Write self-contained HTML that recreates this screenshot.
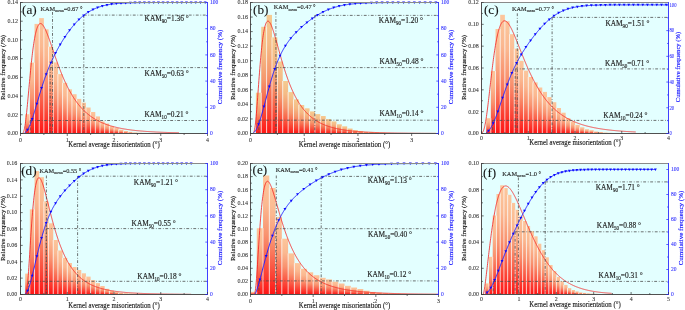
<!DOCTYPE html>
<html><head><meta charset="utf-8"><style>
html,body{margin:0;padding:0;background:#fff;}
svg{display:block;font-family:"Liberation Serif", serif;will-change:transform;}
</style></head><body>
<svg width="685" height="310" viewBox="0 0 685 310" xmlns="http://www.w3.org/2000/svg">
<defs><linearGradient id="bg" x1="0" y1="0" x2="0" y2="1">
<stop offset="0" stop-color="#fcc69c"/><stop offset="0.25" stop-color="#fbb890"/><stop offset="0.5" stop-color="#f9926f"/><stop offset="0.75" stop-color="#fb5542"/><stop offset="1" stop-color="#ff1414"/>
</linearGradient><linearGradient id="bg2" x1="0" y1="0" x2="0" y2="1">
<stop offset="0" stop-color="#f5cb91"/><stop offset="0.25" stop-color="#f5ba85"/><stop offset="0.5" stop-color="#f5966c"/><stop offset="0.75" stop-color="#f95840"/><stop offset="1" stop-color="#ff1614"/>
</linearGradient></defs>
<g><rect x="20.5" y="2.5" width="187.0" height="131.0" fill="#e3ffff"/>
<rect x="25.18" y="114.20" width="4.68" height="19.30" fill="url(#bg)"/>
<rect x="29.85" y="62.60" width="4.68" height="70.90" fill="url(#bg)"/>
<rect x="34.53" y="23.90" width="4.67" height="109.60" fill="url(#bg)"/>
<rect x="39.20" y="18.10" width="4.67" height="115.40" fill="url(#bg)"/>
<rect x="43.88" y="29.30" width="4.68" height="104.20" fill="url(#bg)"/>
<rect x="48.55" y="46.70" width="4.67" height="86.80" fill="url(#bg)"/>
<rect x="53.23" y="62.40" width="4.67" height="71.10" fill="url(#bg)"/>
<rect x="57.90" y="74.10" width="4.68" height="59.40" fill="url(#bg)"/>
<rect x="62.58" y="82.80" width="4.67" height="50.70" fill="url(#bg)"/>
<rect x="67.25" y="89.30" width="4.68" height="44.20" fill="url(#bg)"/>
<rect x="71.93" y="94.20" width="4.67" height="39.30" fill="url(#bg)"/>
<rect x="76.60" y="98.90" width="4.67" height="34.60" fill="url(#bg)"/>
<rect x="81.28" y="102.70" width="4.67" height="30.80" fill="url(#bg)"/>
<rect x="85.95" y="107.50" width="4.67" height="26.00" fill="url(#bg)"/>
<rect x="90.62" y="112.00" width="4.67" height="21.50" fill="url(#bg)"/>
<rect x="95.30" y="116.40" width="4.68" height="17.10" fill="url(#bg)"/>
<rect x="99.98" y="121.40" width="4.67" height="12.10" fill="url(#bg)"/>
<rect x="104.65" y="123.50" width="4.67" height="10.00" fill="url(#bg)"/>
<rect x="109.33" y="126.20" width="4.67" height="7.30" fill="url(#bg)"/>
<rect x="114.00" y="128.00" width="4.67" height="5.50" fill="url(#bg)"/>
<rect x="118.67" y="129.70" width="4.68" height="3.80" fill="url(#bg)"/>
<rect x="123.35" y="131.00" width="4.67" height="2.50" fill="url(#bg)"/>
<rect x="128.03" y="131.90" width="4.68" height="1.60" fill="url(#bg)"/>
<rect x="132.70" y="132.40" width="4.67" height="1.10" fill="url(#bg)"/>
<rect x="137.38" y="132.70" width="4.68" height="0.80" fill="url(#bg)"/>
<rect x="142.05" y="132.90" width="4.68" height="0.60" fill="url(#bg)"/>
<rect x="146.73" y="133.00" width="4.67" height="0.50" fill="url(#bg)"/>
<path d="M29.85,114.20V133.50 M34.53,62.60V133.50 M39.20,23.90V133.50 M43.88,29.30V133.50 M48.55,46.70V133.50 M53.23,62.40V133.50 M57.90,74.10V133.50 M62.58,82.80V133.50 M67.25,89.30V133.50 M71.93,94.20V133.50 M76.60,98.90V133.50 M81.28,102.70V133.50 M85.95,107.50V133.50 M90.62,112.00V133.50 M95.30,116.40V133.50 M99.98,121.40V133.50 M104.65,123.50V133.50 M109.33,126.20V133.50 M114.00,128.00V133.50 M118.67,129.70V133.50 M123.35,131.00V133.50 M128.03,131.90V133.50 M132.70,132.40V133.50 M137.38,132.70V133.50 M142.05,132.90V133.50 M146.73,133.00V133.50" stroke="#fff" stroke-opacity="0.85" stroke-width="0.8"/>
<polyline points="22.93,132.96 23.19,132.60 23.46,132.10 23.72,131.44 23.99,130.61 24.25,129.60 24.51,128.40 24.78,127.01 25.04,125.44 25.31,123.69 25.57,121.76 25.84,119.68 26.10,117.45 26.37,115.09 26.63,112.60 26.89,110.01 27.16,107.33 27.42,104.58 27.69,101.76 27.95,98.90 28.22,96.01 28.48,93.09 28.75,90.16 29.01,87.24 29.28,84.33 29.54,81.45 29.80,78.60 30.07,75.78 30.33,73.02 30.60,70.31 30.86,67.65 31.13,65.07 31.39,62.55 31.66,60.10 31.92,57.73 32.18,55.44 32.45,53.23 32.71,51.10 32.98,49.06 33.24,47.10 33.51,45.23 33.77,43.44 34.04,41.74 34.30,40.12 34.57,38.59 34.83,37.14 35.09,35.78 35.36,34.50 35.62,33.30 35.89,32.18 36.15,31.13 36.42,30.16 36.68,29.27 36.95,28.45 37.21,27.70 37.47,27.02 37.74,26.41 38.00,25.86 38.27,25.38 38.53,24.96 38.80,24.59 39.06,24.29 39.33,24.04 39.59,23.84 39.86,23.70 40.12,23.60 40.38,23.56 40.65,23.56 40.91,23.60 41.18,23.69 41.44,23.82 41.71,23.98 41.97,24.19 42.24,24.43 42.50,24.70 42.76,25.01 43.03,25.35 43.29,25.72 43.56,26.12 43.82,26.54 44.09,26.99 44.35,27.46 44.62,27.96 44.88,28.48 45.15,29.02 45.41,29.58 45.67,30.16 45.94,30.75 46.20,31.37 46.47,31.99 46.73,32.63 47.00,33.29 47.26,33.96 47.53,34.64 47.79,35.33 48.05,36.03 48.32,36.74 48.58,37.45 48.85,38.18 49.11,38.91 49.38,39.65 49.64,40.40 49.91,41.15 50.17,41.90 50.44,42.66 50.70,43.43 50.96,44.19 51.23,44.96 51.49,45.73 51.76,46.50 52.02,47.28 52.29,48.05 52.55,48.83 52.82,49.60 53.08,50.38 53.34,51.15 53.61,51.92 53.87,52.70 54.14,53.47 54.40,54.24 54.67,55.00 54.93,55.77 55.20,56.53 55.46,57.29 55.73,58.04 55.99,58.80 56.25,59.55 56.52,60.29 56.78,61.03 57.05,61.77 57.31,62.51 57.58,63.24 57.84,63.96 58.11,64.68 58.37,65.40 58.63,66.11 58.90,66.82 59.16,67.52 59.43,68.22 59.69,68.91 59.96,69.60 60.22,70.28 60.49,70.96 60.75,71.63 61.02,72.29 61.28,72.96 61.54,73.61 61.81,74.26 62.07,74.91 62.34,75.54 62.60,76.18 62.87,76.81 63.13,77.43 63.40,78.04 63.66,78.66 63.92,79.26 64.19,79.86 64.45,80.45 64.72,81.04 64.98,81.63 65.25,82.20 65.51,82.77 65.78,83.34 66.04,83.90 66.31,84.46 66.57,85.00 66.83,85.55 67.10,86.09 67.36,86.62 67.63,87.15 67.89,87.67 68.16,88.18 68.42,88.70 68.69,89.20 68.95,89.70 69.21,90.20 69.48,90.69 69.74,91.17 70.01,91.65 70.27,92.12 70.54,92.59 70.80,93.06 71.07,93.52 71.33,93.97 71.60,94.42 71.86,94.86 72.12,95.30 72.39,95.73 72.65,96.16 72.92,96.59 73.18,97.01 73.45,97.42 73.71,97.83 73.98,98.24 74.24,98.64 74.50,99.04 74.77,99.43 75.03,99.82 75.30,100.20 75.56,100.58 75.83,100.95 76.09,101.32 76.36,101.69 76.62,102.05 76.89,102.41 77.15,102.76 77.41,103.11 77.68,103.46 77.94,103.80 78.21,104.14 78.47,104.47 78.74,104.80 79.00,105.12 79.27,105.45 79.53,105.76 79.79,106.08 80.06,106.39 80.32,106.70 80.59,107.00 80.85,107.30 81.12,107.60 81.38,107.89 81.65,108.18 81.91,108.47 82.18,108.75 82.44,109.03 82.70,109.30 82.97,109.58 83.23,109.85 83.50,110.11 83.76,110.38 84.03,110.64 84.29,110.89 84.56,111.15 84.82,111.40 85.08,111.65 85.35,111.89 85.61,112.13 85.88,112.37 86.14,112.61 86.41,112.84 86.67,113.08 86.94,113.30 87.20,113.53 87.47,113.75 87.73,113.97 87.99,114.19 88.26,114.41 88.52,114.62 88.79,114.83 89.05,115.04 89.32,115.24 89.58,115.44 89.85,115.64 90.11,115.84 90.37,116.04 90.64,116.23 90.90,116.42 91.17,116.61 91.43,116.80 91.70,116.98 91.96,117.16 92.23,117.34 92.49,117.52 92.76,117.70 93.02,117.87 93.28,118.04 93.55,118.21 93.81,118.38 94.08,118.55 94.34,118.71 94.61,118.87 94.87,119.03 95.14,119.19 95.40,119.35 95.66,119.50 95.93,119.65 96.19,119.80 96.46,119.95 96.72,120.10 96.99,120.24 97.25,120.39 97.52,120.53 97.78,120.67 98.05,120.81 98.31,120.95 98.57,121.08 98.84,121.22 99.10,121.35 99.37,121.48 99.63,121.61 99.90,121.74 100.16,121.86 100.43,121.99 100.69,122.11 100.95,122.23 101.22,122.35 101.48,122.47 101.75,122.59 102.01,122.71 102.28,122.82 102.54,122.93 102.81,123.05 103.07,123.16 103.34,123.27 103.60,123.38 103.86,123.48 104.13,123.59 104.39,123.69 104.66,123.80 104.92,123.90 105.19,124.00 105.45,124.10 105.72,124.20 105.98,124.30 106.24,124.40 106.51,124.49 106.77,124.59 107.04,124.68 107.30,124.77 107.57,124.86 107.83,124.95 108.10,125.04 108.36,125.13 108.63,125.22 108.89,125.30 109.15,125.39 109.42,125.47 109.68,125.56 109.95,125.64 110.21,125.72 110.48,125.80 110.74,125.88 111.01,125.96 111.27,126.04 111.53,126.11 111.80,126.19 112.06,126.26 112.33,126.34 112.59,126.41 112.86,126.48 113.12,126.56 113.39,126.63 113.65,126.70 113.92,126.77 114.18,126.84 114.44,126.90 114.71,126.97 114.97,127.04 115.24,127.10 115.50,127.17 115.77,127.23 116.03,127.30 116.30,127.36 116.56,127.42 116.82,127.48 117.09,127.54 117.35,127.60 117.62,127.66 117.88,127.72 118.15,127.78 118.41,127.84 118.68,127.89 118.94,127.95 119.21,128.01 119.47,128.06 119.73,128.11 120.00,128.17 120.26,128.22 120.53,128.27 120.79,128.33 121.06,128.38 121.32,128.43 121.59,128.48 121.85,128.53 122.11,128.58 122.38,128.63 122.64,128.67 122.91,128.72 123.17,128.77 123.44,128.82 123.70,128.86 123.97,128.91 124.23,128.95 124.50,129.00 124.76,129.04 125.02,129.09 125.29,129.13 125.55,129.17 125.82,129.21 126.08,129.26 126.35,129.30 126.61,129.34 126.88,129.38 127.14,129.42 127.40,129.46 127.67,129.50 127.93,129.54 128.20,129.57 128.46,129.61 128.73,129.65 128.99,129.69 129.26,129.72 129.52,129.76 129.79,129.80 130.05,129.83 130.31,129.87 130.58,129.90 130.84,129.94 131.11,129.97 131.37,130.00 131.64,130.04 131.90,130.07 132.17,130.10 132.43,130.14 132.69,130.17 132.96,130.20 133.22,130.23 133.49,130.26 133.75,130.29 134.02,130.32 134.28,130.35 134.55,130.38 134.81,130.41 135.08,130.44 135.34,130.47 135.60,130.50 135.87,130.53 136.13,130.55 136.40,130.58 136.66,130.61 136.93,130.64 137.19,130.66 137.46,130.69 137.72,130.72 137.98,130.74 138.25,130.77 138.51,130.79 138.78,130.82 139.04,130.84 139.31,130.87 139.57,130.89 139.84,130.92 140.10,130.94 140.37,130.96 140.63,130.99 140.89,131.01 141.16,131.03 141.42,131.06 141.69,131.08 141.95,131.10 142.22,131.12 142.48,131.14 142.75,131.17 143.01,131.19 143.27,131.21 143.54,131.23 143.80,131.25 144.07,131.27 144.33,131.29 144.60,131.31 144.86,131.33 145.13,131.35 145.39,131.37 145.66,131.39 145.92,131.41 146.18,131.43 146.45,131.45 146.71,131.47 146.98,131.48 147.24,131.50 147.51,131.52 147.77,131.54 148.04,131.56 148.30,131.57 148.56,131.59 148.83,131.61 149.09,131.62 149.36,131.64 149.62,131.66 149.89,131.67 150.15,131.69 150.42,131.71 150.68,131.72 150.95,131.74 151.21,131.75 151.47,131.77 151.74,131.78 152.00,131.80 152.27,131.82 152.53,131.83 152.80,131.84 153.06,131.86 153.33,131.87 153.59,131.89 153.85,131.90 154.12,131.92 154.38,131.93 154.65,131.94 154.91,131.96 155.18,131.97 155.44,131.98 155.71,132.00 155.97,132.01 156.24,132.02 156.50,132.04 156.76,132.05 157.03,132.06 157.29,132.08 157.56,132.09 157.82,132.10 158.09,132.11 158.35,132.12 158.62,132.14 158.88,132.15 159.14,132.16 159.41,132.17 159.67,132.18 159.94,132.19 160.20,132.21 160.47,132.22 160.73,132.23 161.00,132.24 161.26,132.25 161.53,132.26 161.79,132.27 162.05,132.28 162.32,132.29 162.58,132.30 162.85,132.31 163.11,132.32 163.38,132.33 163.64,132.34 163.91,132.35 164.17,132.36 164.43,132.37 164.70,132.38 164.96,132.39 165.23,132.40 165.49,132.41 165.76,132.42 166.02,132.43 166.29,132.44 166.55,132.45 166.82,132.45 167.08,132.46 167.34,132.47 167.61,132.48 167.87,132.49 168.14,132.50 168.40,132.51 168.67,132.51 168.93,132.52 169.20,132.53 169.46,132.54 169.72,132.55 169.99,132.55 170.25,132.56 170.52,132.57 170.78,132.58 171.05,132.59 171.31,132.59 171.58,132.60 171.84,132.61 172.11,132.62 172.37,132.62 172.63,132.63 172.90,132.64 173.16,132.64 173.43,132.65 173.69,132.66 173.96,132.67 174.22,132.67 174.49,132.68 174.75,132.69 175.01,132.69 175.28,132.70 175.54,132.71 175.81,132.71 176.07,132.72 176.34,132.72 176.60,132.73 176.87,132.74 177.13,132.74 177.40,132.75 177.66,132.76 177.92,132.76 178.19,132.77 178.45,132.77 178.72,132.78 178.98,132.79" fill="none" stroke="#f41c1c" stroke-width="0.8"/>
<line x1="30.2" y1="120.5" x2="30.2" y2="133.5" stroke="#4c4c4c" stroke-width="0.8" stroke-dasharray="2.85 1.75 0.8 1.6" fill="none"/>
<line x1="50.2" y1="67.6" x2="50.2" y2="133.5" stroke="#4c4c4c" stroke-width="0.8" stroke-dasharray="2.85 1.75 0.8 1.6" fill="none"/>
<line x1="52.5" y1="12" x2="52.5" y2="133.5" stroke="#4c4c4c" stroke-width="0.8" stroke-dasharray="2.85 1.75 0.8 1.6" fill="none"/>
<line x1="83.8" y1="15.1" x2="83.8" y2="133.5" stroke="#4c4c4c" stroke-width="0.8" stroke-dasharray="2.85 1.75 0.8 1.6" fill="none"/>
<line x1="30.2" y1="120.5" x2="207.5" y2="120.5" stroke="#4c4c4c" stroke-width="0.8" stroke-dasharray="2.85 1.75 0.8 1.6" fill="none"/>
<line x1="50.2" y1="67.6" x2="207.5" y2="67.6" stroke="#4c4c4c" stroke-width="0.8" stroke-dasharray="2.85 1.75 0.8 1.6" fill="none"/>
<line x1="83.8" y1="15.1" x2="207.5" y2="15.1" stroke="#4c4c4c" stroke-width="0.8" stroke-dasharray="2.85 1.75 0.8 1.6" fill="none"/>
<polyline points="24.50,132.93 24.81,132.77 25.11,132.57 25.42,132.34 25.72,132.08 26.03,131.79 26.33,131.47 26.64,131.11 26.94,130.72 27.25,130.29 27.56,129.83 27.86,129.33 28.17,128.80 28.47,128.23 28.78,127.64 29.08,127.01 29.39,126.35 29.69,125.66 30.00,124.93 30.30,124.19 30.61,123.41 30.92,122.61 31.22,121.78 31.53,120.93 31.83,120.06 32.14,119.17 32.44,118.26 32.75,117.33 33.05,116.38 33.36,115.42 33.67,114.45 33.97,113.46 34.28,112.46 34.58,111.46 34.89,110.44 35.19,109.42 35.50,108.39 35.80,107.35 36.11,106.32 36.41,105.28 36.72,104.23 37.03,103.19 37.33,102.14 37.64,101.10 37.94,100.06 38.25,99.02 38.55,97.98 38.86,96.95 39.16,95.92 39.47,94.90 39.78,93.89 40.08,92.87 40.39,91.87 40.69,90.87 41.00,89.88 41.30,88.90 41.61,87.93 41.91,86.96 42.22,86.01 42.53,85.06 42.83,84.12 43.14,83.19 43.44,82.27 43.75,81.36 44.05,80.46 44.36,79.57 44.66,78.69 44.97,77.82 45.27,76.96 45.58,76.11 45.89,75.27 46.19,74.43 46.50,73.61 46.80,72.80 47.11,71.99 47.41,71.20 47.72,70.42 48.02,69.64 48.33,68.87 48.64,68.11 48.94,67.37 49.25,66.63 49.55,65.89 49.86,65.17 50.16,64.45 50.47,63.75 50.77,63.05 51.08,62.36 51.38,61.67 51.69,60.99 52.00,60.32 52.30,59.66 52.61,59.01 52.91,58.36 53.22,57.72 53.52,57.08 53.83,56.45 54.13,55.83 54.44,55.21 54.75,54.60 55.05,53.99 55.36,53.40 55.66,52.80 55.97,52.21 56.27,51.63 56.58,51.05 56.88,50.48 57.19,49.91 57.49,49.35 57.80,48.79 58.11,48.24 58.41,47.69 58.72,47.14 59.02,46.60 59.33,46.07 59.63,45.54 59.94,45.01 60.24,44.49 60.55,43.97 60.86,43.46 61.16,42.95 61.47,42.44 61.77,41.94 62.08,41.44 62.38,40.95 62.69,40.46 62.99,39.97 63.30,39.49 63.61,39.01 63.91,38.53 64.22,38.06 64.52,37.59 64.83,37.13 65.13,36.66 65.44,36.21 65.74,35.75 66.05,35.30 66.35,34.86 66.66,34.41 66.97,33.97 67.27,33.54 67.58,33.11 67.88,32.68 68.19,32.25 68.49,31.83 68.80,31.41 69.10,31.00 69.41,30.59 69.72,30.18 70.02,29.78 70.33,29.38 70.63,28.98 70.94,28.59 71.24,28.20 71.55,27.81 71.85,27.43 72.16,27.05 72.46,26.68 72.77,26.31 73.08,25.94 73.38,25.58 73.69,25.22 73.99,24.86 74.30,24.51 74.60,24.16 74.91,23.81 75.21,23.47 75.52,23.13 75.83,22.80 76.13,22.47 76.44,22.14 76.74,21.81 77.05,21.49 77.35,21.18 77.66,20.86 77.96,20.56 78.27,20.25 78.58,19.95 78.88,19.65 79.19,19.36 79.49,19.06 79.80,18.78 80.10,18.49 80.41,18.21 80.71,17.94 81.02,17.66 81.32,17.39 81.63,17.13 81.94,16.86 82.24,16.60 82.55,16.35 82.85,16.10 83.16,15.85 83.46,15.60 83.77,15.36 84.07,15.12 84.38,14.89 84.69,14.65 84.99,14.42 85.30,14.20 85.60,13.98 85.91,13.76 86.21,13.54 86.52,13.33 86.82,13.12 87.13,12.92 87.43,12.71 87.74,12.51 88.05,12.32 88.35,12.12 88.66,11.93 88.96,11.75 89.27,11.56 89.57,11.38 89.88,11.20 90.18,11.03 90.49,10.85 90.80,10.68 91.10,10.52 91.41,10.35 91.71,10.19 92.02,10.03 92.32,9.88 92.63,9.72 92.93,9.57 93.24,9.42 93.55,9.28 93.85,9.13 94.16,8.99 94.46,8.86 94.77,8.72 95.07,8.59 95.38,8.46 95.68,8.33 95.99,8.20 96.29,8.08 96.60,7.96 96.91,7.84 97.21,7.72 97.52,7.61 97.82,7.50 98.13,7.38 98.43,7.28 98.74,7.17 99.04,7.07 99.35,6.96 99.66,6.86 99.96,6.77 100.27,6.67 100.57,6.57 100.88,6.48 101.18,6.39 101.49,6.30 101.79,6.22 102.10,6.13 102.40,6.05 102.71,5.96 103.02,5.88 103.32,5.81 103.63,5.73 103.93,5.65 104.24,5.58 104.54,5.51 104.85,5.44 105.15,5.37 105.46,5.30 105.77,5.23 106.07,5.17 106.38,5.10 106.68,5.04 106.99,4.98 107.29,4.92 107.60,4.86 107.90,4.81 108.21,4.75 108.52,4.70 108.82,4.64 109.13,4.59 109.43,4.54 109.74,4.49 110.04,4.44 110.35,4.39 110.65,4.35 110.96,4.30 111.26,4.26 111.57,4.21 111.88,4.17 112.18,4.13 112.49,4.09 112.79,4.05 113.10,4.01 113.40,3.97 113.71,3.93 114.01,3.90 114.32,3.86 114.63,3.83 114.93,3.79 115.24,3.76 115.54,3.73 115.85,3.70 116.15,3.67 116.46,3.64 116.76,3.61 117.07,3.58 117.37,3.55 117.68,3.52 117.99,3.50 118.29,3.47 118.60,3.45 118.90,3.42 119.21,3.40 119.51,3.37 119.82,3.35 120.12,3.33 120.43,3.31 120.74,3.29 121.04,3.26 121.35,3.24 121.65,3.22 121.96,3.21 122.26,3.19 122.57,3.17 122.87,3.15 123.18,3.13 123.48,3.12 123.79,3.10 124.10,3.08 124.40,3.07 124.71,3.05 125.01,3.04 125.32,3.02 125.62,3.01 125.93,2.99 126.23,2.98 126.54,2.97 126.85,2.96 127.15,2.94 127.46,2.93 127.76,2.92 128.07,2.91 128.37,2.90 128.68,2.89 128.98,2.87 129.29,2.86 129.60,2.85 129.90,2.84 130.21,2.84 130.51,2.83 130.82,2.82 131.12,2.81 131.43,2.80 131.73,2.79 132.04,2.78 132.34,2.77 132.65,2.77 132.96,2.76 133.26,2.75 133.57,2.75 133.87,2.74 134.18,2.73 134.48,2.72 134.79,2.72 135.09,2.71 135.40,2.71 135.71,2.70 136.01,2.69 136.32,2.69 136.62,2.68 136.93,2.68 137.23,2.67 137.54,2.67 137.84,2.66 138.15,2.66 138.45,2.65 138.76,2.65 139.07,2.65 139.37,2.64 139.68,2.64 139.98,2.63 140.29,2.63 140.59,2.63 140.90,2.62 141.20,2.62 141.51,2.62 141.82,2.61 142.12,2.61 142.43,2.61 142.73,2.60 143.04,2.60 143.34,2.60 143.65,2.59 143.95,2.59 144.26,2.59 144.57,2.59 144.87,2.58 145.18,2.58 145.48,2.58 145.79,2.58 146.09,2.57 146.40,2.57 146.70,2.57 147.01,2.57 147.31,2.57 147.62,2.56 147.93,2.56 148.23,2.56 148.54,2.56 148.84,2.56 149.15,2.55 149.45,2.55 149.76,2.55 150.06,2.55 150.37,2.55 150.68,2.55 150.98,2.55 151.29,2.54 151.59,2.54 151.90,2.54 152.20,2.54 152.51,2.54 152.81,2.54 153.12,2.54 153.42,2.54 153.73,2.53 154.04,2.53 154.34,2.53 154.65,2.53 154.95,2.53 155.26,2.53 155.56,2.53 155.87,2.53 156.17,2.53 156.48,2.53 156.79,2.53 157.09,2.52 157.40,2.52 157.70,2.52 158.01,2.52 158.31,2.52 158.62,2.52 158.92,2.52 159.23,2.52 159.54,2.52 159.84,2.52 160.15,2.52 160.45,2.52 160.76,2.52 161.06,2.52 161.37,2.52 161.67,2.52 161.98,2.51 162.28,2.51 162.59,2.51 162.90,2.51 163.20,2.51 163.51,2.51 163.81,2.51 164.12,2.51 164.42,2.51 164.73,2.51 165.03,2.51 165.34,2.51 165.65,2.51 165.95,2.51 166.26,2.51 166.56,2.51 166.87,2.51 167.17,2.51 167.48,2.51 167.78,2.51 168.09,2.51 168.39,2.51 168.70,2.51 169.01,2.51 169.31,2.51 169.62,2.51 169.92,2.51 170.23,2.51 170.53,2.51 170.84,2.51 171.14,2.51 171.45,2.51 171.76,2.51 172.06,2.51 172.37,2.50 172.67,2.50 172.98,2.50 173.28,2.50 173.59,2.50 173.89,2.50 174.20,2.50 174.51,2.50 174.81,2.50 175.12,2.50 175.42,2.50 175.73,2.50 176.03,2.50 176.34,2.50 176.64,2.50 176.95,2.50 177.25,2.50 177.56,2.50 177.87,2.50 178.17,2.50 178.48,2.50 178.78,2.50 179.09,2.50 179.39,2.50 179.70,2.50 180.00,2.50 180.31,2.50 180.62,2.50 180.92,2.50 181.23,2.50 181.53,2.50 181.84,2.50 182.14,2.50 182.45,2.50 182.75,2.50 183.06,2.50 183.36,2.50 183.67,2.50 183.98,2.50 184.28,2.50 184.59,2.50 184.89,2.50 185.20,2.50 185.50,2.50 185.81,2.50 186.11,2.50 186.42,2.50 186.73,2.50 187.03,2.50 187.34,2.50 187.64,2.50 187.95,2.50 188.25,2.50 188.56,2.50 188.86,2.50 189.17,2.50 189.47,2.50 189.78,2.50 190.09,2.50 190.39,2.50 190.70,2.50 191.00,2.50 191.31,2.50 191.61,2.50 191.92,2.50 192.22,2.50 192.53,2.50 192.84,2.50 193.14,2.50 193.45,2.50 193.75,2.50 194.06,2.50 194.36,2.50 194.67,2.50 194.97,2.50 195.28,2.50 195.59,2.50 195.89,2.50 196.20,2.50 196.50,2.50 196.81,2.50 197.11,2.50 197.42,2.50 197.72,2.50 198.03,2.50 198.33,2.50 198.64,2.50 198.95,2.50 199.25,2.50 199.56,2.50 199.86,2.50 200.17,2.50 200.47,2.50 200.78,2.50 201.08,2.50 201.39,2.50 201.70,2.50 202.00,2.50 202.31,2.50 202.61,2.50 202.92,2.50 203.22,2.50 203.53,2.50 203.83,2.50 204.14,2.50 204.44,2.50 204.75,2.50 205.06,2.50 205.36,2.50 205.67,2.50 205.97,2.50 206.28,2.50 206.58,2.50 206.89,2.50 207.19,2.50 207.50,2.50" fill="none" stroke="#2424ff" stroke-width="1.0"/>
<path d="M26.06,128.79h2.9l-1.45,2.5z" fill="#0a0aff"/>
<path d="M30.74,117.92h2.9l-1.45,2.5z" fill="#0a0aff"/>
<path d="M35.41,102.65h2.9l-1.45,2.5z" fill="#0a0aff"/>
<path d="M40.09,87.05h2.9l-1.45,2.5z" fill="#0a0aff"/>
<path d="M44.76,73.28h2.9l-1.45,2.5z" fill="#0a0aff"/>
<path d="M49.44,61.69h2.9l-1.45,2.5z" fill="#0a0aff"/>
<path d="M54.11,51.89h2.9l-1.45,2.5z" fill="#0a0aff"/>
<path d="M58.79,43.40h2.9l-1.45,2.5z" fill="#0a0aff"/>
<path d="M63.46,35.90h2.9l-1.45,2.5z" fill="#0a0aff"/>
<path d="M68.14,29.25h2.9l-1.45,2.5z" fill="#0a0aff"/>
<path d="M72.81,23.45h2.9l-1.45,2.5z" fill="#0a0aff"/>
<path d="M77.49,18.49h2.9l-1.45,2.5z" fill="#0a0aff"/>
<path d="M82.16,14.38h2.9l-1.45,2.5z" fill="#0a0aff"/>
<path d="M86.84,11.06h2.9l-1.45,2.5z" fill="#0a0aff"/>
<path d="M91.51,8.46h2.9l-1.45,2.5z" fill="#0a0aff"/>
<path d="M96.19,6.46h2.9l-1.45,2.5z" fill="#0a0aff"/>
<path d="M100.86,4.97h2.9l-1.45,2.5z" fill="#0a0aff"/>
<path d="M105.54,3.88h2.9l-1.45,2.5z" fill="#0a0aff"/>
<path d="M110.21,3.10h2.9l-1.45,2.5z" fill="#0a0aff"/>
<path d="M114.89,2.55h2.9l-1.45,2.5z" fill="#0a0aff"/>
<path d="M119.56,2.17h2.9l-1.45,2.5z" fill="#0a0aff"/>
<path d="M124.24,1.91h2.9l-1.45,2.5z" fill="#0a0aff"/>
<path d="M128.91,1.73h2.9l-1.45,2.5z" fill="#0a0aff"/>
<path d="M133.59,1.61h2.9l-1.45,2.5z" fill="#0a0aff"/>
<path d="M138.26,1.54h2.9l-1.45,2.5z" fill="#0a0aff"/>
<path d="M142.94,1.49h2.9l-1.45,2.5z" fill="#0a0aff"/>
<path d="M147.61,1.45h2.9l-1.45,2.5z" fill="#0a0aff"/>
<path d="M152.29,1.43h2.9l-1.45,2.5z" fill="#0a0aff"/>
<path d="M156.96,1.42h2.9l-1.45,2.5z" fill="#0a0aff"/>
<path d="M161.64,1.41h2.9l-1.45,2.5z" fill="#0a0aff"/>
<path d="M166.31,1.41h2.9l-1.45,2.5z" fill="#0a0aff"/>
<path d="M170.99,1.40h2.9l-1.45,2.5z" fill="#0a0aff"/>
<path d="M175.66,1.40h2.9l-1.45,2.5z" fill="#0a0aff"/>
<path d="M180.34,1.40h2.9l-1.45,2.5z" fill="#0a0aff"/>
<path d="M185.01,1.40h2.9l-1.45,2.5z" fill="#0a0aff"/>
<path d="M189.69,1.40h2.9l-1.45,2.5z" fill="#0a0aff"/>
<path d="M194.36,1.40h2.9l-1.45,2.5z" fill="#0a0aff"/>
<path d="M199.04,1.40h2.9l-1.45,2.5z" fill="#0a0aff"/>
<path d="M203.71,1.40h2.9l-1.45,2.5z" fill="#0a0aff"/>
<line x1="20.0" y1="2.5" x2="207.5" y2="2.5" stroke="#8a8a8a" stroke-width="1"/>
<line x1="20.5" y1="2.0" x2="20.5" y2="134.0" stroke="#505050" stroke-width="1"/>
<line x1="20.0" y1="133.5" x2="207.5" y2="133.5" stroke="#505050" stroke-width="1"/>
<line x1="207.5" y1="2.0" x2="207.5" y2="134.0" stroke="#4040ff" stroke-width="1"/>
<path d="M20.5,133.50h2.2 M20.5,124.14h1.4 M20.5,114.79h2.2 M20.5,105.43h1.4 M20.5,96.07h2.2 M20.5,86.71h1.4 M20.5,77.36h2.2 M20.5,68.00h1.4 M20.5,58.64h2.2 M20.5,49.29h1.4 M20.5,39.93h2.2 M20.5,30.57h1.4 M20.5,21.21h2.2 M20.5,11.86h1.4 M20.5,2.50h2.2" stroke="#333" stroke-width="0.7"/>
<text transform="translate(18.10,135.35) scale(1.0,1)" font-size="6.0" fill="#333" text-anchor="end" stroke="#333" stroke-width="0.08">0.00</text>
<text transform="translate(18.10,116.64) scale(1.0,1)" font-size="6.0" fill="#333" text-anchor="end" stroke="#333" stroke-width="0.08">0.02</text>
<text transform="translate(18.10,97.92) scale(1.0,1)" font-size="6.0" fill="#333" text-anchor="end" stroke="#333" stroke-width="0.08">0.04</text>
<text transform="translate(18.10,79.21) scale(1.0,1)" font-size="6.0" fill="#333" text-anchor="end" stroke="#333" stroke-width="0.08">0.06</text>
<text transform="translate(18.10,60.49) scale(1.0,1)" font-size="6.0" fill="#333" text-anchor="end" stroke="#333" stroke-width="0.08">0.08</text>
<text transform="translate(18.10,41.78) scale(1.0,1)" font-size="6.0" fill="#333" text-anchor="end" stroke="#333" stroke-width="0.08">0.10</text>
<text transform="translate(18.10,23.06) scale(1.0,1)" font-size="6.0" fill="#333" text-anchor="end" stroke="#333" stroke-width="0.08">0.12</text>
<text transform="translate(18.10,4.35) scale(1.0,1)" font-size="6.0" fill="#333" text-anchor="end" stroke="#333" stroke-width="0.08">0.14</text>
<path d="M20.50,133.5v2.5 M43.88,133.5v1.5 M67.25,133.5v2.5 M90.62,133.5v1.5 M114.00,133.5v2.5 M137.38,133.5v1.5 M160.75,133.5v2.5 M184.12,133.5v1.5 M207.50,133.5v2.5" stroke="#333" stroke-width="0.7"/>
<text transform="translate(20.50,141.80) scale(1.0,1)" font-size="5.9" fill="#333" text-anchor="middle" stroke="#333" stroke-width="0.08">0</text>
<text transform="translate(67.25,141.80) scale(1.0,1)" font-size="5.9" fill="#333" text-anchor="middle" stroke="#333" stroke-width="0.08">1</text>
<text transform="translate(114.00,141.80) scale(1.0,1)" font-size="5.9" fill="#333" text-anchor="middle" stroke="#333" stroke-width="0.08">2</text>
<text transform="translate(160.75,141.80) scale(1.0,1)" font-size="5.9" fill="#333" text-anchor="middle" stroke="#333" stroke-width="0.08">3</text>
<text transform="translate(207.50,141.80) scale(1.0,1)" font-size="5.9" fill="#333" text-anchor="middle" stroke="#333" stroke-width="0.08">4</text>
<path d="M207.5,133.50h-2.2 M207.5,120.40h-1.4 M207.5,107.30h-2.2 M207.5,94.20h-1.4 M207.5,81.10h-2.2 M207.5,68.00h-1.4 M207.5,54.90h-2.2 M207.5,41.80h-1.4 M207.5,28.70h-2.2 M207.5,15.60h-1.4 M207.5,2.50h-2.2" stroke="#2222ff" stroke-width="0.7"/>
<text transform="translate(210.10,135.25) scale(1.0,1)" font-size="5.5" fill="#2a2aff" text-anchor="start" stroke="#2a2aff" stroke-width="0.08">0</text>
<text transform="translate(210.10,109.05) scale(1.0,1)" font-size="5.5" fill="#2a2aff" text-anchor="start" stroke="#2a2aff" stroke-width="0.08">20</text>
<text transform="translate(210.10,82.85) scale(1.0,1)" font-size="5.5" fill="#2a2aff" text-anchor="start" stroke="#2a2aff" stroke-width="0.08">40</text>
<text transform="translate(210.10,56.65) scale(1.0,1)" font-size="5.5" fill="#2a2aff" text-anchor="start" stroke="#2a2aff" stroke-width="0.08">60</text>
<text transform="translate(210.10,30.45) scale(1.0,1)" font-size="5.5" fill="#2a2aff" text-anchor="start" stroke="#2a2aff" stroke-width="0.08">80</text>
<text transform="translate(210.10,4.25) scale(1.0,1)" font-size="5.5" fill="#2a2aff" text-anchor="start" stroke="#2a2aff" stroke-width="0.08">100</text>
<text transform="translate(5.40,67.50) rotate(-90) scale(0.97,1)" font-size="7" fill="#1a1a1a" text-anchor="middle" stroke="#1a1a1a" stroke-width="0.16">Relative frequency (/%)</text>
<text transform="translate(222.40,67.00) rotate(-90) scale(1.0,1)" font-size="7" fill="#2020ff" text-anchor="middle" stroke="#2020ff" stroke-width="0.16">Cumulative frequency (%)</text>
<text transform="translate(114.00,147.20) scale(0.92,1)" font-size="7.4" fill="#1a1a1a" text-anchor="middle" stroke="#1a1a1a" stroke-width="0.14">Kernel average misorientation (°)</text>
<text transform="translate(22.10,13.90) scale(0.98,1)" font-size="13.5" fill="#151515" text-anchor="start" stroke="#151515" stroke-width="0.1">(a)</text>
<text transform="translate(40.50,10.60) scale(0.89,1)" font-size="7.1" fill="#222" text-anchor="start" stroke="#222" stroke-width="0.12">KAM<tspan font-size="4.4" dy="1.2">mean</tspan><tspan dy="-1.2">=0.67 °</tspan></text>
<text transform="translate(144.60,21.20) scale(0.9,1)" font-size="8.2" fill="#222" text-anchor="start" stroke="#222" stroke-width="0.15">KAM<tspan font-size="5.6" dy="2">90</tspan><tspan dy="-2">=1.36 °</tspan></text>
<text transform="translate(144.60,75.50) scale(0.9,1)" font-size="8.2" fill="#222" text-anchor="start" stroke="#222" stroke-width="0.15">KAM<tspan font-size="5.6" dy="2">50</tspan><tspan dy="-2">=0.63 °</tspan></text>
<text transform="translate(144.40,116.80) scale(0.9,1)" font-size="8.2" fill="#222" text-anchor="start" stroke="#222" stroke-width="0.15">KAM<tspan font-size="5.6" dy="2">10</tspan><tspan dy="-2">=0.21 °</tspan></text></g>
<g><rect x="250.5" y="2.5" width="188.0" height="131.0" fill="#e3ffff"/>
<rect x="255.87" y="92.70" width="5.37" height="40.80" fill="url(#bg2)"/>
<rect x="261.24" y="26.80" width="5.37" height="106.70" fill="url(#bg2)"/>
<rect x="266.61" y="14.90" width="5.37" height="118.60" fill="url(#bg2)"/>
<rect x="271.99" y="37.40" width="5.37" height="96.10" fill="url(#bg2)"/>
<rect x="277.36" y="61.50" width="5.37" height="72.00" fill="url(#bg2)"/>
<rect x="282.73" y="81.00" width="5.37" height="52.50" fill="url(#bg2)"/>
<rect x="288.10" y="92.10" width="5.37" height="41.40" fill="url(#bg2)"/>
<rect x="293.47" y="99.40" width="5.37" height="34.10" fill="url(#bg2)"/>
<rect x="298.84" y="105.00" width="5.37" height="28.50" fill="url(#bg2)"/>
<rect x="304.21" y="108.30" width="5.37" height="25.20" fill="url(#bg2)"/>
<rect x="309.59" y="111.40" width="5.37" height="22.10" fill="url(#bg2)"/>
<rect x="314.96" y="114.10" width="5.37" height="19.40" fill="url(#bg2)"/>
<rect x="320.33" y="116.00" width="5.37" height="17.50" fill="url(#bg2)"/>
<rect x="325.70" y="119.10" width="5.37" height="14.40" fill="url(#bg2)"/>
<rect x="331.07" y="121.40" width="5.37" height="12.10" fill="url(#bg2)"/>
<rect x="336.44" y="124.30" width="5.37" height="9.20" fill="url(#bg2)"/>
<rect x="341.81" y="126.30" width="5.37" height="7.20" fill="url(#bg2)"/>
<rect x="347.19" y="128.50" width="5.37" height="5.00" fill="url(#bg2)"/>
<rect x="352.56" y="130.20" width="5.37" height="3.30" fill="url(#bg2)"/>
<rect x="357.93" y="131.10" width="5.37" height="2.40" fill="url(#bg2)"/>
<rect x="363.30" y="131.90" width="5.37" height="1.60" fill="url(#bg2)"/>
<rect x="368.67" y="132.10" width="5.37" height="1.40" fill="url(#bg2)"/>
<rect x="374.04" y="132.30" width="5.37" height="1.20" fill="url(#bg2)"/>
<rect x="379.41" y="132.60" width="5.37" height="0.90" fill="url(#bg2)"/>
<rect x="384.79" y="132.80" width="5.37" height="0.70" fill="url(#bg2)"/>
<rect x="390.16" y="133.00" width="5.37" height="0.50" fill="url(#bg2)"/>
<path d="M261.24,92.70V133.50 M266.61,26.80V133.50 M271.99,37.40V133.50 M277.36,61.50V133.50 M282.73,81.00V133.50 M288.10,92.10V133.50 M293.47,99.40V133.50 M298.84,105.00V133.50 M304.21,108.30V133.50 M309.59,111.40V133.50 M314.96,114.10V133.50 M320.33,116.00V133.50 M325.70,119.10V133.50 M331.07,121.40V133.50 M336.44,124.30V133.50 M341.81,126.30V133.50 M347.19,128.50V133.50 M352.56,130.20V133.50 M357.93,131.10V133.50 M363.30,131.90V133.50 M368.67,132.10V133.50 M374.04,132.30V133.50 M379.41,132.60V133.50 M384.79,132.80V133.50 M390.16,133.00V133.50" stroke="#fff" stroke-opacity="0.85" stroke-width="0.8"/>
<polyline points="253.65,132.71 253.96,131.99 254.27,130.94 254.57,129.51 254.88,127.70 255.19,125.49 255.50,122.91 255.81,119.98 256.12,116.74 256.43,113.22 256.74,109.48 257.05,105.55 257.36,101.47 257.67,97.30 257.98,93.07 258.29,88.82 258.60,84.57 258.90,80.37 259.21,76.23 259.52,72.19 259.83,68.25 260.14,64.44 260.45,60.77 260.76,57.25 261.07,53.90 261.38,50.71 261.69,47.69 262.00,44.84 262.31,42.18 262.62,39.69 262.93,37.38 263.23,35.24 263.54,33.27 263.85,31.47 264.16,29.83 264.47,28.35 264.78,27.03 265.09,25.86 265.40,24.83 265.71,23.94 266.02,23.18 266.33,22.56 266.64,22.05 266.95,21.66 267.26,21.38 267.56,21.20 267.87,21.12 268.18,21.14 268.49,21.24 268.80,21.43 269.11,21.70 269.42,22.04 269.73,22.46 270.04,22.93 270.35,23.47 270.66,24.07 270.97,24.71 271.28,25.41 271.58,26.15 271.89,26.94 272.20,27.76 272.51,28.62 272.82,29.51 273.13,30.43 273.44,31.38 273.75,32.35 274.06,33.34 274.37,34.36 274.68,35.39 274.99,36.44 275.30,37.50 275.61,38.57 275.91,39.66 276.22,40.75 276.53,41.85 276.84,42.95 277.15,44.06 277.46,45.17 277.77,46.29 278.08,47.40 278.39,48.51 278.70,49.63 279.01,50.74 279.32,51.84 279.63,52.95 279.94,54.05 280.24,55.14 280.55,56.23 280.86,57.31 281.17,58.38 281.48,59.45 281.79,60.51 282.10,61.56 282.41,62.60 282.72,63.63 283.03,64.66 283.34,65.67 283.65,66.67 283.96,67.67 284.27,68.65 284.57,69.62 284.88,70.58 285.19,71.54 285.50,72.47 285.81,73.40 286.12,74.32 286.43,75.23 286.74,76.12 287.05,77.01 287.36,77.88 287.67,78.74 287.98,79.59 288.29,80.42 288.60,81.25 288.90,82.07 289.21,82.87 289.52,83.66 289.83,84.44 290.14,85.21 290.45,85.97 290.76,86.72 291.07,87.46 291.38,88.19 291.69,88.90 292.00,89.61 292.31,90.30 292.62,90.98 292.93,91.66 293.23,92.32 293.54,92.97 293.85,93.62 294.16,94.25 294.47,94.87 294.78,95.49 295.09,96.09 295.40,96.69 295.71,97.27 296.02,97.85 296.33,98.41 296.64,98.97 296.95,99.52 297.26,100.06 297.56,100.59 297.87,101.11 298.18,101.63 298.49,102.13 298.80,102.63 299.11,103.12 299.42,103.60 299.73,104.08 300.04,104.54 300.35,105.00 300.66,105.45 300.97,105.90 301.28,106.33 301.59,106.76 301.89,107.18 302.20,107.60 302.51,108.01 302.82,108.41 303.13,108.81 303.44,109.19 303.75,109.58 304.06,109.95 304.37,110.32 304.68,110.69 304.99,111.04 305.30,111.39 305.61,111.74 305.92,112.08 306.22,112.41 306.53,112.74 306.84,113.07 307.15,113.39 307.46,113.70 307.77,114.01 308.08,114.31 308.39,114.61 308.70,114.90 309.01,115.19 309.32,115.47 309.63,115.75 309.94,116.02 310.25,116.29 310.55,116.56 310.86,116.82 311.17,117.07 311.48,117.32 311.79,117.57 312.10,117.82 312.41,118.05 312.72,118.29 313.03,118.52 313.34,118.75 313.65,118.97 313.96,119.20 314.27,119.41 314.58,119.63 314.88,119.84 315.19,120.04 315.50,120.25 315.81,120.45 316.12,120.64 316.43,120.83 316.74,121.03 317.05,121.21 317.36,121.40 317.67,121.58 317.98,121.76 318.29,121.93 318.60,122.10 318.91,122.27 319.21,122.44 319.52,122.60 319.83,122.76 320.14,122.92 320.45,123.08 320.76,123.23 321.07,123.38 321.38,123.53 321.69,123.68 322.00,123.82 322.31,123.97 322.62,124.11 322.93,124.24 323.24,124.38 323.54,124.51 323.85,124.64 324.16,124.77 324.47,124.90 324.78,125.02 325.09,125.14 325.40,125.27 325.71,125.38 326.02,125.50 326.33,125.62 326.64,125.73 326.95,125.84 327.26,125.95 327.57,126.06 327.87,126.17 328.18,126.27 328.49,126.37 328.80,126.47 329.11,126.57 329.42,126.67 329.73,126.77 330.04,126.87 330.35,126.96 330.66,127.05 330.97,127.14 331.28,127.23 331.59,127.32 331.90,127.41 332.20,127.49 332.51,127.58 332.82,127.66 333.13,127.74 333.44,127.82 333.75,127.90 334.06,127.98 334.37,128.05 334.68,128.13 334.99,128.20 335.30,128.28 335.61,128.35 335.92,128.42 336.23,128.49 336.53,128.56 336.84,128.63 337.15,128.69 337.46,128.76 337.77,128.82 338.08,128.89 338.39,128.95 338.70,129.01 339.01,129.07 339.32,129.13 339.63,129.19 339.94,129.25 340.25,129.31 340.56,129.36 340.86,129.42 341.17,129.48 341.48,129.53 341.79,129.58 342.10,129.64 342.41,129.69 342.72,129.74 343.03,129.79 343.34,129.84 343.65,129.89 343.96,129.93 344.27,129.98 344.58,130.03 344.89,130.07 345.19,130.12 345.50,130.16 345.81,130.21 346.12,130.25 346.43,130.29 346.74,130.34 347.05,130.38 347.36,130.42 347.67,130.46 347.98,130.50 348.29,130.54 348.60,130.58 348.91,130.61 349.22,130.65 349.52,130.69 349.83,130.72 350.14,130.76 350.45,130.80 350.76,130.83 351.07,130.86 351.38,130.90 351.69,130.93 352.00,130.96 352.31,131.00 352.62,131.03 352.93,131.06 353.24,131.09 353.54,131.12 353.85,131.15 354.16,131.18 354.47,131.21 354.78,131.24 355.09,131.27 355.40,131.30 355.71,131.33 356.02,131.35 356.33,131.38 356.64,131.41 356.95,131.43 357.26,131.46 357.57,131.48 357.87,131.51 358.18,131.53 358.49,131.56 358.80,131.58 359.11,131.61 359.42,131.63 359.73,131.65 360.04,131.68 360.35,131.70 360.66,131.72 360.97,131.74 361.28,131.76 361.59,131.79 361.90,131.81 362.20,131.83 362.51,131.85 362.82,131.87 363.13,131.89 363.44,131.91 363.75,131.93 364.06,131.95 364.37,131.96 364.68,131.98 364.99,132.00 365.30,132.02 365.61,132.04 365.92,132.06 366.23,132.07 366.53,132.09 366.84,132.11 367.15,132.12 367.46,132.14 367.77,132.16 368.08,132.17 368.39,132.19 368.70,132.20 369.01,132.22 369.32,132.23 369.63,132.25 369.94,132.26 370.25,132.28 370.56,132.29 370.86,132.31 371.17,132.32 371.48,132.34 371.79,132.35 372.10,132.36 372.41,132.38 372.72,132.39 373.03,132.40 373.34,132.42 373.65,132.43 373.96,132.44 374.27,132.45 374.58,132.46 374.89,132.48 375.19,132.49 375.50,132.50 375.81,132.51 376.12,132.52 376.43,132.53 376.74,132.55 377.05,132.56 377.36,132.57 377.67,132.58 377.98,132.59 378.29,132.60 378.60,132.61 378.91,132.62 379.22,132.63 379.52,132.64 379.83,132.65 380.14,132.66 380.45,132.67 380.76,132.68 381.07,132.69 381.38,132.70 381.69,132.71 382.00,132.71 382.31,132.72 382.62,132.73 382.93,132.74 383.24,132.75 383.55,132.76 383.85,132.77 384.16,132.77 384.47,132.78 384.78,132.79 385.09,132.80 385.40,132.81 385.71,132.81 386.02,132.82 386.33,132.83 386.64,132.84 386.95,132.84 387.26,132.85 387.57,132.86 387.88,132.87 388.18,132.87 388.49,132.88 388.80,132.89 389.11,132.89 389.42,132.90 389.73,132.91 390.04,132.91 390.35,132.92 390.66,132.93 390.97,132.93 391.28,132.94 391.59,132.94 391.90,132.95 392.21,132.96 392.51,132.96 392.82,132.97 393.13,132.97 393.44,132.98 393.75,132.98 394.06,132.99 394.37,133.00 394.68,133.00 394.99,133.01 395.30,133.01 395.61,133.02 395.92,133.02 396.23,133.03 396.54,133.03 396.84,133.04 397.15,133.04 397.46,133.05 397.77,133.05 398.08,133.06 398.39,133.06 398.70,133.07 399.01,133.07 399.32,133.08 399.63,133.08 399.94,133.08 400.25,133.09 400.56,133.09 400.87,133.10 401.17,133.10 401.48,133.11 401.79,133.11 402.10,133.11 402.41,133.12 402.72,133.12 403.03,133.13 403.34,133.13 403.65,133.13 403.96,133.14 404.27,133.14 404.58,133.14 404.89,133.15 405.20,133.15 405.50,133.16 405.81,133.16 406.12,133.16 406.43,133.17 406.74,133.17 407.05,133.17 407.36,133.18 407.67,133.18 407.98,133.18 408.29,133.19 408.60,133.19 408.91,133.19 409.22,133.20 409.53,133.20 409.83,133.20 410.14,133.21 410.45,133.21 410.76,133.21 411.07,133.21 411.38,133.22 411.69,133.22 412.00,133.22 412.31,133.23 412.62,133.23 412.93,133.23 413.24,133.23 413.55,133.24 413.86,133.24 414.16,133.24 414.47,133.24 414.78,133.25 415.09,133.25 415.40,133.25 415.71,133.25 416.02,133.26 416.33,133.26 416.64,133.26 416.95,133.26 417.26,133.27 417.57,133.27 417.88,133.27 418.19,133.27 418.49,133.28 418.80,133.28 419.11,133.28 419.42,133.28 419.73,133.28 420.04,133.29 420.35,133.29 420.66,133.29 420.97,133.29 421.28,133.29 421.59,133.30 421.90,133.30 422.21,133.30 422.52,133.30 422.82,133.30 423.13,133.31 423.44,133.31 423.75,133.31 424.06,133.31 424.37,133.31 424.68,133.32 424.99,133.32 425.30,133.32 425.61,133.32 425.92,133.32 426.23,133.32 426.54,133.33 426.85,133.33 427.15,133.33 427.46,133.33 427.77,133.33 428.08,133.33 428.39,133.34 428.70,133.34 429.01,133.34 429.32,133.34 429.63,133.34 429.94,133.34 430.25,133.34 430.56,133.35 430.87,133.35 431.18,133.35 431.48,133.35 431.79,133.35 432.10,133.35 432.41,133.35 432.72,133.36 433.03,133.36 433.34,133.36 433.65,133.36 433.96,133.36 434.27,133.36 434.58,133.36 434.89,133.37 435.20,133.37 435.51,133.37 435.81,133.37" fill="none" stroke="#f41c1c" stroke-width="0.8"/>
<line x1="258.9" y1="120.2" x2="258.9" y2="133.5" stroke="#4c4c4c" stroke-width="0.8" stroke-dasharray="2.85 1.75 0.8 1.6" fill="none"/>
<line x1="276.1" y1="67.6" x2="276.1" y2="133.5" stroke="#4c4c4c" stroke-width="0.8" stroke-dasharray="2.85 1.75 0.8 1.6" fill="none"/>
<line x1="275.9" y1="12" x2="275.9" y2="133.5" stroke="#4c4c4c" stroke-width="0.8" stroke-dasharray="2.85 1.75 0.8 1.6" fill="none"/>
<line x1="314.8" y1="15.4" x2="314.8" y2="133.5" stroke="#4c4c4c" stroke-width="0.8" stroke-dasharray="2.85 1.75 0.8 1.6" fill="none"/>
<line x1="258.9" y1="120.2" x2="438.5" y2="120.2" stroke="#4c4c4c" stroke-width="0.8" stroke-dasharray="2.85 1.75 0.8 1.6" fill="none"/>
<line x1="275.8" y1="67.6" x2="438.5" y2="67.6" stroke="#4c4c4c" stroke-width="0.8" stroke-dasharray="2.85 1.75 0.8 1.6" fill="none"/>
<line x1="314.8" y1="15.4" x2="438.5" y2="15.4" stroke="#4c4c4c" stroke-width="0.8" stroke-dasharray="2.85 1.75 0.8 1.6" fill="none"/>
<polyline points="253.20,132.98 253.51,132.80 253.82,132.58 254.13,132.33 254.44,132.04 254.75,131.71 255.06,131.34 255.37,130.93 255.67,130.48 255.98,129.99 256.29,129.46 256.60,128.89 256.91,128.28 257.22,127.64 257.53,126.95 257.84,126.23 258.15,125.47 258.46,124.68 258.77,123.86 259.08,123.00 259.39,122.11 259.70,121.20 260.01,120.26 260.32,119.29 260.62,118.30 260.93,117.29 261.24,116.25 261.55,115.20 261.86,114.13 262.17,113.04 262.48,111.94 262.79,110.82 263.10,109.70 263.41,108.56 263.72,107.41 264.03,106.26 264.34,105.10 264.65,103.94 264.96,102.77 265.26,101.60 265.57,100.43 265.88,99.26 266.19,98.09 266.50,96.92 266.81,95.75 267.12,94.59 267.43,93.43 267.74,92.28 268.05,91.14 268.36,90.00 268.67,88.87 268.98,87.75 269.29,86.64 269.60,85.53 269.90,84.44 270.21,83.36 270.52,82.29 270.83,81.23 271.14,80.18 271.45,79.15 271.76,78.13 272.07,77.12 272.38,76.12 272.69,75.14 273.00,74.17 273.31,73.21 273.62,72.27 273.93,71.34 274.24,70.42 274.55,69.52 274.85,68.63 275.16,67.76 275.47,66.90 275.78,66.05 276.09,65.22 276.40,64.40 276.71,63.60 277.02,62.80 277.33,62.03 277.64,61.26 277.95,60.51 278.26,59.77 278.57,59.05 278.88,58.33 279.19,57.63 279.49,56.94 279.80,56.27 280.11,55.60 280.42,54.95 280.73,54.31 281.04,53.68 281.35,53.06 281.66,52.45 281.97,51.85 282.28,51.27 282.59,50.69 282.90,50.12 283.21,49.57 283.52,49.02 283.83,48.48 284.13,47.95 284.44,47.43 284.75,46.92 285.06,46.41 285.37,45.92 285.68,45.43 285.99,44.95 286.30,44.48 286.61,44.02 286.92,43.56 287.23,43.11 287.54,42.66 287.85,42.23 288.16,41.79 288.47,41.37 288.78,40.95 289.08,40.54 289.39,40.13 289.70,39.73 290.01,39.33 290.32,38.94 290.63,38.55 290.94,38.17 291.25,37.79 291.56,37.42 291.87,37.05 292.18,36.69 292.49,36.33 292.80,35.97 293.11,35.62 293.42,35.27 293.72,34.92 294.03,34.58 294.34,34.24 294.65,33.91 294.96,33.58 295.27,33.25 295.58,32.92 295.89,32.60 296.20,32.28 296.51,31.96 296.82,31.65 297.13,31.34 297.44,31.03 297.75,30.72 298.06,30.42 298.36,30.11 298.67,29.81 298.98,29.52 299.29,29.22 299.60,28.93 299.91,28.64 300.22,28.35 300.53,28.06 300.84,27.78 301.15,27.49 301.46,27.21 301.77,26.93 302.08,26.66 302.39,26.38 302.70,26.11 303.01,25.84 303.31,25.57 303.62,25.30 303.93,25.03 304.24,24.77 304.55,24.51 304.86,24.25 305.17,23.99 305.48,23.73 305.79,23.47 306.10,23.22 306.41,22.97 306.72,22.72 307.03,22.47 307.34,22.22 307.65,21.98 307.95,21.73 308.26,21.49 308.57,21.25 308.88,21.01 309.19,20.77 309.50,20.54 309.81,20.31 310.12,20.07 310.43,19.84 310.74,19.61 311.05,19.39 311.36,19.16 311.67,18.94 311.98,18.72 312.29,18.50 312.59,18.28 312.90,18.06 313.21,17.85 313.52,17.64 313.83,17.43 314.14,17.22 314.45,17.01 314.76,16.80 315.07,16.60 315.38,16.40 315.69,16.20 316.00,16.00 316.31,15.80 316.62,15.61 316.93,15.42 317.24,15.23 317.54,15.04 317.85,14.85 318.16,14.66 318.47,14.48 318.78,14.30 319.09,14.12 319.40,13.94 319.71,13.76 320.02,13.59 320.33,13.42 320.64,13.24 320.95,13.08 321.26,12.91 321.57,12.74 321.88,12.58 322.18,12.42 322.49,12.26 322.80,12.10 323.11,11.94 323.42,11.79 323.73,11.64 324.04,11.49 324.35,11.34 324.66,11.19 324.97,11.04 325.28,10.90 325.59,10.76 325.90,10.62 326.21,10.48 326.52,10.34 326.83,10.21 327.13,10.07 327.44,9.94 327.75,9.81 328.06,9.69 328.37,9.56 328.68,9.43 328.99,9.31 329.30,9.19 329.61,9.07 329.92,8.95 330.23,8.84 330.54,8.72 330.85,8.61 331.16,8.50 331.47,8.39 331.77,8.28 332.08,8.17 332.39,8.07 332.70,7.97 333.01,7.86 333.32,7.76 333.63,7.66 333.94,7.57 334.25,7.47 334.56,7.38 334.87,7.28 335.18,7.19 335.49,7.10 335.80,7.01 336.11,6.93 336.41,6.84 336.72,6.76 337.03,6.67 337.34,6.59 337.65,6.51 337.96,6.43 338.27,6.35 338.58,6.28 338.89,6.20 339.20,6.13 339.51,6.05 339.82,5.98 340.13,5.91 340.44,5.84 340.75,5.78 341.06,5.71 341.36,5.64 341.67,5.58 341.98,5.52 342.29,5.45 342.60,5.39 342.91,5.33 343.22,5.27 343.53,5.21 343.84,5.16 344.15,5.10 344.46,5.05 344.77,4.99 345.08,4.94 345.39,4.89 345.70,4.84 346.00,4.79 346.31,4.74 346.62,4.69 346.93,4.64 347.24,4.60 347.55,4.55 347.86,4.51 348.17,4.46 348.48,4.42 348.79,4.38 349.10,4.34 349.41,4.30 349.72,4.26 350.03,4.22 350.34,4.18 350.64,4.14 350.95,4.11 351.26,4.07 351.57,4.04 351.88,4.00 352.19,3.97 352.50,3.93 352.81,3.90 353.12,3.87 353.43,3.84 353.74,3.81 354.05,3.78 354.36,3.75 354.67,3.72 354.98,3.69 355.29,3.67 355.59,3.64 355.90,3.61 356.21,3.59 356.52,3.56 356.83,3.54 357.14,3.51 357.45,3.49 357.76,3.47 358.07,3.44 358.38,3.42 358.69,3.40 359.00,3.38 359.31,3.36 359.62,3.34 359.93,3.32 360.23,3.30 360.54,3.28 360.85,3.26 361.16,3.24 361.47,3.22 361.78,3.21 362.09,3.19 362.40,3.17 362.71,3.16 363.02,3.14 363.33,3.12 363.64,3.11 363.95,3.09 364.26,3.08 364.57,3.07 364.87,3.05 365.18,3.04 365.49,3.03 365.80,3.01 366.11,3.00 366.42,2.99 366.73,2.97 367.04,2.96 367.35,2.95 367.66,2.94 367.97,2.93 368.28,2.92 368.59,2.91 368.90,2.90 369.21,2.89 369.52,2.88 369.82,2.87 370.13,2.86 370.44,2.85 370.75,2.84 371.06,2.83 371.37,2.82 371.68,2.82 371.99,2.81 372.30,2.80 372.61,2.79 372.92,2.78 373.23,2.78 373.54,2.77 373.85,2.76 374.16,2.76 374.46,2.75 374.77,2.74 375.08,2.74 375.39,2.73 375.70,2.73 376.01,2.72 376.32,2.71 376.63,2.71 376.94,2.70 377.25,2.70 377.56,2.69 377.87,2.69 378.18,2.68 378.49,2.68 378.80,2.67 379.11,2.67 379.41,2.66 379.72,2.66 380.03,2.65 380.34,2.65 380.65,2.65 380.96,2.64 381.27,2.64 381.58,2.64 381.89,2.63 382.20,2.63 382.51,2.62 382.82,2.62 383.13,2.62 383.44,2.62 383.75,2.61 384.05,2.61 384.36,2.61 384.67,2.60 384.98,2.60 385.29,2.60 385.60,2.59 385.91,2.59 386.22,2.59 386.53,2.59 386.84,2.58 387.15,2.58 387.46,2.58 387.77,2.58 388.08,2.58 388.39,2.57 388.69,2.57 389.00,2.57 389.31,2.57 389.62,2.57 389.93,2.56 390.24,2.56 390.55,2.56 390.86,2.56 391.17,2.56 391.48,2.56 391.79,2.55 392.10,2.55 392.41,2.55 392.72,2.55 393.03,2.55 393.34,2.55 393.64,2.55 393.95,2.54 394.26,2.54 394.57,2.54 394.88,2.54 395.19,2.54 395.50,2.54 395.81,2.54 396.12,2.54 396.43,2.54 396.74,2.53 397.05,2.53 397.36,2.53 397.67,2.53 397.98,2.53 398.28,2.53 398.59,2.53 398.90,2.53 399.21,2.53 399.52,2.53 399.83,2.53 400.14,2.53 400.45,2.52 400.76,2.52 401.07,2.52 401.38,2.52 401.69,2.52 402.00,2.52 402.31,2.52 402.62,2.52 402.92,2.52 403.23,2.52 403.54,2.52 403.85,2.52 404.16,2.52 404.47,2.52 404.78,2.52 405.09,2.52 405.40,2.52 405.71,2.51 406.02,2.51 406.33,2.51 406.64,2.51 406.95,2.51 407.26,2.51 407.57,2.51 407.87,2.51 408.18,2.51 408.49,2.51 408.80,2.51 409.11,2.51 409.42,2.51 409.73,2.51 410.04,2.51 410.35,2.51 410.66,2.51 410.97,2.51 411.28,2.51 411.59,2.51 411.90,2.51 412.21,2.51 412.51,2.51 412.82,2.51 413.13,2.51 413.44,2.51 413.75,2.51 414.06,2.51 414.37,2.51 414.68,2.51 414.99,2.51 415.30,2.51 415.61,2.51 415.92,2.51 416.23,2.51 416.54,2.51 416.85,2.51 417.15,2.50 417.46,2.50 417.77,2.50 418.08,2.50 418.39,2.50 418.70,2.50 419.01,2.50 419.32,2.50 419.63,2.50 419.94,2.50 420.25,2.50 420.56,2.50 420.87,2.50 421.18,2.50 421.49,2.50 421.80,2.50 422.10,2.50 422.41,2.50 422.72,2.50 423.03,2.50 423.34,2.50 423.65,2.50 423.96,2.50 424.27,2.50 424.58,2.50 424.89,2.50 425.20,2.50 425.51,2.50 425.82,2.50 426.13,2.50 426.44,2.50 426.74,2.50 427.05,2.50 427.36,2.50 427.67,2.50 427.98,2.50 428.29,2.50 428.60,2.50 428.91,2.50 429.22,2.50 429.53,2.50 429.84,2.50 430.15,2.50 430.46,2.50 430.77,2.50 431.08,2.50 431.38,2.50 431.69,2.50 432.00,2.50 432.31,2.50 432.62,2.50 432.93,2.50 433.24,2.50 433.55,2.50 433.86,2.50 434.17,2.50 434.48,2.50 434.79,2.50 435.10,2.50 435.41,2.50 435.72,2.50 436.03,2.50 436.33,2.50 436.64,2.50 436.95,2.50 437.26,2.50 437.57,2.50 437.88,2.50 438.19,2.50 438.50,2.50" fill="none" stroke="#2424ff" stroke-width="1.0"/>
<path d="M257.11,123.32h2.9l-1.45,2.5z" fill="#0a0aff"/>
<path d="M262.48,105.53h2.9l-1.45,2.5z" fill="#0a0aff"/>
<path d="M267.85,85.49h2.9l-1.45,2.5z" fill="#0a0aff"/>
<path d="M273.22,68.06h2.9l-1.45,2.5z" fill="#0a0aff"/>
<path d="M278.59,54.65h2.9l-1.45,2.5z" fill="#0a0aff"/>
<path d="M283.96,44.75h2.9l-1.45,2.5z" fill="#0a0aff"/>
<path d="M289.34,37.26h2.9l-1.45,2.5z" fill="#0a0aff"/>
<path d="M294.71,31.22h2.9l-1.45,2.5z" fill="#0a0aff"/>
<path d="M300.08,26.05h2.9l-1.45,2.5z" fill="#0a0aff"/>
<path d="M305.45,21.47h2.9l-1.45,2.5z" fill="#0a0aff"/>
<path d="M310.82,17.41h2.9l-1.45,2.5z" fill="#0a0aff"/>
<path d="M316.19,13.88h2.9l-1.45,2.5z" fill="#0a0aff"/>
<path d="M321.56,10.89h2.9l-1.45,2.5z" fill="#0a0aff"/>
<path d="M326.94,8.45h2.9l-1.45,2.5z" fill="#0a0aff"/>
<path d="M332.31,6.52h2.9l-1.45,2.5z" fill="#0a0aff"/>
<path d="M337.68,5.04h2.9l-1.45,2.5z" fill="#0a0aff"/>
<path d="M343.05,3.94h2.9l-1.45,2.5z" fill="#0a0aff"/>
<path d="M348.42,3.14h2.9l-1.45,2.5z" fill="#0a0aff"/>
<path d="M353.79,2.57h2.9l-1.45,2.5z" fill="#0a0aff"/>
<path d="M359.16,2.17h2.9l-1.45,2.5z" fill="#0a0aff"/>
<path d="M364.54,1.90h2.9l-1.45,2.5z" fill="#0a0aff"/>
<path d="M369.91,1.72h2.9l-1.45,2.5z" fill="#0a0aff"/>
<path d="M375.28,1.61h2.9l-1.45,2.5z" fill="#0a0aff"/>
<path d="M380.65,1.53h2.9l-1.45,2.5z" fill="#0a0aff"/>
<path d="M386.02,1.48h2.9l-1.45,2.5z" fill="#0a0aff"/>
<path d="M391.39,1.45h2.9l-1.45,2.5z" fill="#0a0aff"/>
<path d="M396.76,1.43h2.9l-1.45,2.5z" fill="#0a0aff"/>
<path d="M402.14,1.42h2.9l-1.45,2.5z" fill="#0a0aff"/>
<path d="M407.51,1.41h2.9l-1.45,2.5z" fill="#0a0aff"/>
<path d="M412.88,1.41h2.9l-1.45,2.5z" fill="#0a0aff"/>
<path d="M418.25,1.40h2.9l-1.45,2.5z" fill="#0a0aff"/>
<path d="M423.62,1.40h2.9l-1.45,2.5z" fill="#0a0aff"/>
<path d="M428.99,1.40h2.9l-1.45,2.5z" fill="#0a0aff"/>
<path d="M434.36,1.40h2.9l-1.45,2.5z" fill="#0a0aff"/>
<line x1="250.0" y1="2.5" x2="438.5" y2="2.5" stroke="#8a8a8a" stroke-width="1"/>
<line x1="250.5" y1="2.0" x2="250.5" y2="134.0" stroke="#505050" stroke-width="1"/>
<line x1="250.0" y1="133.5" x2="438.5" y2="133.5" stroke="#505050" stroke-width="1"/>
<line x1="438.5" y1="2.0" x2="438.5" y2="134.0" stroke="#4040ff" stroke-width="1"/>
<path d="M250.5,133.50h2.2 M250.5,126.22h1.4 M250.5,118.94h2.2 M250.5,111.67h1.4 M250.5,104.39h2.2 M250.5,97.11h1.4 M250.5,89.83h2.2 M250.5,82.56h1.4 M250.5,75.28h2.2 M250.5,68.00h1.4 M250.5,60.72h2.2 M250.5,53.44h1.4 M250.5,46.17h2.2 M250.5,38.89h1.4 M250.5,31.61h2.2 M250.5,24.33h1.4 M250.5,17.06h2.2 M250.5,9.78h1.4 M250.5,2.50h2.2" stroke="#333" stroke-width="0.7"/>
<text transform="translate(248.10,135.35) scale(1.0,1)" font-size="6.0" fill="#333" text-anchor="end" stroke="#333" stroke-width="0.08">0.00</text>
<text transform="translate(248.10,120.79) scale(1.0,1)" font-size="6.0" fill="#333" text-anchor="end" stroke="#333" stroke-width="0.08">0.02</text>
<text transform="translate(248.10,106.24) scale(1.0,1)" font-size="6.0" fill="#333" text-anchor="end" stroke="#333" stroke-width="0.08">0.04</text>
<text transform="translate(248.10,91.68) scale(1.0,1)" font-size="6.0" fill="#333" text-anchor="end" stroke="#333" stroke-width="0.08">0.06</text>
<text transform="translate(248.10,77.13) scale(1.0,1)" font-size="6.0" fill="#333" text-anchor="end" stroke="#333" stroke-width="0.08">0.08</text>
<text transform="translate(248.10,62.57) scale(1.0,1)" font-size="6.0" fill="#333" text-anchor="end" stroke="#333" stroke-width="0.08">0.10</text>
<text transform="translate(248.10,48.02) scale(1.0,1)" font-size="6.0" fill="#333" text-anchor="end" stroke="#333" stroke-width="0.08">0.12</text>
<text transform="translate(248.10,33.46) scale(1.0,1)" font-size="6.0" fill="#333" text-anchor="end" stroke="#333" stroke-width="0.08">0.14</text>
<text transform="translate(248.10,18.91) scale(1.0,1)" font-size="6.0" fill="#333" text-anchor="end" stroke="#333" stroke-width="0.08">0.16</text>
<text transform="translate(248.10,4.35) scale(1.0,1)" font-size="6.0" fill="#333" text-anchor="end" stroke="#333" stroke-width="0.08">0.18</text>
<path d="M250.50,133.5v2.5 M277.36,133.5v1.5 M304.21,133.5v2.5 M331.07,133.5v1.5 M357.93,133.5v2.5 M384.79,133.5v1.5 M411.64,133.5v2.5 M438.50,133.5v1.5" stroke="#333" stroke-width="0.7"/>
<text transform="translate(250.50,141.90) scale(1.0,1)" font-size="5.9" fill="#333" text-anchor="middle" stroke="#333" stroke-width="0.08">0</text>
<text transform="translate(304.21,141.90) scale(1.0,1)" font-size="5.9" fill="#333" text-anchor="middle" stroke="#333" stroke-width="0.08">1</text>
<text transform="translate(357.93,141.90) scale(1.0,1)" font-size="5.9" fill="#333" text-anchor="middle" stroke="#333" stroke-width="0.08">2</text>
<text transform="translate(411.64,141.90) scale(1.0,1)" font-size="5.9" fill="#333" text-anchor="middle" stroke="#333" stroke-width="0.08">3</text>
<path d="M438.5,133.50h-2.2 M438.5,120.40h-1.4 M438.5,107.30h-2.2 M438.5,94.20h-1.4 M438.5,81.10h-2.2 M438.5,68.00h-1.4 M438.5,54.90h-2.2 M438.5,41.80h-1.4 M438.5,28.70h-2.2 M438.5,15.60h-1.4 M438.5,2.50h-2.2" stroke="#2222ff" stroke-width="0.7"/>
<text transform="translate(441.10,135.25) scale(1.0,1)" font-size="5.5" fill="#2a2aff" text-anchor="start" stroke="#2a2aff" stroke-width="0.08">0</text>
<text transform="translate(441.10,109.05) scale(1.0,1)" font-size="5.5" fill="#2a2aff" text-anchor="start" stroke="#2a2aff" stroke-width="0.08">20</text>
<text transform="translate(441.10,82.85) scale(1.0,1)" font-size="5.5" fill="#2a2aff" text-anchor="start" stroke="#2a2aff" stroke-width="0.08">40</text>
<text transform="translate(441.10,56.65) scale(1.0,1)" font-size="5.5" fill="#2a2aff" text-anchor="start" stroke="#2a2aff" stroke-width="0.08">60</text>
<text transform="translate(441.10,30.45) scale(1.0,1)" font-size="5.5" fill="#2a2aff" text-anchor="start" stroke="#2a2aff" stroke-width="0.08">80</text>
<text transform="translate(441.10,4.25) scale(1.0,1)" font-size="5.5" fill="#2a2aff" text-anchor="start" stroke="#2a2aff" stroke-width="0.08">100</text>
<text transform="translate(235.40,67.50) rotate(-90) scale(0.97,1)" font-size="7" fill="#1a1a1a" text-anchor="middle" stroke="#1a1a1a" stroke-width="0.16">Relative frequency (/%)</text>
<text transform="translate(453.40,67.00) rotate(-90) scale(1.0,1)" font-size="7" fill="#2020ff" text-anchor="middle" stroke="#2020ff" stroke-width="0.16">Cumulative frequency (%)</text>
<text transform="translate(344.50,147.10) scale(0.92,1)" font-size="7.4" fill="#1a1a1a" text-anchor="middle" stroke="#1a1a1a" stroke-width="0.14">Kernel average misorientation (°)</text>
<text transform="translate(253.10,14.10) scale(0.98,1)" font-size="13.5" fill="#151515" text-anchor="start" stroke="#151515" stroke-width="0.1">(b)</text>
<text transform="translate(273.70,9.30) scale(0.89,1)" font-size="7.1" fill="#222" text-anchor="start" stroke="#222" stroke-width="0.12">KAM<tspan font-size="4.4" dy="1.2">mean</tspan><tspan dy="-1.2">=0.47 °</tspan></text>
<text transform="translate(378.80,22.70) scale(0.9,1)" font-size="8.2" fill="#222" text-anchor="start" stroke="#222" stroke-width="0.15">KAM<tspan font-size="5.6" dy="2">90</tspan><tspan dy="-2">=1.20 °</tspan></text>
<text transform="translate(379.40,63.70) scale(0.9,1)" font-size="8.2" fill="#222" text-anchor="start" stroke="#222" stroke-width="0.15">KAM<tspan font-size="5.6" dy="2">50</tspan><tspan dy="-2">=0.48 °</tspan></text>
<text transform="translate(379.40,115.80) scale(0.9,1)" font-size="8.2" fill="#222" text-anchor="start" stroke="#222" stroke-width="0.15">KAM<tspan font-size="5.6" dy="2">10</tspan><tspan dy="-2">=0.14 °</tspan></text></g>
<g><rect x="481.5" y="2.5" width="187.0" height="131.0" fill="#e3ffff"/>
<rect x="486.18" y="118.20" width="4.68" height="15.30" fill="url(#bg)"/>
<rect x="490.85" y="71.00" width="4.67" height="62.50" fill="url(#bg)"/>
<rect x="495.52" y="29.00" width="4.68" height="104.50" fill="url(#bg)"/>
<rect x="500.20" y="14.80" width="4.68" height="118.70" fill="url(#bg)"/>
<rect x="504.88" y="21.20" width="4.68" height="112.30" fill="url(#bg)"/>
<rect x="509.55" y="34.20" width="4.68" height="99.30" fill="url(#bg)"/>
<rect x="514.23" y="48.70" width="4.67" height="84.80" fill="url(#bg)"/>
<rect x="518.90" y="60.80" width="4.68" height="72.70" fill="url(#bg)"/>
<rect x="523.58" y="70.60" width="4.67" height="62.90" fill="url(#bg)"/>
<rect x="528.25" y="77.00" width="4.67" height="56.50" fill="url(#bg)"/>
<rect x="532.92" y="82.40" width="4.68" height="51.10" fill="url(#bg)"/>
<rect x="537.60" y="87.50" width="4.67" height="46.00" fill="url(#bg)"/>
<rect x="542.27" y="91.90" width="4.68" height="41.60" fill="url(#bg)"/>
<rect x="546.95" y="97.10" width="4.67" height="36.40" fill="url(#bg)"/>
<rect x="551.62" y="102.20" width="4.67" height="31.30" fill="url(#bg)"/>
<rect x="556.30" y="108.00" width="4.68" height="25.50" fill="url(#bg)"/>
<rect x="560.98" y="112.70" width="4.67" height="20.80" fill="url(#bg)"/>
<rect x="565.65" y="118.00" width="4.68" height="15.50" fill="url(#bg)"/>
<rect x="570.33" y="121.50" width="4.67" height="12.00" fill="url(#bg)"/>
<rect x="575.00" y="124.90" width="4.67" height="8.60" fill="url(#bg)"/>
<rect x="579.67" y="127.30" width="4.68" height="6.20" fill="url(#bg)"/>
<rect x="584.35" y="129.20" width="4.67" height="4.30" fill="url(#bg)"/>
<rect x="589.02" y="130.20" width="4.68" height="3.30" fill="url(#bg)"/>
<rect x="593.70" y="131.50" width="4.67" height="2.00" fill="url(#bg)"/>
<rect x="598.38" y="132.00" width="4.67" height="1.50" fill="url(#bg)"/>
<rect x="603.05" y="132.50" width="4.68" height="1.00" fill="url(#bg)"/>
<rect x="607.73" y="132.80" width="4.67" height="0.70" fill="url(#bg)"/>
<rect x="612.40" y="133.00" width="4.68" height="0.50" fill="url(#bg)"/>
<path d="M490.85,118.20V133.50 M495.52,71.00V133.50 M500.20,29.00V133.50 M504.88,21.20V133.50 M509.55,34.20V133.50 M514.23,48.70V133.50 M518.90,60.80V133.50 M523.58,70.60V133.50 M528.25,77.00V133.50 M532.92,82.40V133.50 M537.60,87.50V133.50 M542.27,91.90V133.50 M546.95,97.10V133.50 M551.62,102.20V133.50 M556.30,108.00V133.50 M560.98,112.70V133.50 M565.65,118.00V133.50 M570.33,121.50V133.50 M575.00,124.90V133.50 M579.67,127.30V133.50 M584.35,129.20V133.50 M589.02,130.20V133.50 M593.70,131.50V133.50 M598.38,132.00V133.50 M603.05,132.50V133.50 M607.73,132.80V133.50 M612.40,133.00V133.50" stroke="#fff" stroke-opacity="0.85" stroke-width="0.8"/>
<polyline points="482.06,132.96 482.32,132.72 482.58,132.41 482.83,132.02 483.09,131.55 483.35,130.99 483.61,130.33 483.86,129.58 484.12,128.72 484.38,127.76 484.64,126.70 484.89,125.54 485.15,124.28 485.41,122.91 485.67,121.45 485.92,119.90 486.18,118.27 486.44,116.55 486.70,114.75 486.95,112.89 487.21,110.95 487.47,108.96 487.73,106.92 487.98,104.83 488.24,102.69 488.50,100.53 488.76,98.33 489.01,96.11 489.27,93.87 489.53,91.62 489.79,89.36 490.04,87.10 490.30,84.84 490.56,82.59 490.82,80.35 491.07,78.13 491.33,75.92 491.59,73.74 491.85,71.58 492.10,69.46 492.36,67.36 492.62,65.30 492.88,63.28 493.13,61.30 493.39,59.36 493.65,57.46 493.91,55.60 494.16,53.80 494.42,52.04 494.68,50.32 494.94,48.66 495.19,47.05 495.45,45.48 495.71,43.97 495.97,42.51 496.22,41.10 496.48,39.74 496.74,38.44 497.00,37.18 497.25,35.98 497.51,34.83 497.77,33.73 498.03,32.68 498.28,31.68 498.54,30.72 498.80,29.82 499.06,28.97 499.31,28.16 499.57,27.40 499.83,26.69 500.09,26.03 500.34,25.40 500.60,24.83 500.86,24.29 501.11,23.80 501.37,23.35 501.63,22.94 501.89,22.56 502.14,22.23 502.40,21.94 502.66,21.68 502.92,21.46 503.17,21.27 503.43,21.12 503.69,21.00 503.95,20.91 504.20,20.86 504.46,20.83 504.72,20.84 504.98,20.87 505.23,20.93 505.49,21.02 505.75,21.14 506.01,21.28 506.26,21.44 506.52,21.63 506.78,21.84 507.04,22.08 507.29,22.33 507.55,22.61 507.81,22.91 508.07,23.22 508.32,23.56 508.58,23.91 508.84,24.28 509.10,24.66 509.35,25.07 509.61,25.48 509.87,25.91 510.13,26.36 510.38,26.82 510.64,27.29 510.90,27.77 511.16,28.27 511.41,28.78 511.67,29.29 511.93,29.82 512.19,30.36 512.44,30.90 512.70,31.46 512.96,32.02 513.22,32.59 513.47,33.17 513.73,33.75 513.99,34.34 514.25,34.94 514.50,35.54 514.76,36.15 515.02,36.77 515.28,37.38 515.53,38.01 515.79,38.63 516.05,39.26 516.31,39.89 516.56,40.53 516.82,41.17 517.08,41.81 517.34,42.45 517.59,43.09 517.85,43.74 518.11,44.39 518.37,45.04 518.62,45.69 518.88,46.34 519.14,46.99 519.40,47.64 519.65,48.29 519.91,48.94 520.17,49.59 520.43,50.24 520.68,50.89 520.94,51.54 521.20,52.19 521.46,52.83 521.71,53.48 521.97,54.12 522.23,54.76 522.49,55.40 522.74,56.04 523.00,56.68 523.26,57.31 523.52,57.94 523.77,58.57 524.03,59.20 524.29,59.83 524.55,60.45 524.80,61.07 525.06,61.69 525.32,62.30 525.58,62.91 525.83,63.52 526.09,64.13 526.35,64.73 526.61,65.33 526.86,65.92 527.12,66.51 527.38,67.10 527.63,67.69 527.89,68.27 528.15,68.85 528.41,69.43 528.66,70.00 528.92,70.57 529.18,71.13 529.44,71.69 529.69,72.25 529.95,72.80 530.21,73.35 530.47,73.90 530.72,74.44 530.98,74.98 531.24,75.51 531.50,76.05 531.75,76.57 532.01,77.10 532.27,77.61 532.53,78.13 532.78,78.64 533.04,79.15 533.30,79.65 533.56,80.15 533.81,80.65 534.07,81.14 534.33,81.63 534.59,82.12 534.84,82.60 535.10,83.07 535.36,83.55 535.62,84.02 535.87,84.48 536.13,84.94 536.39,85.40 536.65,85.85 536.90,86.30 537.16,86.75 537.42,87.19 537.68,87.63 537.93,88.07 538.19,88.50 538.45,88.93 538.71,89.35 538.96,89.77 539.22,90.19 539.48,90.60 539.74,91.01 539.99,91.41 540.25,91.82 540.51,92.21 540.77,92.61 541.02,93.00 541.28,93.39 541.54,93.77 541.80,94.15 542.05,94.53 542.31,94.90 542.57,95.28 542.83,95.64 543.08,96.01 543.34,96.37 543.60,96.72 543.86,97.08 544.11,97.43 544.37,97.77 544.63,98.12 544.89,98.46 545.14,98.80 545.40,99.13 545.66,99.46 545.92,99.79 546.17,100.12 546.43,100.44 546.69,100.76 546.95,101.07 547.20,101.39 547.46,101.69 547.72,102.00 547.98,102.31 548.23,102.61 548.49,102.91 548.75,103.20 549.01,103.49 549.26,103.78 549.52,104.07 549.78,104.35 550.04,104.63 550.29,104.91 550.55,105.19 550.81,105.46 551.07,105.73 551.32,106.00 551.58,106.27 551.84,106.53 552.10,106.79 552.35,107.05 552.61,107.30 552.87,107.55 553.13,107.80 553.38,108.05 553.64,108.30 553.90,108.54 554.16,108.78 554.41,109.02 554.67,109.25 554.93,109.49 555.18,109.72 555.44,109.95 555.70,110.17 555.96,110.40 556.21,110.62 556.47,110.84 556.73,111.06 556.99,111.27 557.24,111.49 557.50,111.70 557.76,111.91 558.02,112.11 558.27,112.32 558.53,112.52 558.79,112.72 559.05,112.92 559.30,113.12 559.56,113.31 559.82,113.51 560.08,113.70 560.33,113.89 560.59,114.08 560.85,114.26 561.11,114.44 561.36,114.63 561.62,114.81 561.88,114.98 562.14,115.16 562.39,115.34 562.65,115.51 562.91,115.68 563.17,115.85 563.42,116.02 563.68,116.18 563.94,116.35 564.20,116.51 564.45,116.67 564.71,116.83 564.97,116.99 565.23,117.15 565.48,117.30 565.74,117.46 566.00,117.61 566.26,117.76 566.51,117.91 566.77,118.05 567.03,118.20 567.29,118.34 567.54,118.49 567.80,118.63 568.06,118.77 568.32,118.91 568.57,119.04 568.83,119.18 569.09,119.32 569.35,119.45 569.60,119.58 569.86,119.71 570.12,119.84 570.38,119.97 570.63,120.10 570.89,120.22 571.15,120.35 571.41,120.47 571.66,120.59 571.92,120.71 572.18,120.83 572.44,120.95 572.69,121.07 572.95,121.18 573.21,121.30 573.47,121.41 573.72,121.52 573.98,121.63 574.24,121.74 574.50,121.85 574.75,121.96 575.01,122.07 575.27,122.17 575.53,122.28 575.78,122.38 576.04,122.49 576.30,122.59 576.56,122.69 576.81,122.79 577.07,122.89 577.33,122.99 577.59,123.08 577.84,123.18 578.10,123.27 578.36,123.37 578.62,123.46 578.87,123.55 579.13,123.64 579.39,123.73 579.65,123.82 579.90,123.91 580.16,124.00 580.42,124.09 580.68,124.17 580.93,124.26 581.19,124.34 581.45,124.43 581.70,124.51 581.96,124.59 582.22,124.67 582.48,124.75 582.73,124.83 582.99,124.91 583.25,124.99 583.51,125.07 583.76,125.14 584.02,125.22 584.28,125.29 584.54,125.37 584.79,125.44 585.05,125.51 585.31,125.59 585.57,125.66 585.82,125.73 586.08,125.80 586.34,125.87 586.60,125.94 586.85,126.00 587.11,126.07 587.37,126.14 587.63,126.20 587.88,126.27 588.14,126.33 588.40,126.40 588.66,126.46 588.91,126.52 589.17,126.59 589.43,126.65 589.69,126.71 589.94,126.77 590.20,126.83 590.46,126.89 590.72,126.95 590.97,127.01 591.23,127.06 591.49,127.12 591.75,127.18 592.00,127.23 592.26,127.29 592.52,127.34 592.78,127.40 593.03,127.45 593.29,127.51 593.55,127.56 593.81,127.61 594.06,127.66 594.32,127.72 594.58,127.77 594.84,127.82 595.09,127.87 595.35,127.92 595.61,127.96 595.87,128.01 596.12,128.06 596.38,128.11 596.64,128.16 596.90,128.20 597.15,128.25 597.41,128.30 597.67,128.34 597.93,128.39 598.18,128.43 598.44,128.47 598.70,128.52 598.96,128.56 599.21,128.60 599.47,128.65 599.73,128.69 599.99,128.73 600.24,128.77 600.50,128.81 600.76,128.85 601.02,128.89 601.27,128.93 601.53,128.97 601.79,129.01 602.05,129.05 602.30,129.09 602.56,129.13 602.82,129.16 603.08,129.20 603.33,129.24 603.59,129.27 603.85,129.31 604.11,129.35 604.36,129.38 604.62,129.42 604.88,129.45 605.14,129.49 605.39,129.52 605.65,129.55 605.91,129.59 606.17,129.62 606.42,129.65 606.68,129.69 606.94,129.72 607.20,129.75 607.45,129.78 607.71,129.82 607.97,129.85 608.23,129.88 608.48,129.91 608.74,129.94 609.00,129.97 609.25,130.00 609.51,130.03 609.77,130.06 610.03,130.09 610.28,130.11 610.54,130.14 610.80,130.17 611.06,130.20 611.31,130.23 611.57,130.25 611.83,130.28 612.09,130.31 612.34,130.34 612.60,130.36 612.86,130.39 613.12,130.41 613.37,130.44 613.63,130.46 613.89,130.49 614.15,130.52 614.40,130.54 614.66,130.56 614.92,130.59 615.18,130.61 615.43,130.64 615.69,130.66 615.95,130.68 616.21,130.71 616.46,130.73 616.72,130.75 616.98,130.78 617.24,130.80 617.49,130.82 617.75,130.84 618.01,130.86 618.27,130.89 618.52,130.91 618.78,130.93 619.04,130.95 619.30,130.97 619.55,130.99 619.81,131.01 620.07,131.03 620.33,131.05 620.58,131.07 620.84,131.09 621.10,131.11 621.36,131.13 621.61,131.15 621.87,131.17 622.13,131.19 622.39,131.21 622.64,131.23 622.90,131.24 623.16,131.26 623.42,131.28 623.67,131.30 623.93,131.32 624.19,131.33 624.45,131.35 624.70,131.37 624.96,131.39 625.22,131.40 625.48,131.42 625.73,131.44 625.99,131.45 626.25,131.47 626.51,131.49 626.76,131.50 627.02,131.52 627.28,131.53 627.54,131.55 627.79,131.57 628.05,131.58 628.31,131.60 628.57,131.61 628.82,131.63 629.08,131.64 629.34,131.66 629.60,131.67 629.85,131.69 630.11,131.70 630.37,131.71 630.63,131.73 630.88,131.74 631.14,131.76 631.40,131.77 631.66,131.78 631.91,131.80 632.17,131.81 632.43,131.82 632.69,131.84 632.94,131.85 633.20,131.86 633.46,131.88 633.72,131.89 633.97,131.90 634.23,131.91 634.49,131.93 634.75,131.94 635.00,131.95 635.26,131.96 635.52,131.98 635.77,131.99" fill="none" stroke="#f41c1c" stroke-width="0.8"/>
<line x1="492.5" y1="120.3" x2="492.5" y2="133.5" stroke="#4c4c4c" stroke-width="0.8" stroke-dasharray="2.85 1.75 0.8 1.6" fill="none"/>
<line x1="515.2" y1="68.9" x2="515.2" y2="133.5" stroke="#4c4c4c" stroke-width="0.8" stroke-dasharray="2.85 1.75 0.8 1.6" fill="none"/>
<line x1="517.3" y1="13.3" x2="517.3" y2="133.5" stroke="#4c4c4c" stroke-width="0.8" stroke-dasharray="2.85 1.75 0.8 1.6" fill="none"/>
<line x1="552.1" y1="17.4" x2="552.1" y2="133.5" stroke="#4c4c4c" stroke-width="0.8" stroke-dasharray="2.85 1.75 0.8 1.6" fill="none"/>
<line x1="492.5" y1="120.4" x2="668.5" y2="120.4" stroke="#4c4c4c" stroke-width="0.8" stroke-dasharray="2.85 1.75 0.8 1.6" fill="none"/>
<line x1="515.2" y1="68.9" x2="668.5" y2="68.9" stroke="#4c4c4c" stroke-width="0.8" stroke-dasharray="2.85 1.75 0.8 1.6" fill="none"/>
<line x1="552.3" y1="17.4" x2="668.5" y2="17.4" stroke="#4c4c4c" stroke-width="0.8" stroke-dasharray="2.85 1.75 0.8 1.6" fill="none"/>
<polyline points="486.20,132.68 486.50,132.51 486.81,132.33 487.11,132.12 487.42,131.90 487.72,131.65 488.03,131.38 488.33,131.09 488.63,130.77 488.94,130.44 489.24,130.08 489.55,129.69 489.85,129.28 490.16,128.85 490.46,128.40 490.77,127.92 491.07,127.42 491.37,126.90 491.68,126.36 491.98,125.79 492.29,125.21 492.59,124.60 492.90,123.97 493.20,123.33 493.50,122.66 493.81,121.98 494.11,121.28 494.42,120.57 494.72,119.83 495.03,119.09 495.33,118.33 495.63,117.55 495.94,116.76 496.24,115.96 496.55,115.15 496.85,114.33 497.16,113.50 497.46,112.65 497.76,111.80 498.07,110.95 498.37,110.08 498.68,109.21 498.98,108.34 499.29,107.46 499.59,106.57 499.90,105.68 500.20,104.79 500.50,103.90 500.81,103.01 501.11,102.11 501.42,101.21 501.72,100.32 502.03,99.42 502.33,98.53 502.63,97.64 502.94,96.75 503.24,95.86 503.55,94.98 503.85,94.10 504.16,93.22 504.46,92.35 504.76,91.48 505.07,90.62 505.37,89.76 505.68,88.91 505.98,88.06 506.29,87.22 506.59,86.39 506.90,85.56 507.20,84.74 507.50,83.92 507.81,83.12 508.11,82.32 508.42,81.52 508.72,80.74 509.03,79.96 509.33,79.19 509.63,78.43 509.94,77.67 510.24,76.92 510.55,76.18 510.85,75.45 511.16,74.73 511.46,74.01 511.76,73.30 512.07,72.60 512.37,71.91 512.68,71.22 512.98,70.54 513.29,69.87 513.59,69.20 513.89,68.55 514.20,67.90 514.50,67.25 514.81,66.62 515.11,65.99 515.42,65.37 515.72,64.75 516.03,64.14 516.33,63.54 516.63,62.95 516.94,62.36 517.24,61.77 517.55,61.19 517.85,60.62 518.16,60.06 518.46,59.50 518.76,58.94 519.07,58.39 519.37,57.85 519.68,57.31 519.98,56.77 520.29,56.24 520.59,55.72 520.89,55.20 521.20,54.68 521.50,54.17 521.81,53.66 522.11,53.16 522.42,52.66 522.72,52.17 523.03,51.68 523.33,51.19 523.63,50.71 523.94,50.23 524.24,49.75 524.55,49.28 524.85,48.81 525.16,48.34 525.46,47.88 525.76,47.42 526.07,46.96 526.37,46.51 526.68,46.06 526.98,45.61 527.29,45.16 527.59,44.72 527.89,44.28 528.20,43.84 528.50,43.41 528.81,42.98 529.11,42.55 529.42,42.12 529.72,41.69 530.03,41.27 530.33,40.85 530.63,40.43 530.94,40.02 531.24,39.61 531.55,39.19 531.85,38.79 532.16,38.38 532.46,37.98 532.76,37.57 533.07,37.17 533.37,36.78 533.68,36.38 533.98,35.99 534.29,35.60 534.59,35.21 534.89,34.83 535.20,34.44 535.50,34.06 535.81,33.68 536.11,33.31 536.42,32.93 536.72,32.56 537.02,32.19 537.33,31.82 537.63,31.46 537.94,31.10 538.24,30.74 538.55,30.38 538.85,30.02 539.16,29.67 539.46,29.32 539.76,28.97 540.07,28.63 540.37,28.29 540.68,27.95 540.98,27.61 541.29,27.28 541.59,26.94 541.89,26.62 542.20,26.29 542.50,25.97 542.81,25.64 543.11,25.33 543.42,25.01 543.72,24.70 544.02,24.39 544.33,24.08 544.63,23.78 544.94,23.48 545.24,23.18 545.55,22.88 545.85,22.59 546.16,22.30 546.46,22.01 546.76,21.73 547.07,21.45 547.37,21.17 547.68,20.90 547.98,20.62 548.29,20.35 548.59,20.09 548.89,19.83 549.20,19.57 549.50,19.31 549.81,19.05 550.11,18.80 550.42,18.56 550.72,18.31 551.02,18.07 551.33,17.83 551.63,17.59 551.94,17.36 552.24,17.13 552.55,16.90 552.85,16.68 553.15,16.46 553.46,16.24 553.76,16.03 554.07,15.81 554.37,15.60 554.68,15.40 554.98,15.19 555.29,14.99 555.59,14.80 555.89,14.60 556.20,14.41 556.50,14.22 556.81,14.03 557.11,13.85 557.42,13.67 557.72,13.49 558.02,13.32 558.33,13.15 558.63,12.98 558.94,12.81 559.24,12.64 559.55,12.48 559.85,12.32 560.15,12.17 560.46,12.01 560.76,11.86 561.07,11.71 561.37,11.57 561.68,11.42 561.98,11.28 562.29,11.14 562.59,11.01 562.89,10.87 563.20,10.74 563.50,10.61 563.81,10.49 564.11,10.36 564.42,10.24 564.72,10.12 565.02,10.00 565.33,9.89 565.63,9.77 565.94,9.66 566.24,9.55 566.55,9.45 566.85,9.34 567.15,9.24 567.46,9.14 567.76,9.04 568.07,8.94 568.37,8.85 568.68,8.75 568.98,8.66 569.28,8.57 569.59,8.48 569.89,8.40 570.20,8.31 570.50,8.23 570.81,8.15 571.11,8.07 571.42,7.99 571.72,7.92 572.02,7.85 572.33,7.77 572.63,7.70 572.94,7.63 573.24,7.56 573.55,7.50 573.85,7.43 574.15,7.37 574.46,7.31 574.76,7.25 575.07,7.19 575.37,7.13 575.68,7.07 575.98,7.02 576.28,6.96 576.59,6.91 576.89,6.86 577.20,6.81 577.50,6.76 577.81,6.71 578.11,6.66 578.42,6.61 578.72,6.57 579.02,6.53 579.33,6.48 579.63,6.44 579.94,6.40 580.24,6.36 580.55,6.32 580.85,6.28 581.15,6.25 581.46,6.21 581.76,6.17 582.07,6.14 582.37,6.11 582.68,6.07 582.98,6.04 583.28,6.01 583.59,5.98 583.89,5.95 584.20,5.92 584.50,5.89 584.81,5.86 585.11,5.84 585.42,5.81 585.72,5.79 586.02,5.76 586.33,5.74 586.63,5.71 586.94,5.69 587.24,5.67 587.55,5.65 587.85,5.63 588.15,5.60 588.46,5.58 588.76,5.56 589.07,5.55 589.37,5.53 589.68,5.51 589.98,5.49 590.28,5.47 590.59,5.46 590.89,5.44 591.20,5.43 591.50,5.41 591.81,5.40 592.11,5.38 592.41,5.37 592.72,5.35 593.02,5.34 593.33,5.33 593.63,5.31 593.94,5.30 594.24,5.29 594.55,5.28 594.85,5.27 595.15,5.26 595.46,5.25 595.76,5.23 596.07,5.22 596.37,5.22 596.68,5.21 596.98,5.20 597.28,5.19 597.59,5.18 597.89,5.17 598.20,5.16 598.50,5.15 598.81,5.15 599.11,5.14 599.41,5.13 599.72,5.12 600.02,5.12 600.33,5.11 600.63,5.10 600.94,5.10 601.24,5.09 601.55,5.09 601.85,5.08 602.15,5.07 602.46,5.07 602.76,5.06 603.07,5.06 603.37,5.05 603.68,5.05 603.98,5.04 604.28,5.04 604.59,5.03 604.89,5.03 605.20,5.03 605.50,5.02 605.81,5.02 606.11,5.01 606.41,5.01 606.72,5.01 607.02,5.00 607.33,5.00 607.63,5.00 607.94,4.99 608.24,4.99 608.54,4.99 608.85,4.99 609.15,4.98 609.46,4.98 609.76,4.98 610.07,4.97 610.37,4.97 610.68,4.97 610.98,4.97 611.28,4.97 611.59,4.96 611.89,4.96 612.20,4.96 612.50,4.96 612.81,4.96 613.11,4.95 613.41,4.95 613.72,4.95 614.02,4.95 614.33,4.95 614.63,4.95 614.94,4.94 615.24,4.94 615.54,4.94 615.85,4.94 616.15,4.94 616.46,4.94 616.76,4.94 617.07,4.93 617.37,4.93 617.68,4.93 617.98,4.93 618.28,4.93 618.59,4.93 618.89,4.93 619.20,4.93 619.50,4.93 619.81,4.93 620.11,4.92 620.41,4.92 620.72,4.92 621.02,4.92 621.33,4.92 621.63,4.92 621.94,4.92 622.24,4.92 622.54,4.92 622.85,4.92 623.15,4.92 623.46,4.92 623.76,4.92 624.07,4.92 624.37,4.91 624.67,4.91 624.98,4.91 625.28,4.91 625.59,4.91 625.89,4.91 626.20,4.91 626.50,4.91 626.81,4.91 627.11,4.91 627.41,4.91 627.72,4.91 628.02,4.91 628.33,4.91 628.63,4.91 628.94,4.91 629.24,4.91 629.54,4.91 629.85,4.91 630.15,4.91 630.46,4.91 630.76,4.91 631.07,4.91 631.37,4.91 631.67,4.91 631.98,4.91 632.28,4.91 632.59,4.91 632.89,4.91 633.20,4.91 633.50,4.91 633.81,4.90 634.11,4.90 634.41,4.90 634.72,4.90 635.02,4.90 635.33,4.90 635.63,4.90 635.94,4.90 636.24,4.90 636.54,4.90 636.85,4.90 637.15,4.90 637.46,4.90 637.76,4.90 638.07,4.90 638.37,4.90 638.67,4.90 638.98,4.90 639.28,4.90 639.59,4.90 639.89,4.90 640.20,4.90 640.50,4.90 640.81,4.90 641.11,4.90 641.41,4.90 641.72,4.90 642.02,4.90 642.33,4.90 642.63,4.90 642.94,4.90 643.24,4.90 643.54,4.90 643.85,4.90 644.15,4.90 644.46,4.90 644.76,4.90 645.07,4.90 645.37,4.90 645.67,4.90 645.98,4.90 646.28,4.90 646.59,4.90 646.89,4.90 647.20,4.90 647.50,4.90 647.80,4.90 648.11,4.90 648.41,4.90 648.72,4.90 649.02,4.90 649.33,4.90 649.63,4.90 649.94,4.90 650.24,4.90 650.54,4.90 650.85,4.90 651.15,4.90 651.46,4.90 651.76,4.90 652.07,4.90 652.37,4.90 652.67,4.90 652.98,4.90 653.28,4.90 653.59,4.90 653.89,4.90 654.20,4.90 654.50,4.90 654.80,4.90 655.11,4.90 655.41,4.90 655.72,4.90 656.02,4.90 656.33,4.90 656.63,4.90 656.94,4.90 657.24,4.90 657.54,4.90 657.85,4.90 658.15,4.90 658.46,4.90 658.76,4.90 659.07,4.90 659.37,4.90 659.67,4.90 659.98,4.90 660.28,4.90 660.59,4.90 660.89,4.90 661.20,4.90 661.50,4.90 661.80,4.90 662.11,4.90 662.41,4.90 662.72,4.90 663.02,4.90 663.33,4.90 663.63,4.90 663.93,4.90 664.24,4.90 664.54,4.90 664.85,4.90 665.15,4.90 665.46,4.90 665.76,4.90 666.07,4.90 666.37,4.90 666.67,4.90 666.98,4.90 667.28,4.90 667.59,4.90 667.89,4.90 668.20,4.90 668.50,4.90" fill="none" stroke="#2424ff" stroke-width="1.0"/>
<path d="M487.06,129.80h2.9l-1.45,2.5z" fill="#0a0aff"/>
<path d="M491.74,122.25h2.9l-1.45,2.5z" fill="#0a0aff"/>
<path d="M496.41,110.43h2.9l-1.45,2.5z" fill="#0a0aff"/>
<path d="M501.09,96.82h2.9l-1.45,2.5z" fill="#0a0aff"/>
<path d="M505.76,83.60h2.9l-1.45,2.5z" fill="#0a0aff"/>
<path d="M510.44,71.92h2.9l-1.45,2.5z" fill="#0a0aff"/>
<path d="M515.11,61.98h2.9l-1.45,2.5z" fill="#0a0aff"/>
<path d="M519.79,53.52h2.9l-1.45,2.5z" fill="#0a0aff"/>
<path d="M524.46,46.10h2.9l-1.45,2.5z" fill="#0a0aff"/>
<path d="M529.14,39.40h2.9l-1.45,2.5z" fill="#0a0aff"/>
<path d="M533.81,33.26h2.9l-1.45,2.5z" fill="#0a0aff"/>
<path d="M538.49,27.68h2.9l-1.45,2.5z" fill="#0a0aff"/>
<path d="M543.16,22.70h2.9l-1.45,2.5z" fill="#0a0aff"/>
<path d="M547.84,18.39h2.9l-1.45,2.5z" fill="#0a0aff"/>
<path d="M552.51,14.79h2.9l-1.45,2.5z" fill="#0a0aff"/>
<path d="M557.19,11.87h2.9l-1.45,2.5z" fill="#0a0aff"/>
<path d="M561.86,9.59h2.9l-1.45,2.5z" fill="#0a0aff"/>
<path d="M566.54,7.87h2.9l-1.45,2.5z" fill="#0a0aff"/>
<path d="M571.21,6.59h2.9l-1.45,2.5z" fill="#0a0aff"/>
<path d="M575.89,5.68h2.9l-1.45,2.5z" fill="#0a0aff"/>
<path d="M580.56,5.05h2.9l-1.45,2.5z" fill="#0a0aff"/>
<path d="M585.24,4.61h2.9l-1.45,2.5z" fill="#0a0aff"/>
<path d="M589.91,4.32h2.9l-1.45,2.5z" fill="#0a0aff"/>
<path d="M594.59,4.13h2.9l-1.45,2.5z" fill="#0a0aff"/>
<path d="M599.26,4.00h2.9l-1.45,2.5z" fill="#0a0aff"/>
<path d="M603.94,3.92h2.9l-1.45,2.5z" fill="#0a0aff"/>
<path d="M608.61,3.87h2.9l-1.45,2.5z" fill="#0a0aff"/>
<path d="M613.29,3.84h2.9l-1.45,2.5z" fill="#0a0aff"/>
<path d="M617.96,3.83h2.9l-1.45,2.5z" fill="#0a0aff"/>
<path d="M622.64,3.82h2.9l-1.45,2.5z" fill="#0a0aff"/>
<path d="M627.31,3.81h2.9l-1.45,2.5z" fill="#0a0aff"/>
<path d="M631.99,3.81h2.9l-1.45,2.5z" fill="#0a0aff"/>
<path d="M636.66,3.80h2.9l-1.45,2.5z" fill="#0a0aff"/>
<path d="M641.34,3.80h2.9l-1.45,2.5z" fill="#0a0aff"/>
<path d="M646.01,3.80h2.9l-1.45,2.5z" fill="#0a0aff"/>
<path d="M650.69,3.80h2.9l-1.45,2.5z" fill="#0a0aff"/>
<path d="M655.36,3.80h2.9l-1.45,2.5z" fill="#0a0aff"/>
<path d="M660.04,3.80h2.9l-1.45,2.5z" fill="#0a0aff"/>
<path d="M664.71,3.80h2.9l-1.45,2.5z" fill="#0a0aff"/>
<line x1="481.0" y1="2.5" x2="668.5" y2="2.5" stroke="#8a8a8a" stroke-width="1"/>
<line x1="481.5" y1="2.0" x2="481.5" y2="134.0" stroke="#505050" stroke-width="1"/>
<line x1="481.0" y1="133.5" x2="668.5" y2="133.5" stroke="#505050" stroke-width="1"/>
<line x1="668.5" y1="2.0" x2="668.5" y2="134.0" stroke="#4040ff" stroke-width="1"/>
<path d="M481.5,133.50h2.2 M481.5,122.58h1.4 M481.5,111.67h2.2 M481.5,100.75h1.4 M481.5,89.83h2.2 M481.5,78.92h1.4 M481.5,68.00h2.2 M481.5,57.08h1.4 M481.5,46.17h2.2 M481.5,35.25h1.4 M481.5,24.33h2.2 M481.5,13.42h1.4 M481.5,2.50h2.2" stroke="#333" stroke-width="0.7"/>
<text transform="translate(478.70,135.35) scale(1.0,1)" font-size="6.0" fill="#333" text-anchor="end" stroke="#333" stroke-width="0.08">0.00</text>
<text transform="translate(478.70,113.52) scale(1.0,1)" font-size="6.0" fill="#333" text-anchor="end" stroke="#333" stroke-width="0.08">0.02</text>
<text transform="translate(478.70,91.68) scale(1.0,1)" font-size="6.0" fill="#333" text-anchor="end" stroke="#333" stroke-width="0.08">0.04</text>
<text transform="translate(478.70,69.85) scale(1.0,1)" font-size="6.0" fill="#333" text-anchor="end" stroke="#333" stroke-width="0.08">0.06</text>
<text transform="translate(478.70,48.02) scale(1.0,1)" font-size="6.0" fill="#333" text-anchor="end" stroke="#333" stroke-width="0.08">0.08</text>
<text transform="translate(478.70,26.18) scale(1.0,1)" font-size="6.0" fill="#333" text-anchor="end" stroke="#333" stroke-width="0.08">0.10</text>
<text transform="translate(478.70,4.35) scale(1.0,1)" font-size="6.0" fill="#333" text-anchor="end" stroke="#333" stroke-width="0.08">0.12</text>
<path d="M481.50,133.5v-2.5 M504.88,133.5v-1.5 M528.25,133.5v-2.5 M551.62,133.5v-1.5 M575.00,133.5v-2.5 M598.38,133.5v-1.5 M621.75,133.5v-2.5 M645.12,133.5v-1.5 M668.50,133.5v-2.5" stroke="#333" stroke-width="0.7"/>
<text transform="translate(481.50,139.80) scale(1.0,1)" font-size="5.9" fill="#333" text-anchor="middle" stroke="#333" stroke-width="0.08">0</text>
<text transform="translate(528.25,139.80) scale(1.0,1)" font-size="5.9" fill="#333" text-anchor="middle" stroke="#333" stroke-width="0.08">1</text>
<text transform="translate(575.00,139.80) scale(1.0,1)" font-size="5.9" fill="#333" text-anchor="middle" stroke="#333" stroke-width="0.08">2</text>
<text transform="translate(621.75,139.80) scale(1.0,1)" font-size="5.9" fill="#333" text-anchor="middle" stroke="#333" stroke-width="0.08">3</text>
<text transform="translate(668.50,139.80) scale(1.0,1)" font-size="5.9" fill="#333" text-anchor="middle" stroke="#333" stroke-width="0.08">4</text>
<path d="M668.5,133.50h-2.2 M668.5,120.64h-1.4 M668.5,107.78h-2.2 M668.5,94.92h-1.4 M668.5,82.06h-2.2 M668.5,69.20h-1.4 M668.5,56.34h-2.2 M668.5,43.48h-1.4 M668.5,30.62h-2.2 M668.5,17.76h-1.4 M668.5,4.90h-2.2" stroke="#2222ff" stroke-width="0.7"/>
<text transform="translate(669.50,135.25) scale(0.85,1)" font-size="5.5" fill="#2a2aff" text-anchor="start" stroke="#2a2aff" stroke-width="0.08">0</text>
<text transform="translate(669.50,109.53) scale(0.85,1)" font-size="5.5" fill="#2a2aff" text-anchor="start" stroke="#2a2aff" stroke-width="0.08">20</text>
<text transform="translate(669.50,83.81) scale(0.85,1)" font-size="5.5" fill="#2a2aff" text-anchor="start" stroke="#2a2aff" stroke-width="0.08">40</text>
<text transform="translate(669.50,58.09) scale(0.85,1)" font-size="5.5" fill="#2a2aff" text-anchor="start" stroke="#2a2aff" stroke-width="0.08">60</text>
<text transform="translate(669.50,32.37) scale(0.85,1)" font-size="5.5" fill="#2a2aff" text-anchor="start" stroke="#2a2aff" stroke-width="0.08">80</text>
<text transform="translate(669.50,6.65) scale(0.85,1)" font-size="5.5" fill="#2a2aff" text-anchor="start" stroke="#2a2aff" stroke-width="0.08">100</text>
<text transform="translate(466.40,67.50) rotate(-90) scale(0.97,1)" font-size="7" fill="#1a1a1a" text-anchor="middle" stroke="#1a1a1a" stroke-width="0.16">Relative frequency (/%)</text>
<text transform="translate(680.30,67.00) rotate(-90) scale(1.0,1)" font-size="6.6" fill="#2020ff" text-anchor="middle" stroke="#2020ff" stroke-width="0.16">Cumulative frequency (%)</text>
<text transform="translate(575.00,145.40) scale(0.92,1)" font-size="7.4" fill="#1a1a1a" text-anchor="middle" stroke="#1a1a1a" stroke-width="0.14">Kernel average misorientation (°)</text>
<text transform="translate(483.90,13.50) scale(0.98,1)" font-size="13.5" fill="#151515" text-anchor="start" stroke="#151515" stroke-width="0.1">(c)</text>
<text transform="translate(512.00,10.80) scale(0.89,1)" font-size="7.1" fill="#222" text-anchor="start" stroke="#222" stroke-width="0.12">KAM<tspan font-size="4.4" dy="1.2">mean</tspan><tspan dy="-1.2">=0.77 °</tspan></text>
<text transform="translate(605.40,25.80) scale(0.9,1)" font-size="8.2" fill="#222" text-anchor="start" stroke="#222" stroke-width="0.15">KAM<tspan font-size="5.6" dy="2">90</tspan><tspan dy="-2">=1.51 °</tspan></text>
<text transform="translate(605.10,65.70) scale(0.9,1)" font-size="8.2" fill="#222" text-anchor="start" stroke="#222" stroke-width="0.15">KAM<tspan font-size="5.6" dy="2">50</tspan><tspan dy="-2">=0.71 °</tspan></text>
<text transform="translate(603.30,117.50) scale(0.9,1)" font-size="8.2" fill="#222" text-anchor="start" stroke="#222" stroke-width="0.15">KAM<tspan font-size="5.6" dy="2">10</tspan><tspan dy="-2">=0.24 °</tspan></text></g>
<g><rect x="20.5" y="163.5" width="187.0" height="131.0" fill="#e3ffff"/>
<rect x="25.18" y="273.60" width="4.68" height="20.90" fill="url(#bg)"/>
<rect x="29.85" y="209.30" width="4.68" height="85.20" fill="url(#bg)"/>
<rect x="34.53" y="171.10" width="4.67" height="123.40" fill="url(#bg)"/>
<rect x="39.20" y="177.20" width="4.67" height="117.30" fill="url(#bg)"/>
<rect x="43.88" y="201.40" width="4.68" height="93.10" fill="url(#bg)"/>
<rect x="48.55" y="223.30" width="4.67" height="71.20" fill="url(#bg)"/>
<rect x="53.23" y="240.00" width="4.67" height="54.50" fill="url(#bg)"/>
<rect x="57.90" y="250.50" width="4.68" height="44.00" fill="url(#bg)"/>
<rect x="62.58" y="257.80" width="4.67" height="36.70" fill="url(#bg)"/>
<rect x="67.25" y="263.00" width="4.68" height="31.50" fill="url(#bg)"/>
<rect x="71.93" y="267.00" width="4.67" height="27.50" fill="url(#bg)"/>
<rect x="76.60" y="270.00" width="4.67" height="24.50" fill="url(#bg)"/>
<rect x="81.28" y="273.30" width="4.67" height="21.20" fill="url(#bg)"/>
<rect x="85.95" y="276.60" width="4.67" height="17.90" fill="url(#bg)"/>
<rect x="90.62" y="280.10" width="4.67" height="14.40" fill="url(#bg)"/>
<rect x="95.30" y="283.10" width="4.68" height="11.40" fill="url(#bg)"/>
<rect x="99.98" y="286.00" width="4.67" height="8.50" fill="url(#bg)"/>
<rect x="104.65" y="288.80" width="4.67" height="5.70" fill="url(#bg)"/>
<rect x="109.33" y="290.70" width="4.67" height="3.80" fill="url(#bg)"/>
<rect x="114.00" y="291.90" width="4.67" height="2.60" fill="url(#bg)"/>
<rect x="118.67" y="292.90" width="4.68" height="1.60" fill="url(#bg)"/>
<rect x="123.35" y="293.20" width="4.67" height="1.30" fill="url(#bg)"/>
<rect x="128.03" y="293.50" width="4.68" height="1.00" fill="url(#bg)"/>
<rect x="132.70" y="293.70" width="4.67" height="0.80" fill="url(#bg)"/>
<rect x="137.38" y="293.90" width="4.68" height="0.60" fill="url(#bg)"/>
<rect x="142.05" y="294.10" width="4.68" height="0.40" fill="url(#bg)"/>
<path d="M29.85,273.60V294.50 M34.53,209.30V294.50 M39.20,177.20V294.50 M43.88,201.40V294.50 M48.55,223.30V294.50 M53.23,240.00V294.50 M57.90,250.50V294.50 M62.58,257.80V294.50 M67.25,263.00V294.50 M71.93,267.00V294.50 M76.60,270.00V294.50 M81.28,273.30V294.50 M85.95,276.60V294.50 M90.62,280.10V294.50 M95.30,283.10V294.50 M99.98,286.00V294.50 M104.65,288.80V294.50 M109.33,290.70V294.50 M114.00,291.90V294.50 M118.67,292.90V294.50 M123.35,293.20V294.50 M128.03,293.50V294.50 M132.70,293.70V294.50 M137.38,293.90V294.50 M142.05,294.10V294.50" stroke="#fff" stroke-opacity="0.85" stroke-width="0.8"/>
<polyline points="25.96,293.60 26.24,292.75 26.53,291.52 26.81,289.87 27.10,287.78 27.38,285.26 27.67,282.33 27.95,279.04 28.24,275.44 28.52,271.56 28.81,267.45 29.09,263.18 29.38,258.79 29.66,254.32 29.94,249.81 30.23,245.31 30.51,240.85 30.80,236.46 31.08,232.16 31.37,227.97 31.65,223.92 31.94,220.02 32.22,216.28 32.51,212.72 32.79,209.33 33.08,206.12 33.36,203.10 33.65,200.27 33.93,197.63 34.22,195.17 34.50,192.90 34.79,190.81 35.07,188.89 35.36,187.15 35.64,185.58 35.93,184.17 36.21,182.92 36.50,181.82 36.78,180.86 37.06,180.04 37.35,179.36 37.63,178.80 37.92,178.37 38.20,178.04 38.49,177.83 38.77,177.72 39.06,177.71 39.34,177.80 39.63,177.96 39.91,178.21 40.20,178.54 40.48,178.94 40.77,179.41 41.05,179.94 41.34,180.53 41.62,181.17 41.91,181.86 42.19,182.60 42.48,183.39 42.76,184.21 43.05,185.07 43.33,185.97 43.61,186.90 43.90,187.85 44.18,188.83 44.47,189.83 44.75,190.86 45.04,191.90 45.32,192.96 45.61,194.03 45.89,195.12 46.18,196.22 46.46,197.32 46.75,198.44 47.03,199.56 47.32,200.68 47.60,201.81 47.89,202.94 48.17,204.07 48.46,205.20 48.74,206.34 49.03,207.46 49.31,208.59 49.60,209.71 49.88,210.83 50.17,211.95 50.45,213.05 50.73,214.16 51.02,215.25 51.30,216.34 51.59,217.42 51.87,218.49 52.16,219.56 52.44,220.61 52.73,221.66 53.01,222.69 53.30,223.72 53.58,224.74 53.87,225.74 54.15,226.74 54.44,227.72 54.72,228.70 55.01,229.66 55.29,230.61 55.58,231.56 55.86,232.49 56.15,233.40 56.43,234.31 56.72,235.21 57.00,236.09 57.28,236.97 57.57,237.83 57.85,238.68 58.14,239.52 58.42,240.35 58.71,241.17 58.99,241.97 59.28,242.77 59.56,243.55 59.85,244.33 60.13,245.09 60.42,245.84 60.70,246.58 60.99,247.31 61.27,248.03 61.56,248.74 61.84,249.44 62.13,250.13 62.41,250.80 62.70,251.47 62.98,252.13 63.27,252.78 63.55,253.42 63.84,254.05 64.12,254.66 64.40,255.27 64.69,255.87 64.97,256.46 65.26,257.05 65.54,257.62 65.83,258.18 66.11,258.74 66.40,259.29 66.68,259.82 66.97,260.35 67.25,260.87 67.54,261.39 67.82,261.89 68.11,262.39 68.39,262.88 68.68,263.36 68.96,263.83 69.25,264.30 69.53,264.76 69.82,265.21 70.10,265.66 70.39,266.09 70.67,266.52 70.96,266.95 71.24,267.37 71.52,267.78 71.81,268.18 72.09,268.58 72.38,268.97 72.66,269.35 72.95,269.73 73.23,270.10 73.52,270.47 73.80,270.83 74.09,271.19 74.37,271.54 74.66,271.88 74.94,272.22 75.23,272.55 75.51,272.88 75.80,273.20 76.08,273.52 76.37,273.83 76.65,274.14 76.94,274.44 77.22,274.74 77.51,275.03 77.79,275.32 78.07,275.60 78.36,275.88 78.64,276.15 78.93,276.42 79.21,276.69 79.50,276.95 79.78,277.21 80.07,277.46 80.35,277.71 80.64,277.95 80.92,278.20 81.21,278.43 81.49,278.67 81.78,278.90 82.06,279.12 82.35,279.35 82.63,279.57 82.92,279.78 83.20,279.99 83.49,280.20 83.77,280.41 84.06,280.61 84.34,280.81 84.63,281.01 84.91,281.20 85.19,281.39 85.48,281.58 85.76,281.76 86.05,281.94 86.33,282.12 86.62,282.30 86.90,282.47 87.19,282.64 87.47,282.81 87.76,282.97 88.04,283.14 88.33,283.30 88.61,283.45 88.90,283.61 89.18,283.76 89.47,283.91 89.75,284.06 90.04,284.21 90.32,284.35 90.61,284.49 90.89,284.63 91.18,284.77 91.46,284.90 91.74,285.04 92.03,285.17 92.31,285.29 92.60,285.42 92.88,285.55 93.17,285.67 93.45,285.79 93.74,285.91 94.02,286.03 94.31,286.14 94.59,286.26 94.88,286.37 95.16,286.48 95.45,286.59 95.73,286.70 96.02,286.80 96.30,286.91 96.59,287.01 96.87,287.11 97.16,287.21 97.44,287.31 97.73,287.40 98.01,287.50 98.30,287.59 98.58,287.69 98.86,287.78 99.15,287.87 99.43,287.95 99.72,288.04 100.00,288.13 100.29,288.21 100.57,288.30 100.86,288.38 101.14,288.46 101.43,288.54 101.71,288.62 102.00,288.69 102.28,288.77 102.57,288.84 102.85,288.92 103.14,288.99 103.42,289.06 103.71,289.13 103.99,289.20 104.28,289.27 104.56,289.34 104.85,289.41 105.13,289.47 105.41,289.54 105.70,289.60 105.98,289.67 106.27,289.73 106.55,289.79 106.84,289.85 107.12,289.91 107.41,289.97 107.69,290.03 107.98,290.08 108.26,290.14 108.55,290.19 108.83,290.25 109.12,290.30 109.40,290.36 109.69,290.41 109.97,290.46 110.26,290.51 110.54,290.56 110.83,290.61 111.11,290.66 111.40,290.71 111.68,290.76 111.97,290.80 112.25,290.85 112.53,290.89 112.82,290.94 113.10,290.98 113.39,291.03 113.67,291.07 113.96,291.11 114.24,291.15 114.53,291.20 114.81,291.24 115.10,291.28 115.38,291.32 115.67,291.35 115.95,291.39 116.24,291.43 116.52,291.47 116.81,291.51 117.09,291.54 117.38,291.58 117.66,291.61 117.95,291.65 118.23,291.68 118.52,291.72 118.80,291.75 119.08,291.78 119.37,291.82 119.65,291.85 119.94,291.88 120.22,291.91 120.51,291.94 120.79,291.97 121.08,292.00 121.36,292.03 121.65,292.06 121.93,292.09 122.22,292.12 122.50,292.15 122.79,292.18 123.07,292.20 123.36,292.23 123.64,292.26 123.93,292.29 124.21,292.31 124.50,292.34 124.78,292.36 125.07,292.39 125.35,292.41 125.64,292.44 125.92,292.46 126.20,292.48 126.49,292.51 126.77,292.53 127.06,292.55 127.34,292.58 127.63,292.60 127.91,292.62 128.20,292.64 128.48,292.66 128.77,292.69 129.05,292.71 129.34,292.73 129.62,292.75 129.91,292.77 130.19,292.79 130.48,292.81 130.76,292.83 131.05,292.85 131.33,292.86 131.62,292.88 131.90,292.90 132.19,292.92 132.47,292.94 132.76,292.95 133.04,292.97 133.32,292.99 133.61,293.01 133.89,293.02 134.18,293.04 134.46,293.06 134.75,293.07 135.03,293.09 135.32,293.10 135.60,293.12 135.89,293.14 136.17,293.15 136.46,293.17 136.74,293.18 137.03,293.19 137.31,293.21 137.60,293.22 137.88,293.24 138.17,293.25 138.45,293.27 138.74,293.28 139.02,293.29 139.31,293.31 139.59,293.32 139.87,293.33 140.16,293.34 140.44,293.36 140.73,293.37 141.01,293.38 141.30,293.39 141.58,293.41 141.87,293.42 142.15,293.43 142.44,293.44 142.72,293.45 143.01,293.46 143.29,293.48 143.58,293.49 143.86,293.50 144.15,293.51 144.43,293.52 144.72,293.53 145.00,293.54 145.29,293.55 145.57,293.56 145.86,293.57 146.14,293.58 146.43,293.59 146.71,293.60 146.99,293.61 147.28,293.62 147.56,293.63 147.85,293.64 148.13,293.65 148.42,293.66 148.70,293.66 148.99,293.67 149.27,293.68 149.56,293.69 149.84,293.70 150.13,293.71 150.41,293.72 150.70,293.72 150.98,293.73 151.27,293.74 151.55,293.75 151.84,293.76 152.12,293.76 152.41,293.77 152.69,293.78 152.98,293.79 153.26,293.79 153.54,293.80 153.83,293.81 154.11,293.82 154.40,293.82 154.68,293.83 154.97,293.84 155.25,293.84 155.54,293.85 155.82,293.86 156.11,293.86 156.39,293.87 156.68,293.88 156.96,293.88 157.25,293.89 157.53,293.89 157.82,293.90 158.10,293.91 158.39,293.91 158.67,293.92 158.96,293.92 159.24,293.93 159.53,293.94 159.81,293.94 160.10,293.95 160.38,293.95 160.66,293.96 160.95,293.96 161.23,293.97 161.52,293.97 161.80,293.98 162.09,293.99 162.37,293.99 162.66,294.00 162.94,294.00 163.23,294.01 163.51,294.01 163.80,294.02 164.08,294.02 164.37,294.02 164.65,294.03 164.94,294.03 165.22,294.04 165.51,294.04 165.79,294.05 166.08,294.05 166.36,294.06 166.65,294.06 166.93,294.07 167.21,294.07 167.50,294.07 167.78,294.08 168.07,294.08 168.35,294.09 168.64,294.09 168.92,294.09 169.21,294.10 169.49,294.10 169.78,294.11 170.06,294.11 170.35,294.11 170.63,294.12 170.92,294.12 171.20,294.12 171.49,294.13 171.77,294.13 172.06,294.14 172.34,294.14 172.63,294.14 172.91,294.15 173.20,294.15 173.48,294.15 173.77,294.16 174.05,294.16 174.33,294.16 174.62,294.17 174.90,294.17 175.19,294.17 175.47,294.17 175.76,294.18 176.04,294.18 176.33,294.18 176.61,294.19 176.90,294.19 177.18,294.19 177.47,294.20 177.75,294.20 178.04,294.20 178.32,294.20 178.61,294.21 178.89,294.21 179.18,294.21 179.46,294.22 179.75,294.22 180.03,294.22 180.32,294.22 180.60,294.23 180.88,294.23 181.17,294.23 181.45,294.23 181.74,294.24 182.02,294.24 182.31,294.24 182.59,294.24 182.88,294.25 183.16,294.25 183.45,294.25 183.73,294.25 184.02,294.25 184.30,294.26 184.59,294.26 184.87,294.26 185.16,294.26 185.44,294.27 185.73,294.27 186.01,294.27 186.30,294.27 186.58,294.27 186.87,294.28 187.15,294.28 187.44,294.28 187.72,294.28 188.00,294.28 188.29,294.29 188.57,294.29 188.86,294.29 189.14,294.29 189.43,294.29 189.71,294.30 190.00,294.30 190.28,294.30 190.57,294.30 190.85,294.30 191.14,294.30" fill="none" stroke="#f41c1c" stroke-width="0.8"/>
<line x1="28.5" y1="281.3" x2="28.5" y2="294.5" stroke="#4c4c4c" stroke-width="0.8" stroke-dasharray="2.85 1.75 0.8 1.6" fill="none"/>
<line x1="46.2" y1="228.6" x2="46.2" y2="294.5" stroke="#4c4c4c" stroke-width="0.8" stroke-dasharray="2.85 1.75 0.8 1.6" fill="none"/>
<line x1="46.4" y1="175.5" x2="46.4" y2="294.5" stroke="#4c4c4c" stroke-width="0.8" stroke-dasharray="2.85 1.75 0.8 1.6" fill="none"/>
<line x1="77.6" y1="176.2" x2="77.6" y2="294.5" stroke="#4c4c4c" stroke-width="0.8" stroke-dasharray="2.85 1.75 0.8 1.6" fill="none"/>
<line x1="28.5" y1="281.3" x2="207.5" y2="281.3" stroke="#4c4c4c" stroke-width="0.8" stroke-dasharray="2.85 1.75 0.8 1.6" fill="none"/>
<line x1="46.3" y1="228.6" x2="207.5" y2="228.6" stroke="#4c4c4c" stroke-width="0.8" stroke-dasharray="2.85 1.75 0.8 1.6" fill="none"/>
<line x1="77.8" y1="176.2" x2="207.5" y2="176.2" stroke="#4c4c4c" stroke-width="0.8" stroke-dasharray="2.85 1.75 0.8 1.6" fill="none"/>
<polyline points="24.03,294.50 24.30,294.49 24.58,294.44 24.86,294.34 25.14,294.20 25.42,294.01 25.70,293.77 25.98,293.47 26.26,293.12 26.54,292.71 26.82,292.26 27.09,291.75 27.37,291.19 27.65,290.59 27.93,289.94 28.21,289.25 28.49,288.51 28.77,287.74 29.05,286.92 29.33,286.07 29.61,285.19 29.88,284.28 30.16,283.33 30.44,282.36 30.72,281.36 31.00,280.34 31.28,279.30 31.56,278.24 31.84,277.16 32.12,276.06 32.40,274.95 32.67,273.82 32.95,272.68 33.23,271.54 33.51,270.38 33.79,269.22 34.07,268.05 34.35,266.88 34.63,265.70 34.91,264.52 35.19,263.34 35.46,262.17 35.74,260.99 36.02,259.81 36.30,258.64 36.58,257.47 36.86,256.31 37.14,255.15 37.42,254.00 37.70,252.85 37.98,251.71 38.25,250.58 38.53,249.46 38.81,248.35 39.09,247.25 39.37,246.16 39.65,245.08 39.93,244.01 40.21,242.95 40.49,241.90 40.76,240.86 41.04,239.84 41.32,238.83 41.60,237.83 41.88,236.84 42.16,235.87 42.44,234.91 42.72,233.96 43.00,233.03 43.28,232.11 43.55,231.20 43.83,230.31 44.11,229.43 44.39,228.56 44.67,227.70 44.95,226.86 45.23,226.03 45.51,225.22 45.79,224.41 46.07,223.62 46.34,222.85 46.62,222.08 46.90,221.33 47.18,220.59 47.46,219.86 47.74,219.15 48.02,218.45 48.30,217.75 48.58,217.07 48.86,216.41 49.13,215.75 49.41,215.10 49.69,214.47 49.97,213.84 50.25,213.23 50.53,212.62 50.81,212.03 51.09,211.44 51.37,210.87 51.65,210.30 51.92,209.74 52.20,209.20 52.48,208.66 52.76,208.13 53.04,207.60 53.32,207.09 53.60,206.58 53.88,206.09 54.16,205.60 54.44,205.11 54.71,204.64 54.99,204.17 55.27,203.70 55.55,203.25 55.83,202.80 56.11,202.35 56.39,201.92 56.67,201.48 56.95,201.06 57.23,200.64 57.50,200.22 57.78,199.81 58.06,199.41 58.34,199.00 58.62,198.61 58.90,198.22 59.18,197.83 59.46,197.45 59.74,197.07 60.01,196.69 60.29,196.32 60.57,195.96 60.85,195.59 61.13,195.23 61.41,194.88 61.69,194.52 61.97,194.17 62.25,193.82 62.53,193.48 62.80,193.14 63.08,192.80 63.36,192.47 63.64,192.13 63.92,191.80 64.20,191.47 64.48,191.15 64.76,190.83 65.04,190.51 65.32,190.19 65.59,189.87 65.87,189.56 66.15,189.25 66.43,188.94 66.71,188.63 66.99,188.32 67.27,188.02 67.55,187.72 67.83,187.42 68.11,187.12 68.38,186.83 68.66,186.53 68.94,186.24 69.22,185.95 69.50,185.66 69.78,185.38 70.06,185.09 70.34,184.81 70.62,184.53 70.90,184.25 71.17,183.98 71.45,183.70 71.73,183.43 72.01,183.16 72.29,182.89 72.57,182.62 72.85,182.36 73.13,182.09 73.41,181.83 73.69,181.57 73.96,181.31 74.24,181.06 74.52,180.80 74.80,180.55 75.08,180.30 75.36,180.05 75.64,179.80 75.92,179.56 76.20,179.32 76.47,179.08 76.75,178.84 77.03,178.60 77.31,178.37 77.59,178.13 77.87,177.90 78.15,177.68 78.43,177.45 78.71,177.23 78.99,177.00 79.26,176.78 79.54,176.57 79.82,176.35 80.10,176.14 80.38,175.93 80.66,175.72 80.94,175.51 81.22,175.31 81.50,175.10 81.78,174.90 82.05,174.71 82.33,174.51 82.61,174.32 82.89,174.13 83.17,173.94 83.45,173.75 83.73,173.56 84.01,173.38 84.29,173.20 84.57,173.02 84.84,172.85 85.12,172.67 85.40,172.50 85.68,172.33 85.96,172.17 86.24,172.00 86.52,171.84 86.80,171.68 87.08,171.52 87.36,171.37 87.63,171.21 87.91,171.06 88.19,170.91 88.47,170.76 88.75,170.62 89.03,170.48 89.31,170.34 89.59,170.20 89.87,170.06 90.15,169.93 90.42,169.79 90.70,169.66 90.98,169.54 91.26,169.41 91.54,169.28 91.82,169.16 92.10,169.04 92.38,168.92 92.66,168.81 92.94,168.69 93.21,168.58 93.49,168.47 93.77,168.36 94.05,168.26 94.33,168.15 94.61,168.05 94.89,167.95 95.17,167.85 95.45,167.75 95.72,167.65 96.00,167.56 96.28,167.47 96.56,167.38 96.84,167.29 97.12,167.20 97.40,167.12 97.68,167.03 97.96,166.95 98.24,166.87 98.51,166.79 98.79,166.71 99.07,166.64 99.35,166.56 99.63,166.49 99.91,166.42 100.19,166.35 100.47,166.28 100.75,166.21 101.03,166.15 101.30,166.08 101.58,166.02 101.86,165.96 102.14,165.90 102.42,165.84 102.70,165.78 102.98,165.72 103.26,165.67 103.54,165.61 103.82,165.56 104.09,165.51 104.37,165.45 104.65,165.41 104.93,165.36 105.21,165.31 105.49,165.26 105.77,165.22 106.05,165.17 106.33,165.13 106.61,165.09 106.88,165.05 107.16,165.00 107.44,164.97 107.72,164.93 108.00,164.89 108.28,164.85 108.56,164.82 108.84,164.78 109.12,164.75 109.40,164.71 109.67,164.68 109.95,164.65 110.23,164.62 110.51,164.59 110.79,164.56 111.07,164.53 111.35,164.50 111.63,164.47 111.91,164.45 112.18,164.42 112.46,164.39 112.74,164.37 113.02,164.35 113.30,164.32 113.58,164.30 113.86,164.28 114.14,164.25 114.42,164.23 114.70,164.21 114.97,164.19 115.25,164.17 115.53,164.15 115.81,164.13 116.09,164.12 116.37,164.10 116.65,164.08 116.93,164.06 117.21,164.05 117.49,164.03 117.76,164.02 118.04,164.00 118.32,163.99 118.60,163.97 118.88,163.96 119.16,163.95 119.44,163.93 119.72,163.92 120.00,163.91 120.28,163.89 120.55,163.88 120.83,163.87 121.11,163.86 121.39,163.85 121.67,163.84 121.95,163.83 122.23,163.82 122.51,163.81 122.79,163.80 123.07,163.79 123.34,163.78 123.62,163.77 123.90,163.77 124.18,163.76 124.46,163.75 124.74,163.74 125.02,163.73 125.30,163.73 125.58,163.72 125.86,163.71 126.13,163.71 126.41,163.70 126.69,163.69 126.97,163.69 127.25,163.68 127.53,163.68 127.81,163.67 128.09,163.67 128.37,163.66 128.65,163.66 128.92,163.65 129.20,163.65 129.48,163.64 129.76,163.64 130.04,163.63 130.32,163.63 130.60,163.62 130.88,163.62 131.16,163.62 131.43,163.61 131.71,163.61 131.99,163.61 132.27,163.60 132.55,163.60 132.83,163.60 133.11,163.59 133.39,163.59 133.67,163.59 133.95,163.58 134.22,163.58 134.50,163.58 134.78,163.58 135.06,163.57 135.34,163.57 135.62,163.57 135.90,163.57 136.18,163.56 136.46,163.56 136.74,163.56 137.01,163.56 137.29,163.56 137.57,163.55 137.85,163.55 138.13,163.55 138.41,163.55 138.69,163.55 138.97,163.55 139.25,163.54 139.53,163.54 139.80,163.54 140.08,163.54 140.36,163.54 140.64,163.54 140.92,163.54 141.20,163.53 141.48,163.53 141.76,163.53 142.04,163.53 142.32,163.53 142.59,163.53 142.87,163.53 143.15,163.53 143.43,163.53 143.71,163.53 143.99,163.52 144.27,163.52 144.55,163.52 144.83,163.52 145.11,163.52 145.38,163.52 145.66,163.52 145.94,163.52 146.22,163.52 146.50,163.52 146.78,163.52 147.06,163.52 147.34,163.52 147.62,163.52 147.89,163.51 148.17,163.51 148.45,163.51 148.73,163.51 149.01,163.51 149.29,163.51 149.57,163.51 149.85,163.51 150.13,163.51 150.41,163.51 150.68,163.51 150.96,163.51 151.24,163.51 151.52,163.51 151.80,163.51 152.08,163.51 152.36,163.51 152.64,163.51 152.92,163.51 153.20,163.51 153.47,163.51 153.75,163.51 154.03,163.51 154.31,163.51 154.59,163.51 154.87,163.51 155.15,163.51 155.43,163.51 155.71,163.51 155.99,163.51 156.26,163.51 156.54,163.50 156.82,163.50 157.10,163.50 157.38,163.50 157.66,163.50 157.94,163.50 158.22,163.50 158.50,163.50 158.78,163.50 159.05,163.50 159.33,163.50 159.61,163.50 159.89,163.50 160.17,163.50 160.45,163.50 160.73,163.50 161.01,163.50 161.29,163.50 161.57,163.50 161.84,163.50 162.12,163.50 162.40,163.50 162.68,163.50 162.96,163.50 163.24,163.50 163.52,163.50 163.80,163.50 164.08,163.50 164.36,163.50 164.63,163.50 164.91,163.50 165.19,163.50 165.47,163.50 165.75,163.50 166.03,163.50 166.31,163.50 166.59,163.50 166.87,163.50 167.14,163.50 167.42,163.50 167.70,163.50 167.98,163.50 168.26,163.50 168.54,163.50 168.82,163.50 169.10,163.50 169.38,163.50 169.66,163.50 169.93,163.50 170.21,163.50 170.49,163.50 170.77,163.50 171.05,163.50 171.33,163.50 171.61,163.50 171.89,163.50 172.17,163.50 172.45,163.50 172.72,163.50 173.00,163.50 173.28,163.50 173.56,163.50 173.84,163.50 174.12,163.50 174.40,163.50 174.68,163.50 174.96,163.50 175.24,163.50 175.51,163.50 175.79,163.50 176.07,163.50 176.35,163.50 176.63,163.50 176.91,163.50 177.19,163.50 177.47,163.50 177.75,163.50 178.03,163.50 178.30,163.50 178.58,163.50 178.86,163.50 179.14,163.50 179.42,163.50 179.70,163.50 179.98,163.50 180.26,163.50 180.54,163.50 180.82,163.50 181.09,163.50 181.37,163.50 181.65,163.50 181.93,163.50 182.21,163.50 182.49,163.50 182.77,163.50 183.05,163.50 183.33,163.50 183.60,163.50 183.88,163.50 184.16,163.50 184.44,163.50 184.72,163.50 185.00,163.50 185.28,163.50 185.56,163.50 185.84,163.50 186.12,163.50 186.39,163.50 186.67,163.50 186.95,163.50 187.23,163.50 187.51,163.50 187.79,163.50 188.07,163.50 188.35,163.50 188.63,163.50 188.91,163.50 189.18,163.50 189.46,163.50 189.74,163.50 190.02,163.50 190.30,163.50 190.58,163.50 190.86,163.50 191.14,163.50" fill="none" stroke="#2424ff" stroke-width="1.0"/>
<path d="M26.06,289.80h2.9l-1.45,2.5z" fill="#0a0aff"/>
<path d="M30.74,274.68h2.9l-1.45,2.5z" fill="#0a0aff"/>
<path d="M35.41,255.19h2.9l-1.45,2.5z" fill="#0a0aff"/>
<path d="M40.09,236.96h2.9l-1.45,2.5z" fill="#0a0aff"/>
<path d="M44.76,222.11h2.9l-1.45,2.5z" fill="#0a0aff"/>
<path d="M49.44,210.76h2.9l-1.45,2.5z" fill="#0a0aff"/>
<path d="M54.11,202.13h2.9l-1.45,2.5z" fill="#0a0aff"/>
<path d="M58.79,195.30h2.9l-1.45,2.5z" fill="#0a0aff"/>
<path d="M63.46,189.55h2.9l-1.45,2.5z" fill="#0a0aff"/>
<path d="M68.14,184.48h2.9l-1.45,2.5z" fill="#0a0aff"/>
<path d="M72.81,179.94h2.9l-1.45,2.5z" fill="#0a0aff"/>
<path d="M77.49,175.94h2.9l-1.45,2.5z" fill="#0a0aff"/>
<path d="M82.16,172.54h2.9l-1.45,2.5z" fill="#0a0aff"/>
<path d="M86.84,169.76h2.9l-1.45,2.5z" fill="#0a0aff"/>
<path d="M91.51,167.58h2.9l-1.45,2.5z" fill="#0a0aff"/>
<path d="M96.19,165.94h2.9l-1.45,2.5z" fill="#0a0aff"/>
<path d="M100.86,164.76h2.9l-1.45,2.5z" fill="#0a0aff"/>
<path d="M105.54,163.93h2.9l-1.45,2.5z" fill="#0a0aff"/>
<path d="M110.21,163.37h2.9l-1.45,2.5z" fill="#0a0aff"/>
<path d="M114.89,163.00h2.9l-1.45,2.5z" fill="#0a0aff"/>
<path d="M119.56,162.76h2.9l-1.45,2.5z" fill="#0a0aff"/>
<path d="M124.24,162.62h2.9l-1.45,2.5z" fill="#0a0aff"/>
<path d="M128.91,162.53h2.9l-1.45,2.5z" fill="#0a0aff"/>
<path d="M133.59,162.47h2.9l-1.45,2.5z" fill="#0a0aff"/>
<path d="M138.26,162.44h2.9l-1.45,2.5z" fill="#0a0aff"/>
<path d="M142.94,162.42h2.9l-1.45,2.5z" fill="#0a0aff"/>
<path d="M147.61,162.41h2.9l-1.45,2.5z" fill="#0a0aff"/>
<path d="M152.29,162.41h2.9l-1.45,2.5z" fill="#0a0aff"/>
<path d="M156.96,162.40h2.9l-1.45,2.5z" fill="#0a0aff"/>
<path d="M161.64,162.40h2.9l-1.45,2.5z" fill="#0a0aff"/>
<path d="M166.31,162.40h2.9l-1.45,2.5z" fill="#0a0aff"/>
<path d="M170.99,162.40h2.9l-1.45,2.5z" fill="#0a0aff"/>
<path d="M175.66,162.40h2.9l-1.45,2.5z" fill="#0a0aff"/>
<path d="M180.34,162.40h2.9l-1.45,2.5z" fill="#0a0aff"/>
<path d="M185.01,162.40h2.9l-1.45,2.5z" fill="#0a0aff"/>
<path d="M189.69,162.40h2.9l-1.45,2.5z" fill="#0a0aff"/>
<line x1="20.0" y1="163.5" x2="207.5" y2="163.5" stroke="#8a8a8a" stroke-width="1"/>
<line x1="20.5" y1="163.0" x2="20.5" y2="295.0" stroke="#505050" stroke-width="1"/>
<line x1="20.0" y1="294.5" x2="207.5" y2="294.5" stroke="#505050" stroke-width="1"/>
<line x1="207.5" y1="163.0" x2="207.5" y2="295.0" stroke="#4040ff" stroke-width="1"/>
<path d="M20.5,294.50h2.2 M20.5,286.31h1.4 M20.5,278.12h2.2 M20.5,269.94h1.4 M20.5,261.75h2.2 M20.5,253.56h1.4 M20.5,245.38h2.2 M20.5,237.19h1.4 M20.5,229.00h2.2 M20.5,220.81h1.4 M20.5,212.62h2.2 M20.5,204.44h1.4 M20.5,196.25h2.2 M20.5,188.06h1.4 M20.5,179.88h2.2 M20.5,171.69h1.4 M20.5,163.50h2.2" stroke="#333" stroke-width="0.7"/>
<text transform="translate(17.30,296.35) scale(1.0,1)" font-size="6.0" fill="#333" text-anchor="end" stroke="#333" stroke-width="0.08">0.00</text>
<text transform="translate(17.30,279.98) scale(1.0,1)" font-size="6.0" fill="#333" text-anchor="end" stroke="#333" stroke-width="0.08">0.02</text>
<text transform="translate(17.30,263.60) scale(1.0,1)" font-size="6.0" fill="#333" text-anchor="end" stroke="#333" stroke-width="0.08">0.04</text>
<text transform="translate(17.30,247.22) scale(1.0,1)" font-size="6.0" fill="#333" text-anchor="end" stroke="#333" stroke-width="0.08">0.06</text>
<text transform="translate(17.30,230.85) scale(1.0,1)" font-size="6.0" fill="#333" text-anchor="end" stroke="#333" stroke-width="0.08">0.08</text>
<text transform="translate(17.30,214.47) scale(1.0,1)" font-size="6.0" fill="#333" text-anchor="end" stroke="#333" stroke-width="0.08">0.10</text>
<text transform="translate(17.30,198.10) scale(1.0,1)" font-size="6.0" fill="#333" text-anchor="end" stroke="#333" stroke-width="0.08">0.12</text>
<text transform="translate(17.30,181.72) scale(1.0,1)" font-size="6.0" fill="#333" text-anchor="end" stroke="#333" stroke-width="0.08">0.14</text>
<text transform="translate(17.30,165.35) scale(1.0,1)" font-size="6.0" fill="#333" text-anchor="end" stroke="#333" stroke-width="0.08">0.16</text>
<path d="M20.50,294.5v-2.5 M43.88,294.5v-1.5 M67.25,294.5v-2.5 M90.62,294.5v-1.5 M114.00,294.5v-2.5 M137.38,294.5v-1.5 M160.75,294.5v-2.5 M184.12,294.5v-1.5 M207.50,294.5v-2.5" stroke="#333" stroke-width="0.7"/>
<text transform="translate(20.50,301.10) scale(1.0,1)" font-size="5.9" fill="#333" text-anchor="middle" stroke="#333" stroke-width="0.08">0</text>
<text transform="translate(67.25,301.10) scale(1.0,1)" font-size="5.9" fill="#333" text-anchor="middle" stroke="#333" stroke-width="0.08">1</text>
<text transform="translate(114.00,301.10) scale(1.0,1)" font-size="5.9" fill="#333" text-anchor="middle" stroke="#333" stroke-width="0.08">2</text>
<text transform="translate(160.75,301.10) scale(1.0,1)" font-size="5.9" fill="#333" text-anchor="middle" stroke="#333" stroke-width="0.08">3</text>
<text transform="translate(207.50,301.10) scale(1.0,1)" font-size="5.9" fill="#333" text-anchor="middle" stroke="#333" stroke-width="0.08">4</text>
<path d="M207.5,294.50h-2.2 M207.5,281.40h-1.4 M207.5,268.30h-2.2 M207.5,255.20h-1.4 M207.5,242.10h-2.2 M207.5,229.00h-1.4 M207.5,215.90h-2.2 M207.5,202.80h-1.4 M207.5,189.70h-2.2 M207.5,176.60h-1.4 M207.5,163.50h-2.2" stroke="#2222ff" stroke-width="0.7"/>
<text transform="translate(210.10,296.25) scale(1.0,1)" font-size="5.5" fill="#2a2aff" text-anchor="start" stroke="#2a2aff" stroke-width="0.08">0</text>
<text transform="translate(210.10,270.05) scale(1.0,1)" font-size="5.5" fill="#2a2aff" text-anchor="start" stroke="#2a2aff" stroke-width="0.08">20</text>
<text transform="translate(210.10,243.85) scale(1.0,1)" font-size="5.5" fill="#2a2aff" text-anchor="start" stroke="#2a2aff" stroke-width="0.08">40</text>
<text transform="translate(210.10,217.65) scale(1.0,1)" font-size="5.5" fill="#2a2aff" text-anchor="start" stroke="#2a2aff" stroke-width="0.08">60</text>
<text transform="translate(210.10,191.45) scale(1.0,1)" font-size="5.5" fill="#2a2aff" text-anchor="start" stroke="#2a2aff" stroke-width="0.08">80</text>
<text transform="translate(210.10,165.25) scale(1.0,1)" font-size="5.5" fill="#2a2aff" text-anchor="start" stroke="#2a2aff" stroke-width="0.08">100</text>
<text transform="translate(5.40,228.50) rotate(-90) scale(0.97,1)" font-size="7" fill="#1a1a1a" text-anchor="middle" stroke="#1a1a1a" stroke-width="0.16">Relative frequency (/%)</text>
<text transform="translate(222.40,228.00) rotate(-90) scale(1.0,1)" font-size="7" fill="#2020ff" text-anchor="middle" stroke="#2020ff" stroke-width="0.16">Cumulative frequency (%)</text>
<text transform="translate(114.00,307.50) scale(0.92,1)" font-size="7.4" fill="#1a1a1a" text-anchor="middle" stroke="#1a1a1a" stroke-width="0.14">Kernel average misorientation (°)</text>
<text transform="translate(21.20,174.70) scale(0.98,1)" font-size="13.5" fill="#151515" text-anchor="start" stroke="#151515" stroke-width="0.1">(d)</text>
<text transform="translate(39.40,173.10) scale(0.89,1)" font-size="7.1" fill="#222" text-anchor="start" stroke="#222" stroke-width="0.12">KAM<tspan font-size="4.4" dy="1.2">mean</tspan><tspan dy="-1.2">=0.55 °</tspan></text>
<text transform="translate(133.80,184.50) scale(0.9,1)" font-size="8.2" fill="#222" text-anchor="start" stroke="#222" stroke-width="0.15">KAM<tspan font-size="5.6" dy="2">90</tspan><tspan dy="-2">=1.21 °</tspan></text>
<text transform="translate(131.60,226.20) scale(0.9,1)" font-size="8.2" fill="#222" text-anchor="start" stroke="#222" stroke-width="0.15">KAM<tspan font-size="5.6" dy="2">50</tspan><tspan dy="-2">=0.55 °</tspan></text>
<text transform="translate(137.30,278.60) scale(0.9,1)" font-size="8.2" fill="#222" text-anchor="start" stroke="#222" stroke-width="0.15">KAM<tspan font-size="5.6" dy="2">10</tspan><tspan dy="-2">=0.18 °</tspan></text></g>
<g><rect x="250.5" y="163.5" width="188.0" height="131.0" fill="#e3ffff"/>
<rect x="250.50" y="291.80" width="6.27" height="2.70" fill="url(#bg)"/>
<rect x="256.77" y="228.20" width="6.27" height="66.30" fill="url(#bg)"/>
<rect x="263.03" y="175.50" width="6.27" height="119.00" fill="url(#bg)"/>
<rect x="269.30" y="187.90" width="6.27" height="106.60" fill="url(#bg)"/>
<rect x="275.57" y="216.90" width="6.27" height="77.60" fill="url(#bg)"/>
<rect x="281.83" y="238.70" width="6.27" height="55.80" fill="url(#bg)"/>
<rect x="288.10" y="253.40" width="6.27" height="41.10" fill="url(#bg)"/>
<rect x="294.37" y="263.10" width="6.27" height="31.40" fill="url(#bg)"/>
<rect x="300.63" y="268.80" width="6.27" height="25.70" fill="url(#bg)"/>
<rect x="306.90" y="272.30" width="6.27" height="22.20" fill="url(#bg)"/>
<rect x="313.17" y="275.20" width="6.27" height="19.30" fill="url(#bg)"/>
<rect x="319.43" y="277.80" width="6.27" height="16.70" fill="url(#bg)"/>
<rect x="325.70" y="279.40" width="6.27" height="15.10" fill="url(#bg)"/>
<rect x="331.97" y="281.70" width="6.27" height="12.80" fill="url(#bg)"/>
<rect x="338.23" y="283.50" width="6.27" height="11.00" fill="url(#bg)"/>
<rect x="344.50" y="285.80" width="6.27" height="8.70" fill="url(#bg)"/>
<rect x="350.77" y="287.50" width="6.27" height="7.00" fill="url(#bg)"/>
<rect x="357.03" y="289.00" width="6.27" height="5.50" fill="url(#bg)"/>
<rect x="363.30" y="290.70" width="6.27" height="3.80" fill="url(#bg)"/>
<rect x="369.57" y="291.90" width="6.27" height="2.60" fill="url(#bg)"/>
<rect x="375.83" y="292.60" width="6.27" height="1.90" fill="url(#bg)"/>
<rect x="382.10" y="293.10" width="6.27" height="1.40" fill="url(#bg)"/>
<rect x="388.37" y="293.40" width="6.27" height="1.10" fill="url(#bg)"/>
<rect x="394.63" y="293.60" width="6.27" height="0.90" fill="url(#bg)"/>
<rect x="400.90" y="293.80" width="6.27" height="0.70" fill="url(#bg)"/>
<rect x="407.17" y="294.00" width="6.27" height="0.50" fill="url(#bg)"/>
<path d="M256.77,291.80V294.50 M263.03,228.20V294.50 M269.30,187.90V294.50 M275.57,216.90V294.50 M281.83,238.70V294.50 M288.10,253.40V294.50 M294.37,263.10V294.50 M300.63,268.80V294.50 M306.90,272.30V294.50 M313.17,275.20V294.50 M319.43,277.80V294.50 M325.70,279.40V294.50 M331.97,281.70V294.50 M338.23,283.50V294.50 M344.50,285.80V294.50 M350.77,287.50V294.50 M357.03,289.00V294.50 M363.30,290.70V294.50 M369.57,291.90V294.50 M375.83,292.60V294.50 M382.10,293.10V294.50 M388.37,293.40V294.50 M394.63,293.60V294.50 M400.90,293.80V294.50 M407.17,294.00V294.50" stroke="#fff" stroke-opacity="0.85" stroke-width="0.8"/>
<polyline points="254.64,293.63 254.96,292.54 255.27,290.86 255.58,288.56 255.90,285.67 256.21,282.24 256.52,278.34 256.84,274.07 257.15,269.50 257.47,264.71 257.78,259.80 258.09,254.81 258.41,249.82 258.72,244.88 259.03,240.02 259.35,235.30 259.66,230.72 259.98,226.33 260.29,222.13 260.60,218.14 260.92,214.37 261.23,210.82 261.54,207.50 261.86,204.41 262.17,201.54 262.49,198.89 262.80,196.46 263.11,194.25 263.43,192.24 263.74,190.42 264.05,188.80 264.37,187.36 264.68,186.10 265.00,185.00 265.31,184.06 265.62,183.27 265.94,182.63 266.25,182.11 266.56,181.73 266.88,181.46 267.19,181.31 267.51,181.26 267.82,181.31 268.13,181.46 268.45,181.69 268.76,182.00 269.07,182.38 269.39,182.84 269.70,183.36 270.02,183.93 270.33,184.57 270.64,185.25 270.96,185.98 271.27,186.76 271.58,187.57 271.90,188.42 272.21,189.30 272.53,190.21 272.84,191.15 273.15,192.11 273.47,193.09 273.78,194.09 274.09,195.11 274.41,196.14 274.72,197.19 275.04,198.25 275.35,199.31 275.66,200.38 275.98,201.46 276.29,202.54 276.60,203.63 276.92,204.72 277.23,205.81 277.55,206.89 277.86,207.98 278.17,209.07 278.49,210.15 278.80,211.23 279.11,212.30 279.43,213.37 279.74,214.43 280.06,215.49 280.37,216.54 280.68,217.58 281.00,218.62 281.31,219.64 281.62,220.66 281.94,221.67 282.25,222.67 282.57,223.66 282.88,224.64 283.19,225.61 283.51,226.57 283.82,227.52 284.13,228.46 284.45,229.39 284.76,230.31 285.08,231.22 285.39,232.12 285.70,233.01 286.02,233.88 286.33,234.75 286.64,235.60 286.96,236.45 287.27,237.28 287.59,238.10 287.90,238.91 288.21,239.71 288.53,240.50 288.84,241.28 289.15,242.05 289.47,242.81 289.78,243.56 290.10,244.29 290.41,245.02 290.72,245.74 291.04,246.44 291.35,247.14 291.66,247.83 291.98,248.50 292.29,249.17 292.61,249.83 292.92,250.47 293.23,251.11 293.55,251.74 293.86,252.36 294.17,252.97 294.49,253.57 294.80,254.16 295.12,254.74 295.43,255.32 295.74,255.88 296.06,256.44 296.37,256.99 296.68,257.53 297.00,258.06 297.31,258.59 297.63,259.10 297.94,259.61 298.25,260.11 298.57,260.60 298.88,261.09 299.19,261.57 299.51,262.04 299.82,262.50 300.14,262.96 300.45,263.41 300.76,263.85 301.08,264.29 301.39,264.72 301.70,265.14 302.02,265.55 302.33,265.96 302.65,266.37 302.96,266.77 303.27,267.16 303.59,267.54 303.90,267.92 304.21,268.29 304.53,268.66 304.84,269.02 305.16,269.38 305.47,269.73 305.78,270.08 306.10,270.42 306.41,270.75 306.72,271.08 307.04,271.41 307.35,271.73 307.67,272.04 307.98,272.35 308.29,272.66 308.61,272.96 308.92,273.25 309.23,273.55 309.55,273.83 309.86,274.12 310.18,274.40 310.49,274.67 310.80,274.94 311.12,275.21 311.43,275.47 311.74,275.73 312.06,275.98 312.37,276.23 312.69,276.48 313.00,276.72 313.31,276.96 313.63,277.20 313.94,277.43 314.25,277.66 314.57,277.88 314.88,278.10 315.20,278.32 315.51,278.54 315.82,278.75 316.14,278.96 316.45,279.17 316.76,279.37 317.08,279.57 317.39,279.77 317.71,279.96 318.02,280.15 318.33,280.34 318.65,280.52 318.96,280.71 319.27,280.89 319.59,281.06 319.90,281.24 320.22,281.41 320.53,281.58 320.84,281.75 321.16,281.91 321.47,282.08 321.78,282.24 322.10,282.39 322.41,282.55 322.73,282.70 323.04,282.85 323.35,283.00 323.67,283.15 323.98,283.29 324.29,283.44 324.61,283.58 324.92,283.71 325.24,283.85 325.55,283.99 325.86,284.12 326.18,284.25 326.49,284.38 326.80,284.50 327.12,284.63 327.43,284.75 327.75,284.87 328.06,284.99 328.37,285.11 328.69,285.23 329.00,285.34 329.31,285.46 329.63,285.57 329.94,285.68 330.26,285.79 330.57,285.90 330.88,286.00 331.20,286.11 331.51,286.21 331.82,286.31 332.14,286.41 332.45,286.51 332.77,286.61 333.08,286.70 333.39,286.80 333.71,286.89 334.02,286.98 334.33,287.07 334.65,287.16 334.96,287.25 335.28,287.34 335.59,287.42 335.90,287.51 336.22,287.59 336.53,287.67 336.84,287.75 337.16,287.83 337.47,287.91 337.79,287.99 338.10,288.07 338.41,288.14 338.73,288.22 339.04,288.29 339.35,288.37 339.67,288.44 339.98,288.51 340.30,288.58 340.61,288.65 340.92,288.72 341.24,288.78 341.55,288.85 341.86,288.92 342.18,288.98 342.49,289.04 342.81,289.11 343.12,289.17 343.43,289.23 343.75,289.29 344.06,289.35 344.37,289.41 344.69,289.47 345.00,289.53 345.32,289.58 345.63,289.64 345.94,289.69 346.26,289.75 346.57,289.80 346.88,289.86 347.20,289.91 347.51,289.96 347.83,290.01 348.14,290.06 348.45,290.11 348.77,290.16 349.08,290.21 349.39,290.26 349.71,290.30 350.02,290.35 350.34,290.40 350.65,290.44 350.96,290.49 351.28,290.53 351.59,290.58 351.90,290.62 352.22,290.66 352.53,290.70 352.85,290.75 353.16,290.79 353.47,290.83 353.79,290.87 354.10,290.91 354.41,290.95 354.73,290.99 355.04,291.02 355.36,291.06 355.67,291.10 355.98,291.14 356.30,291.17 356.61,291.21 356.92,291.24 357.24,291.28 357.55,291.31 357.87,291.35 358.18,291.38 358.49,291.41 358.81,291.45 359.12,291.48 359.43,291.51 359.75,291.54 360.06,291.57 360.38,291.61 360.69,291.64 361.00,291.67 361.32,291.70 361.63,291.73 361.94,291.76 362.26,291.78 362.57,291.81 362.89,291.84 363.20,291.87 363.51,291.90 363.83,291.92 364.14,291.95 364.45,291.98 364.77,292.00 365.08,292.03 365.40,292.05 365.71,292.08 366.02,292.10 366.34,292.13 366.65,292.15 366.96,292.18 367.28,292.20 367.59,292.22 367.91,292.25 368.22,292.27 368.53,292.29 368.85,292.32 369.16,292.34 369.47,292.36 369.79,292.38 370.10,292.40 370.42,292.43 370.73,292.45 371.04,292.47 371.36,292.49 371.67,292.51 371.98,292.53 372.30,292.55 372.61,292.57 372.93,292.59 373.24,292.61 373.55,292.62 373.87,292.64 374.18,292.66 374.49,292.68 374.81,292.70 375.12,292.72 375.44,292.73 375.75,292.75 376.06,292.77 376.38,292.79 376.69,292.80 377.00,292.82 377.32,292.84 377.63,292.85 377.95,292.87 378.26,292.88 378.57,292.90 378.89,292.92 379.20,292.93 379.51,292.95 379.83,292.96 380.14,292.98 380.46,292.99 380.77,293.01 381.08,293.02 381.40,293.03 381.71,293.05 382.02,293.06 382.34,293.08 382.65,293.09 382.97,293.10 383.28,293.12 383.59,293.13 383.91,293.14 384.22,293.16 384.53,293.17 384.85,293.18 385.16,293.19 385.48,293.21 385.79,293.22 386.10,293.23 386.42,293.24 386.73,293.25 387.04,293.27 387.36,293.28 387.67,293.29 387.99,293.30 388.30,293.31 388.61,293.32 388.93,293.33 389.24,293.34 389.55,293.36 389.87,293.37 390.18,293.38 390.50,293.39 390.81,293.40 391.12,293.41 391.44,293.42 391.75,293.43 392.06,293.44 392.38,293.45 392.69,293.46 393.01,293.47 393.32,293.48 393.63,293.49 393.95,293.50 394.26,293.50 394.57,293.51 394.89,293.52 395.20,293.53 395.52,293.54 395.83,293.55 396.14,293.56 396.46,293.57 396.77,293.57 397.08,293.58 397.40,293.59 397.71,293.60 398.03,293.61 398.34,293.62 398.65,293.62 398.97,293.63 399.28,293.64 399.59,293.65 399.91,293.65 400.22,293.66 400.54,293.67 400.85,293.68 401.16,293.68 401.48,293.69 401.79,293.70 402.10,293.71 402.42,293.71 402.73,293.72 403.05,293.73 403.36,293.73 403.67,293.74 403.99,293.75 404.30,293.75 404.61,293.76 404.93,293.77 405.24,293.77 405.56,293.78 405.87,293.79 406.18,293.79 406.50,293.80 406.81,293.80 407.12,293.81 407.44,293.82 407.75,293.82 408.07,293.83 408.38,293.83 408.69,293.84 409.01,293.85 409.32,293.85 409.63,293.86 409.95,293.86 410.26,293.87 410.58,293.87 410.89,293.88 411.20,293.88 411.52,293.89 411.83,293.89 412.14,293.90 412.46,293.90 412.77,293.91 413.09,293.91 413.40,293.92 413.71,293.92 414.03,293.93 414.34,293.93 414.65,293.94 414.97,293.94 415.28,293.95 415.60,293.95 415.91,293.96 416.22,293.96 416.54,293.97 416.85,293.97 417.16,293.98 417.48,293.98 417.79,293.98 418.11,293.99 418.42,293.99 418.73,294.00 419.05,294.00 419.36,294.01 419.67,294.01 419.99,294.01 420.30,294.02 420.62,294.02 420.93,294.03 421.24,294.03 421.56,294.03 421.87,294.04 422.18,294.04 422.50,294.05 422.81,294.05 423.13,294.05 423.44,294.06 423.75,294.06 424.07,294.06 424.38,294.07 424.69,294.07 425.01,294.07 425.32,294.08 425.64,294.08 425.95,294.08 426.26,294.09 426.58,294.09 426.89,294.09 427.20,294.10 427.52,294.10 427.83,294.10 428.15,294.11 428.46,294.11 428.77,294.11 429.09,294.12 429.40,294.12 429.71,294.12 430.03,294.13 430.34,294.13 430.66,294.13 430.97,294.14 431.28,294.14 431.60,294.14 431.91,294.14 432.22,294.15 432.54,294.15 432.85,294.15 433.17,294.15 433.48,294.16 433.79,294.16 434.11,294.16 434.42,294.17 434.73,294.17 435.05,294.17 435.36,294.17 435.68,294.18 435.99,294.18 436.30,294.18 436.62,294.18 436.93,294.19 437.24,294.19 437.56,294.19 437.87,294.19 438.19,294.20 438.50,294.20" fill="none" stroke="#f41c1c" stroke-width="0.8"/>
<line x1="258.9" y1="280.9" x2="258.9" y2="294.5" stroke="#4c4c4c" stroke-width="0.8" stroke-dasharray="2.85 1.75 0.8 1.6" fill="none"/>
<line x1="275.8" y1="228.7" x2="275.8" y2="294.5" stroke="#4c4c4c" stroke-width="0.8" stroke-dasharray="2.85 1.75 0.8 1.6" fill="none"/>
<line x1="276.3" y1="175.5" x2="276.3" y2="294.5" stroke="#4c4c4c" stroke-width="0.8" stroke-dasharray="2.85 1.75 0.8 1.6" fill="none"/>
<line x1="321.2" y1="176.4" x2="321.2" y2="294.5" stroke="#4c4c4c" stroke-width="0.8" stroke-dasharray="2.85 1.75 0.8 1.6" fill="none"/>
<line x1="258.9" y1="280.9" x2="438.5" y2="280.9" stroke="#4c4c4c" stroke-width="0.8" stroke-dasharray="2.85 1.75 0.8 1.6" fill="none"/>
<line x1="275.8" y1="228.7" x2="438.5" y2="228.7" stroke="#4c4c4c" stroke-width="0.8" stroke-dasharray="2.85 1.75 0.8 1.6" fill="none"/>
<line x1="321.2" y1="176.4" x2="438.5" y2="176.4" stroke="#4c4c4c" stroke-width="0.8" stroke-dasharray="2.85 1.75 0.8 1.6" fill="none"/>
<polyline points="254.41,294.49 254.72,294.28 255.02,293.91 255.33,293.42 255.64,292.84 255.95,292.17 256.25,291.44 256.56,290.64 256.87,289.80 257.17,288.90 257.48,287.97 257.79,287.00 258.10,285.99 258.40,284.96 258.71,283.90 259.02,282.83 259.33,281.73 259.63,280.61 259.94,279.49 260.25,278.35 260.56,277.20 260.86,276.04 261.17,274.88 261.48,273.71 261.78,272.54 262.09,271.36 262.40,270.19 262.71,269.02 263.01,267.84 263.32,266.68 263.63,265.51 263.94,264.35 264.24,263.19 264.55,262.04 264.86,260.90 265.17,259.76 265.47,258.63 265.78,257.51 266.09,256.40 266.39,255.29 266.70,254.20 267.01,253.12 267.32,252.04 267.62,250.98 267.93,249.92 268.24,248.88 268.55,247.85 268.85,246.83 269.16,245.82 269.47,244.83 269.78,243.84 270.08,242.87 270.39,241.91 270.70,240.96 271.00,240.02 271.31,239.09 271.62,238.18 271.93,237.28 272.23,236.39 272.54,235.51 272.85,234.65 273.16,233.80 273.46,232.95 273.77,232.13 274.08,231.31 274.39,230.50 274.69,229.71 275.00,228.93 275.31,228.16 275.61,227.40 275.92,226.65 276.23,225.91 276.54,225.19 276.84,224.47 277.15,223.77 277.46,223.08 277.77,222.39 278.07,221.72 278.38,221.06 278.69,220.41 279.00,219.77 279.30,219.14 279.61,218.52 279.92,217.90 280.22,217.30 280.53,216.71 280.84,216.12 281.15,215.55 281.45,214.98 281.76,214.43 282.07,213.88 282.38,213.34 282.68,212.81 282.99,212.28 283.30,211.77 283.61,211.26 283.91,210.76 284.22,210.27 284.53,209.78 284.83,209.31 285.14,208.83 285.45,208.37 285.76,207.92 286.06,207.47 286.37,207.02 286.68,206.59 286.99,206.15 287.29,205.73 287.60,205.31 287.91,204.90 288.22,204.49 288.52,204.09 288.83,203.70 289.14,203.31 289.44,202.92 289.75,202.54 290.06,202.17 290.37,201.80 290.67,201.44 290.98,201.08 291.29,200.72 291.60,200.37 291.90,200.02 292.21,199.68 292.52,199.34 292.83,199.01 293.13,198.68 293.44,198.35 293.75,198.03 294.05,197.71 294.36,197.40 294.67,197.09 294.98,196.78 295.28,196.47 295.59,196.17 295.90,195.88 296.21,195.58 296.51,195.29 296.82,195.00 297.13,194.71 297.44,194.43 297.74,194.15 298.05,193.87 298.36,193.60 298.66,193.33 298.97,193.06 299.28,192.79 299.59,192.52 299.89,192.26 300.20,192.00 300.51,191.74 300.82,191.49 301.12,191.23 301.43,190.98 301.74,190.73 302.05,190.48 302.35,190.24 302.66,189.99 302.97,189.75 303.27,189.51 303.58,189.27 303.89,189.04 304.20,188.80 304.50,188.57 304.81,188.34 305.12,188.11 305.43,187.88 305.73,187.65 306.04,187.43 306.35,187.20 306.66,186.98 306.96,186.76 307.27,186.54 307.58,186.33 307.88,186.11 308.19,185.90 308.50,185.68 308.81,185.47 309.11,185.26 309.42,185.05 309.73,184.84 310.04,184.64 310.34,184.43 310.65,184.23 310.96,184.02 311.27,183.82 311.57,183.62 311.88,183.42 312.19,183.23 312.49,183.03 312.80,182.83 313.11,182.64 313.42,182.45 313.72,182.26 314.03,182.07 314.34,181.88 314.65,181.69 314.95,181.50 315.26,181.32 315.57,181.13 315.88,180.95 316.18,180.76 316.49,180.58 316.80,180.40 317.10,180.23 317.41,180.05 317.72,179.87 318.03,179.70 318.33,179.52 318.64,179.35 318.95,179.18 319.26,179.01 319.56,178.84 319.87,178.67 320.18,178.50 320.49,178.33 320.79,178.17 321.10,178.01 321.41,177.84 321.71,177.68 322.02,177.52 322.33,177.36 322.64,177.20 322.94,177.05 323.25,176.89 323.56,176.74 323.87,176.58 324.17,176.43 324.48,176.28 324.79,176.13 325.09,175.98 325.40,175.83 325.71,175.68 326.02,175.54 326.32,175.39 326.63,175.25 326.94,175.11 327.25,174.97 327.55,174.83 327.86,174.69 328.17,174.55 328.48,174.42 328.78,174.28 329.09,174.15 329.40,174.01 329.70,173.88 330.01,173.75 330.32,173.62 330.63,173.49 330.93,173.36 331.24,173.24 331.55,173.11 331.86,172.99 332.16,172.87 332.47,172.74 332.78,172.62 333.09,172.50 333.39,172.39 333.70,172.27 334.01,172.15 334.31,172.04 334.62,171.92 334.93,171.81 335.24,171.70 335.54,171.59 335.85,171.48 336.16,171.37 336.47,171.26 336.77,171.16 337.08,171.05 337.39,170.95 337.70,170.85 338.00,170.74 338.31,170.64 338.62,170.54 338.92,170.44 339.23,170.35 339.54,170.25 339.85,170.15 340.15,170.06 340.46,169.97 340.77,169.87 341.08,169.78 341.38,169.69 341.69,169.60 342.00,169.51 342.31,169.43 342.61,169.34 342.92,169.25 343.23,169.17 343.53,169.09 343.84,169.00 344.15,168.92 344.46,168.84 344.76,168.76 345.07,168.68 345.38,168.61 345.69,168.53 345.99,168.45 346.30,168.38 346.61,168.30 346.92,168.23 347.22,168.16 347.53,168.09 347.84,168.02 348.14,167.95 348.45,167.88 348.76,167.81 349.07,167.74 349.37,167.68 349.68,167.61 349.99,167.55 350.30,167.48 350.60,167.42 350.91,167.36 351.22,167.30 351.53,167.24 351.83,167.18 352.14,167.12 352.45,167.06 352.75,167.00 353.06,166.95 353.37,166.89 353.68,166.84 353.98,166.78 354.29,166.73 354.60,166.68 354.91,166.62 355.21,166.57 355.52,166.52 355.83,166.47 356.14,166.42 356.44,166.37 356.75,166.33 357.06,166.28 357.36,166.23 357.67,166.19 357.98,166.14 358.29,166.10 358.59,166.05 358.90,166.01 359.21,165.97 359.52,165.93 359.82,165.89 360.13,165.84 360.44,165.80 360.75,165.77 361.05,165.73 361.36,165.69 361.67,165.65 361.97,165.61 362.28,165.58 362.59,165.54 362.90,165.50 363.20,165.47 363.51,165.44 363.82,165.40 364.13,165.37 364.43,165.34 364.74,165.30 365.05,165.27 365.36,165.24 365.66,165.21 365.97,165.18 366.28,165.15 366.58,165.12 366.89,165.09 367.20,165.06 367.51,165.03 367.81,165.01 368.12,164.98 368.43,164.95 368.74,164.93 369.04,164.90 369.35,164.87 369.66,164.85 369.97,164.83 370.27,164.80 370.58,164.78 370.89,164.75 371.19,164.73 371.50,164.71 371.81,164.69 372.12,164.66 372.42,164.64 372.73,164.62 373.04,164.60 373.35,164.58 373.65,164.56 373.96,164.54 374.27,164.52 374.58,164.50 374.88,164.48 375.19,164.46 375.50,164.45 375.80,164.43 376.11,164.41 376.42,164.39 376.73,164.38 377.03,164.36 377.34,164.34 377.65,164.33 377.96,164.31 378.26,164.30 378.57,164.28 378.88,164.27 379.19,164.25 379.49,164.24 379.80,164.22 380.11,164.21 380.41,164.19 380.72,164.18 381.03,164.17 381.34,164.15 381.64,164.14 381.95,164.13 382.26,164.12 382.57,164.11 382.87,164.09 383.18,164.08 383.49,164.07 383.80,164.06 384.10,164.05 384.41,164.04 384.72,164.03 385.02,164.02 385.33,164.01 385.64,164.00 385.95,163.99 386.25,163.98 386.56,163.97 386.87,163.96 387.18,163.95 387.48,163.94 387.79,163.93 388.10,163.92 388.41,163.91 388.71,163.90 389.02,163.90 389.33,163.89 389.63,163.88 389.94,163.87 390.25,163.87 390.56,163.86 390.86,163.85 391.17,163.84 391.48,163.84 391.79,163.83 392.09,163.82 392.40,163.82 392.71,163.81 393.02,163.80 393.32,163.80 393.63,163.79 393.94,163.79 394.24,163.78 394.55,163.77 394.86,163.77 395.17,163.76 395.47,163.76 395.78,163.75 396.09,163.75 396.40,163.74 396.70,163.74 397.01,163.73 397.32,163.73 397.63,163.72 397.93,163.72 398.24,163.71 398.55,163.71 398.85,163.70 399.16,163.70 399.47,163.70 399.78,163.69 400.08,163.69 400.39,163.68 400.70,163.68 401.01,163.68 401.31,163.67 401.62,163.67 401.93,163.66 402.23,163.66 402.54,163.66 402.85,163.65 403.16,163.65 403.46,163.65 403.77,163.64 404.08,163.64 404.39,163.64 404.69,163.64 405.00,163.63 405.31,163.63 405.62,163.63 405.92,163.62 406.23,163.62 406.54,163.62 406.84,163.62 407.15,163.61 407.46,163.61 407.77,163.61 408.07,163.61 408.38,163.60 408.69,163.60 409.00,163.60 409.30,163.60 409.61,163.60 409.92,163.59 410.23,163.59 410.53,163.59 410.84,163.59 411.15,163.59 411.45,163.58 411.76,163.58 412.07,163.58 412.38,163.58 412.68,163.58 412.99,163.57 413.30,163.57 413.61,163.57 413.91,163.57 414.22,163.57 414.53,163.57 414.84,163.57 415.14,163.56 415.45,163.56 415.76,163.56 416.06,163.56 416.37,163.56 416.68,163.56 416.99,163.56 417.29,163.55 417.60,163.55 417.91,163.55 418.22,163.55 418.52,163.55 418.83,163.55 419.14,163.55 419.45,163.55 419.75,163.55 420.06,163.54 420.37,163.54 420.67,163.54 420.98,163.54 421.29,163.54 421.60,163.54 421.90,163.54 422.21,163.54 422.52,163.54 422.83,163.54 423.13,163.54 423.44,163.53 423.75,163.53 424.06,163.53 424.36,163.53 424.67,163.53 424.98,163.53 425.28,163.53 425.59,163.53 425.90,163.53 426.21,163.53 426.51,163.53 426.82,163.53 427.13,163.53 427.44,163.53 427.74,163.52 428.05,163.52 428.36,163.52 428.67,163.52 428.97,163.52 429.28,163.52 429.59,163.52 429.89,163.52 430.20,163.52 430.51,163.52 430.82,163.52 431.12,163.52 431.43,163.52 431.74,163.52 432.05,163.52 432.35,163.52 432.66,163.52 432.97,163.52 433.28,163.52 433.58,163.52 433.89,163.52 434.20,163.52 434.50,163.51 434.81,163.51 435.12,163.51 435.43,163.51 435.73,163.51 436.04,163.51 436.35,163.51 436.66,163.51 436.96,163.51 437.27,163.51 437.58,163.51 437.89,163.51 438.19,163.51 438.50,163.51" fill="none" stroke="#2424ff" stroke-width="1.0"/>
<path d="M258.45,278.54h2.9l-1.45,2.5z" fill="#0a0aff"/>
<path d="M264.72,255.01h2.9l-1.45,2.5z" fill="#0a0aff"/>
<path d="M270.98,234.72h2.9l-1.45,2.5z" fill="#0a0aff"/>
<path d="M277.25,219.28h2.9l-1.45,2.5z" fill="#0a0aff"/>
<path d="M283.52,208.00h2.9l-1.45,2.5z" fill="#0a0aff"/>
<path d="M289.78,199.68h2.9l-1.45,2.5z" fill="#0a0aff"/>
<path d="M296.05,193.27h2.9l-1.45,2.5z" fill="#0a0aff"/>
<path d="M302.32,188.03h2.9l-1.45,2.5z" fill="#0a0aff"/>
<path d="M308.58,183.54h2.9l-1.45,2.5z" fill="#0a0aff"/>
<path d="M314.85,179.60h2.9l-1.45,2.5z" fill="#0a0aff"/>
<path d="M321.12,176.14h2.9l-1.45,2.5z" fill="#0a0aff"/>
<path d="M327.38,173.16h2.9l-1.45,2.5z" fill="#0a0aff"/>
<path d="M333.65,170.65h2.9l-1.45,2.5z" fill="#0a0aff"/>
<path d="M339.92,168.60h2.9l-1.45,2.5z" fill="#0a0aff"/>
<path d="M346.18,166.96h2.9l-1.45,2.5z" fill="#0a0aff"/>
<path d="M352.45,165.70h2.9l-1.45,2.5z" fill="#0a0aff"/>
<path d="M358.72,164.74h2.9l-1.45,2.5z" fill="#0a0aff"/>
<path d="M364.98,164.03h2.9l-1.45,2.5z" fill="#0a0aff"/>
<path d="M371.25,163.52h2.9l-1.45,2.5z" fill="#0a0aff"/>
<path d="M377.52,163.16h2.9l-1.45,2.5z" fill="#0a0aff"/>
<path d="M383.78,162.91h2.9l-1.45,2.5z" fill="#0a0aff"/>
<path d="M390.05,162.74h2.9l-1.45,2.5z" fill="#0a0aff"/>
<path d="M396.32,162.62h2.9l-1.45,2.5z" fill="#0a0aff"/>
<path d="M402.58,162.54h2.9l-1.45,2.5z" fill="#0a0aff"/>
<path d="M408.85,162.49h2.9l-1.45,2.5z" fill="#0a0aff"/>
<path d="M415.12,162.46h2.9l-1.45,2.5z" fill="#0a0aff"/>
<path d="M421.38,162.44h2.9l-1.45,2.5z" fill="#0a0aff"/>
<path d="M427.65,162.42h2.9l-1.45,2.5z" fill="#0a0aff"/>
<path d="M433.92,162.41h2.9l-1.45,2.5z" fill="#0a0aff"/>
<line x1="250.0" y1="163.5" x2="438.5" y2="163.5" stroke="#8a8a8a" stroke-width="1"/>
<line x1="250.5" y1="163.0" x2="250.5" y2="295.0" stroke="#505050" stroke-width="1"/>
<line x1="250.0" y1="294.5" x2="438.5" y2="294.5" stroke="#505050" stroke-width="1"/>
<line x1="438.5" y1="163.0" x2="438.5" y2="295.0" stroke="#4040ff" stroke-width="1"/>
<path d="M250.5,294.50h2.2 M250.5,287.95h1.4 M250.5,281.40h2.2 M250.5,274.85h1.4 M250.5,268.30h2.2 M250.5,261.75h1.4 M250.5,255.20h2.2 M250.5,248.65h1.4 M250.5,242.10h2.2 M250.5,235.55h1.4 M250.5,229.00h2.2 M250.5,222.45h1.4 M250.5,215.90h2.2 M250.5,209.35h1.4 M250.5,202.80h2.2 M250.5,196.25h1.4 M250.5,189.70h2.2 M250.5,183.15h1.4 M250.5,176.60h2.2 M250.5,170.05h1.4 M250.5,163.50h2.2" stroke="#333" stroke-width="0.7"/>
<text transform="translate(248.10,296.35) scale(1.0,1)" font-size="6.0" fill="#333" text-anchor="end" stroke="#333" stroke-width="0.08">0.00</text>
<text transform="translate(248.10,283.25) scale(1.0,1)" font-size="6.0" fill="#333" text-anchor="end" stroke="#333" stroke-width="0.08">0.02</text>
<text transform="translate(248.10,270.15) scale(1.0,1)" font-size="6.0" fill="#333" text-anchor="end" stroke="#333" stroke-width="0.08">0.04</text>
<text transform="translate(248.10,257.05) scale(1.0,1)" font-size="6.0" fill="#333" text-anchor="end" stroke="#333" stroke-width="0.08">0.06</text>
<text transform="translate(248.10,243.95) scale(1.0,1)" font-size="6.0" fill="#333" text-anchor="end" stroke="#333" stroke-width="0.08">0.08</text>
<text transform="translate(248.10,230.85) scale(1.0,1)" font-size="6.0" fill="#333" text-anchor="end" stroke="#333" stroke-width="0.08">0.10</text>
<text transform="translate(248.10,217.75) scale(1.0,1)" font-size="6.0" fill="#333" text-anchor="end" stroke="#333" stroke-width="0.08">0.12</text>
<text transform="translate(248.10,204.65) scale(1.0,1)" font-size="6.0" fill="#333" text-anchor="end" stroke="#333" stroke-width="0.08">0.14</text>
<text transform="translate(248.10,191.55) scale(1.0,1)" font-size="6.0" fill="#333" text-anchor="end" stroke="#333" stroke-width="0.08">0.16</text>
<text transform="translate(248.10,178.45) scale(1.0,1)" font-size="6.0" fill="#333" text-anchor="end" stroke="#333" stroke-width="0.08">0.18</text>
<text transform="translate(248.10,165.35) scale(1.0,1)" font-size="6.0" fill="#333" text-anchor="end" stroke="#333" stroke-width="0.08">0.20</text>
<path d="M250.50,294.5v2.5 M281.83,294.5v1.5 M313.17,294.5v2.5 M344.50,294.5v1.5 M375.83,294.5v2.5 M407.17,294.5v1.5 M438.50,294.5v2.5" stroke="#333" stroke-width="0.7"/>
<text transform="translate(250.50,302.60) scale(1.0,1)" font-size="5.9" fill="#333" text-anchor="middle" stroke="#333" stroke-width="0.08">0</text>
<text transform="translate(313.17,302.60) scale(1.0,1)" font-size="5.9" fill="#333" text-anchor="middle" stroke="#333" stroke-width="0.08">1</text>
<text transform="translate(375.83,302.60) scale(1.0,1)" font-size="5.9" fill="#333" text-anchor="middle" stroke="#333" stroke-width="0.08">2</text>
<text transform="translate(438.50,302.60) scale(1.0,1)" font-size="5.9" fill="#333" text-anchor="middle" stroke="#333" stroke-width="0.08">3</text>
<path d="M438.5,294.50h-2.2 M438.5,281.40h-1.4 M438.5,268.30h-2.2 M438.5,255.20h-1.4 M438.5,242.10h-2.2 M438.5,229.00h-1.4 M438.5,215.90h-2.2 M438.5,202.80h-1.4 M438.5,189.70h-2.2 M438.5,176.60h-1.4 M438.5,163.50h-2.2" stroke="#2222ff" stroke-width="0.7"/>
<text transform="translate(441.10,296.25) scale(1.0,1)" font-size="5.5" fill="#2a2aff" text-anchor="start" stroke="#2a2aff" stroke-width="0.08">0</text>
<text transform="translate(441.10,270.05) scale(1.0,1)" font-size="5.5" fill="#2a2aff" text-anchor="start" stroke="#2a2aff" stroke-width="0.08">20</text>
<text transform="translate(441.10,243.85) scale(1.0,1)" font-size="5.5" fill="#2a2aff" text-anchor="start" stroke="#2a2aff" stroke-width="0.08">40</text>
<text transform="translate(441.10,217.65) scale(1.0,1)" font-size="5.5" fill="#2a2aff" text-anchor="start" stroke="#2a2aff" stroke-width="0.08">60</text>
<text transform="translate(441.10,191.45) scale(1.0,1)" font-size="5.5" fill="#2a2aff" text-anchor="start" stroke="#2a2aff" stroke-width="0.08">80</text>
<text transform="translate(441.10,165.25) scale(1.0,1)" font-size="5.5" fill="#2a2aff" text-anchor="start" stroke="#2a2aff" stroke-width="0.08">100</text>
<text transform="translate(235.40,228.50) rotate(-90) scale(0.97,1)" font-size="7" fill="#1a1a1a" text-anchor="middle" stroke="#1a1a1a" stroke-width="0.16">Relative frequency (/%)</text>
<text transform="translate(453.40,228.00) rotate(-90) scale(1.0,1)" font-size="7" fill="#2020ff" text-anchor="middle" stroke="#2020ff" stroke-width="0.16">Cumulative frequency (%)</text>
<text transform="translate(344.50,308.40) scale(0.92,1)" font-size="7.4" fill="#1a1a1a" text-anchor="middle" stroke="#1a1a1a" stroke-width="0.14">Kernel average misorientation (°)</text>
<text transform="translate(252.60,173.80) scale(0.98,1)" font-size="13.5" fill="#151515" text-anchor="start" stroke="#151515" stroke-width="0.1">(e)</text>
<text transform="translate(275.70,172.10) scale(0.89,1)" font-size="7.1" fill="#222" text-anchor="start" stroke="#222" stroke-width="0.12">KAM<tspan font-size="4.4" dy="1.2">mean</tspan><tspan dy="-1.2">=0.41 °</tspan></text>
<text transform="translate(367.70,183.30) scale(0.9,1)" font-size="8.2" fill="#222" text-anchor="start" stroke="#222" stroke-width="0.15">KAM<tspan font-size="5.6" dy="2">90</tspan><tspan dy="-2">=1.13 °</tspan></text>
<text transform="translate(367.90,236.70) scale(0.9,1)" font-size="8.2" fill="#222" text-anchor="start" stroke="#222" stroke-width="0.15">KAM<tspan font-size="5.6" dy="2">50</tspan><tspan dy="-2">=0.40 °</tspan></text>
<text transform="translate(367.20,277.40) scale(0.9,1)" font-size="8.2" fill="#222" text-anchor="start" stroke="#222" stroke-width="0.15">KAM<tspan font-size="5.6" dy="2">10</tspan><tspan dy="-2">=0.12 °</tspan></text></g>
<g><rect x="481.5" y="163.5" width="187.0" height="131.0" fill="#e3ffff"/>
<rect x="485.24" y="283.40" width="3.74" height="11.10" fill="url(#bg)"/>
<rect x="488.98" y="256.80" width="3.74" height="37.70" fill="url(#bg)"/>
<rect x="492.72" y="215.50" width="3.74" height="79.00" fill="url(#bg)"/>
<rect x="496.46" y="194.00" width="3.74" height="100.50" fill="url(#bg)"/>
<rect x="500.20" y="185.30" width="3.74" height="109.20" fill="url(#bg)"/>
<rect x="503.94" y="188.10" width="3.74" height="106.40" fill="url(#bg)"/>
<rect x="507.68" y="194.80" width="3.74" height="99.70" fill="url(#bg)"/>
<rect x="511.42" y="202.90" width="3.74" height="91.60" fill="url(#bg)"/>
<rect x="515.16" y="209.80" width="3.74" height="84.70" fill="url(#bg)"/>
<rect x="518.90" y="215.80" width="3.74" height="78.70" fill="url(#bg)"/>
<rect x="522.64" y="221.00" width="3.74" height="73.50" fill="url(#bg)"/>
<rect x="526.38" y="226.00" width="3.74" height="68.50" fill="url(#bg)"/>
<rect x="530.12" y="231.10" width="3.74" height="63.40" fill="url(#bg)"/>
<rect x="533.86" y="236.30" width="3.74" height="58.20" fill="url(#bg)"/>
<rect x="537.60" y="243.70" width="3.74" height="50.80" fill="url(#bg)"/>
<rect x="541.34" y="250.20" width="3.74" height="44.30" fill="url(#bg)"/>
<rect x="545.08" y="257.30" width="3.74" height="37.20" fill="url(#bg)"/>
<rect x="548.82" y="265.00" width="3.74" height="29.50" fill="url(#bg)"/>
<rect x="552.56" y="271.10" width="3.74" height="23.40" fill="url(#bg)"/>
<rect x="556.30" y="277.00" width="3.74" height="17.50" fill="url(#bg)"/>
<rect x="560.04" y="281.30" width="3.74" height="13.20" fill="url(#bg)"/>
<rect x="563.78" y="284.90" width="3.74" height="9.60" fill="url(#bg)"/>
<rect x="567.52" y="288.10" width="3.74" height="6.40" fill="url(#bg)"/>
<rect x="571.26" y="290.00" width="3.74" height="4.50" fill="url(#bg)"/>
<rect x="575.00" y="291.40" width="3.74" height="3.10" fill="url(#bg)"/>
<rect x="578.74" y="292.40" width="3.74" height="2.10" fill="url(#bg)"/>
<rect x="582.48" y="292.90" width="3.74" height="1.60" fill="url(#bg)"/>
<rect x="586.22" y="293.30" width="3.74" height="1.20" fill="url(#bg)"/>
<rect x="589.96" y="293.60" width="3.74" height="0.90" fill="url(#bg)"/>
<rect x="593.70" y="293.80" width="3.74" height="0.70" fill="url(#bg)"/>
<rect x="597.44" y="294.00" width="3.74" height="0.50" fill="url(#bg)"/>
<path d="M488.98,283.40V294.50 M492.72,256.80V294.50 M496.46,215.50V294.50 M500.20,194.00V294.50 M503.94,188.10V294.50 M507.68,194.80V294.50 M511.42,202.90V294.50 M515.16,209.80V294.50 M518.90,215.80V294.50 M522.64,221.00V294.50 M526.38,226.00V294.50 M530.12,231.10V294.50 M533.86,236.30V294.50 M537.60,243.70V294.50 M541.34,250.20V294.50 M545.08,257.30V294.50 M548.82,265.00V294.50 M552.56,271.10V294.50 M556.30,277.00V294.50 M560.04,281.30V294.50 M563.78,284.90V294.50 M567.52,288.10V294.50 M571.26,290.00V294.50 M575.00,291.40V294.50 M578.74,292.40V294.50 M582.48,292.90V294.50 M586.22,293.30V294.50 M589.96,293.60V294.50 M593.70,293.80V294.50 M597.44,294.00V294.50" stroke="#fff" stroke-opacity="0.85" stroke-width="0.8"/>
<polyline points="483.49,293.89 483.71,293.06 483.93,292.03 484.14,290.85 484.36,289.54 484.58,288.14 484.80,286.65 485.01,285.09 485.23,283.47 485.45,281.79 485.66,280.08 485.88,278.32 486.10,276.54 486.32,274.73 486.53,272.90 486.75,271.05 486.97,269.20 487.19,267.34 487.40,265.47 487.62,263.60 487.84,261.74 488.05,259.87 488.27,258.02 488.49,256.17 488.71,254.33 488.92,252.51 489.14,250.70 489.36,248.91 489.57,247.13 489.79,245.37 490.01,243.63 490.23,241.91 490.44,240.21 490.66,238.54 490.88,236.89 491.10,235.26 491.31,233.65 491.53,232.08 491.75,230.52 491.96,229.00 492.18,227.50 492.40,226.03 492.62,224.58 492.83,223.16 493.05,221.77 493.27,220.41 493.48,219.08 493.70,217.77 493.92,216.50 494.14,215.25 494.35,214.03 494.57,212.84 494.79,211.68 495.01,210.54 495.22,209.44 495.44,208.36 495.66,207.31 495.87,206.30 496.09,205.30 496.31,204.34 496.53,203.41 496.74,202.50 496.96,201.62 497.18,200.76 497.39,199.94 497.61,199.14 497.83,198.37 498.05,197.62 498.26,196.90 498.48,196.21 498.70,195.54 498.91,194.90 499.13,194.28 499.35,193.69 499.57,193.12 499.78,192.57 500.00,192.05 500.22,191.56 500.44,191.09 500.65,190.64 500.87,190.21 501.09,189.80 501.30,189.42 501.52,189.06 501.74,188.72 501.96,188.40 502.17,188.11 502.39,187.83 502.61,187.57 502.82,187.34 503.04,187.12 503.26,186.92 503.48,186.74 503.69,186.58 503.91,186.44 504.13,186.32 504.35,186.21 504.56,186.12 504.78,186.05 505.00,186.00 505.21,185.96 505.43,185.93 505.65,185.93 505.87,185.94 506.08,185.96 506.30,186.00 506.52,186.06 506.73,186.12 506.95,186.21 507.17,186.30 507.39,186.41 507.60,186.53 507.82,186.67 508.04,186.82 508.26,186.98 508.47,187.15 508.69,187.34 508.91,187.53 509.12,187.74 509.34,187.96 509.56,188.19 509.78,188.43 509.99,188.68 510.21,188.94 510.43,189.21 510.64,189.49 510.86,189.77 511.08,190.07 511.30,190.38 511.51,190.69 511.73,191.02 511.95,191.35 512.17,191.69 512.38,192.04 512.60,192.39 512.82,192.75 513.03,193.12 513.25,193.50 513.47,193.88 513.69,194.27 513.90,194.66 514.12,195.06 514.34,195.47 514.55,195.88 514.77,196.30 514.99,196.73 515.21,197.15 515.42,197.59 515.64,198.03 515.86,198.47 516.08,198.92 516.29,199.37 516.51,199.82 516.73,200.28 516.94,200.75 517.16,201.21 517.38,201.68 517.60,202.16 517.81,202.63 518.03,203.11 518.25,203.60 518.46,204.08 518.68,204.57 518.90,205.06 519.12,205.56 519.33,206.05 519.55,206.55 519.77,207.05 519.99,207.55 520.20,208.05 520.42,208.56 520.64,209.06 520.85,209.57 521.07,210.08 521.29,210.59 521.51,211.10 521.72,211.61 521.94,212.12 522.16,212.64 522.37,213.15 522.59,213.67 522.81,214.18 523.03,214.70 523.24,215.21 523.46,215.73 523.68,216.25 523.90,216.76 524.11,217.28 524.33,217.80 524.55,218.31 524.76,218.83 524.98,219.34 525.20,219.86 525.42,220.37 525.63,220.89 525.85,221.40 526.07,221.91 526.28,222.42 526.50,222.93 526.72,223.44 526.94,223.95 527.15,224.46 527.37,224.97 527.59,225.47 527.81,225.98 528.02,226.48 528.24,226.98 528.46,227.49 528.67,227.98 528.89,228.48 529.11,228.98 529.33,229.47 529.54,229.97 529.76,230.46 529.98,230.95 530.19,231.44 530.41,231.93 530.63,232.41 530.85,232.89 531.06,233.38 531.28,233.86 531.50,234.33 531.72,234.81 531.93,235.28 532.15,235.76 532.37,236.23 532.58,236.69 532.80,237.16 533.02,237.62 533.24,238.08 533.45,238.54 533.67,239.00 533.89,239.46 534.10,239.91 534.32,240.36 534.54,240.81 534.76,241.25 534.97,241.70 535.19,242.14 535.41,242.58 535.63,243.02 535.84,243.45 536.06,243.88 536.28,244.31 536.49,244.74 536.71,245.17 536.93,245.59 537.15,246.01 537.36,246.43 537.58,246.84 537.80,247.26 538.01,247.67 538.23,248.08 538.45,248.48 538.67,248.88 538.88,249.29 539.10,249.68 539.32,250.08 539.54,250.47 539.75,250.86 539.97,251.25 540.19,251.64 540.40,252.02 540.62,252.40 540.84,252.78 541.06,253.16 541.27,253.53 541.49,253.90 541.71,254.27 541.92,254.63 542.14,255.00 542.36,255.36 542.58,255.72 542.79,256.07 543.01,256.43 543.23,256.78 543.45,257.13 543.66,257.47 543.88,257.81 544.10,258.16 544.31,258.49 544.53,258.83 544.75,259.16 544.97,259.49 545.18,259.82 545.40,260.15 545.62,260.47 545.83,260.79 546.05,261.11 546.27,261.43 546.49,261.74 546.70,262.06 546.92,262.37 547.14,262.67 547.35,262.98 547.57,263.28 547.79,263.58 548.01,263.88 548.22,264.17 548.44,264.46 548.66,264.75 548.88,265.04 549.09,265.33 549.31,265.61 549.53,265.89 549.74,266.17 549.96,266.45 550.18,266.72 550.40,267.00 550.61,267.27 550.83,267.53 551.05,267.80 551.26,268.06 551.48,268.32 551.70,268.58 551.92,268.84 552.13,269.09 552.35,269.35 552.57,269.60 552.79,269.85 553.00,270.09 553.22,270.34 553.44,270.58 553.65,270.82 553.87,271.06 554.09,271.29 554.31,271.52 554.52,271.76 554.74,271.99 554.96,272.21 555.17,272.44 555.39,272.66 555.61,272.89 555.83,273.10 556.04,273.32 556.26,273.54 556.48,273.75 556.70,273.96 556.91,274.17 557.13,274.38 557.35,274.59 557.56,274.79 557.78,275.00 558.00,275.20 558.22,275.40 558.43,275.59 558.65,275.79 558.87,275.98 559.08,276.17 559.30,276.36 559.52,276.55 559.74,276.74 559.95,276.92 560.17,277.11 560.39,277.29 560.61,277.47 560.82,277.65 561.04,277.82 561.26,278.00 561.47,278.17 561.69,278.34 561.91,278.51 562.13,278.68 562.34,278.85 562.56,279.01 562.78,279.18 562.99,279.34 563.21,279.50 563.43,279.66 563.65,279.82 563.86,279.97 564.08,280.13 564.30,280.28 564.52,280.43 564.73,280.58 564.95,280.73 565.17,280.88 565.38,281.02 565.60,281.17 565.82,281.31 566.04,281.45 566.25,281.59 566.47,281.73 566.69,281.87 566.90,282.00 567.12,282.14 567.34,282.27 567.56,282.40 567.77,282.53 567.99,282.66 568.21,282.79 568.43,282.92 568.64,283.04 568.86,283.17 569.08,283.29 569.29,283.41 569.51,283.53 569.73,283.65 569.95,283.77 570.16,283.89 570.38,284.01 570.60,284.12 570.81,284.23 571.03,284.35 571.25,284.46 571.47,284.57 571.68,284.68 571.90,284.78 572.12,284.89 572.34,285.00 572.55,285.10 572.77,285.21 572.99,285.31 573.20,285.41 573.42,285.51 573.64,285.61 573.86,285.71 574.07,285.81 574.29,285.90 574.51,286.00 574.72,286.09 574.94,286.18 575.16,286.28 575.38,286.37 575.59,286.46 575.81,286.55 576.03,286.64 576.25,286.73 576.46,286.81 576.68,286.90 576.90,286.98 577.11,287.07 577.33,287.15 577.55,287.23 577.77,287.31 577.98,287.40 578.20,287.48 578.42,287.55 578.63,287.63 578.85,287.71 579.07,287.79 579.29,287.86 579.50,287.94 579.72,288.01 579.94,288.08 580.16,288.16 580.37,288.23 580.59,288.30 580.81,288.37 581.02,288.44 581.24,288.51 581.46,288.58 581.68,288.64 581.89,288.71 582.11,288.78 582.33,288.84 582.54,288.91 582.76,288.97 582.98,289.03 583.20,289.09 583.41,289.16 583.63,289.22 583.85,289.28 584.07,289.34 584.28,289.40 584.50,289.45 584.72,289.51 584.93,289.57 585.15,289.63 585.37,289.68 585.59,289.74 585.80,289.79 586.02,289.85 586.24,289.90 586.45,289.95 586.67,290.01 586.89,290.06 587.11,290.11 587.32,290.16 587.54,290.21 587.76,290.26 587.98,290.31 588.19,290.36 588.41,290.40 588.63,290.45 588.84,290.50 589.06,290.54 589.28,290.59 589.50,290.64 589.71,290.68 589.93,290.73 590.15,290.77 590.36,290.81 590.58,290.86 590.80,290.90 591.02,290.94 591.23,290.98 591.45,291.02 591.67,291.06 591.89,291.10 592.10,291.14 592.32,291.18 592.54,291.22 592.75,291.26 592.97,291.30 593.19,291.33 593.41,291.37 593.62,291.41 593.84,291.44 594.06,291.48 594.27,291.52 594.49,291.55 594.71,291.59 594.93,291.62 595.14,291.65 595.36,291.69 595.58,291.72 595.79,291.75 596.01,291.79 596.23,291.82 596.45,291.85 596.66,291.88 596.88,291.91 597.10,291.94 597.32,291.97 597.53,292.00 597.75,292.03 597.97,292.06 598.18,292.09 598.40,292.12 598.62,292.15 598.84,292.17 599.05,292.20 599.27,292.23 599.49,292.26 599.70,292.28 599.92,292.31 600.14,292.33 600.36,292.36 600.57,292.39 600.79,292.41 601.01,292.44 601.23,292.46 601.44,292.48 601.66,292.51 601.88,292.53 602.09,292.56 602.31,292.58 602.53,292.60 602.75,292.62 602.96,292.65 603.18,292.67 603.40,292.69 603.61,292.71 603.83,292.73 604.05,292.76 604.27,292.78 604.48,292.80 604.70,292.82 604.92,292.84 605.14,292.86 605.35,292.88 605.57,292.90 605.79,292.92 606.00,292.94 606.22,292.95 606.44,292.97 606.66,292.99 606.87,293.01 607.09,293.03 607.31,293.04 607.52,293.06 607.74,293.08 607.96,293.10 608.18,293.11 608.39,293.13 608.61,293.15 608.83,293.16 609.05,293.18 609.26,293.20 609.48,293.21 609.70,293.23 609.91,293.24 610.13,293.26 610.35,293.27 610.57,293.29 610.78,293.30 611.00,293.32 611.22,293.33 611.43,293.35 611.65,293.36" fill="none" stroke="#f41c1c" stroke-width="0.8"/>
<line x1="493.2" y1="281.4" x2="493.2" y2="294.5" stroke="#4c4c4c" stroke-width="0.8" stroke-dasharray="2.85 1.75 0.8 1.6" fill="none"/>
<line x1="515.1" y1="231.8" x2="515.1" y2="294.5" stroke="#4c4c4c" stroke-width="0.8" stroke-dasharray="2.85 1.75 0.8 1.6" fill="none"/>
<line x1="518.4" y1="177.5" x2="518.4" y2="294.5" stroke="#4c4c4c" stroke-width="0.8" stroke-dasharray="2.85 1.75 0.8 1.6" fill="none"/>
<line x1="545.2" y1="181.9" x2="545.2" y2="294.5" stroke="#4c4c4c" stroke-width="0.8" stroke-dasharray="2.85 1.75 0.8 1.6" fill="none"/>
<line x1="493.2" y1="281.4" x2="668.5" y2="281.4" stroke="#4c4c4c" stroke-width="0.8" stroke-dasharray="2.85 1.75 0.8 1.6" fill="none"/>
<line x1="514.8" y1="231.8" x2="668.5" y2="231.8" stroke="#4c4c4c" stroke-width="0.8" stroke-dasharray="2.85 1.75 0.8 1.6" fill="none"/>
<line x1="545.2" y1="181.9" x2="668.5" y2="181.9" stroke="#4c4c4c" stroke-width="0.8" stroke-dasharray="2.85 1.75 0.8 1.6" fill="none"/>
<polyline points="486.20,293.35 486.48,293.16 486.77,292.95 487.05,292.71 487.33,292.46 487.62,292.20 487.90,291.91 488.18,291.60 488.46,291.28 488.75,290.93 489.03,290.57 489.31,290.19 489.60,289.79 489.88,289.37 490.16,288.94 490.45,288.48 490.73,288.02 491.01,287.53 491.30,287.03 491.58,286.51 491.86,285.98 492.15,285.43 492.43,284.87 492.71,284.30 492.99,283.71 493.28,283.11 493.56,282.50 493.84,281.88 494.13,281.25 494.41,280.60 494.69,279.95 494.98,279.29 495.26,278.62 495.54,277.94 495.83,277.25 496.11,276.55 496.39,275.85 496.68,275.15 496.96,274.43 497.24,273.72 497.52,272.99 497.81,272.27 498.09,271.54 498.37,270.80 498.66,270.06 498.94,269.33 499.22,268.58 499.51,267.84 499.79,267.10 500.07,266.35 500.36,265.60 500.64,264.86 500.92,264.11 501.20,263.36 501.49,262.62 501.77,261.87 502.05,261.13 502.34,260.39 502.62,259.64 502.90,258.90 503.19,258.17 503.47,257.43 503.75,256.70 504.04,255.97 504.32,255.24 504.60,254.51 504.89,253.79 505.17,253.07 505.45,252.35 505.73,251.63 506.02,250.92 506.30,250.21 506.58,249.51 506.87,248.80 507.15,248.11 507.43,247.41 507.72,246.72 508.00,246.03 508.28,245.34 508.57,244.66 508.85,243.98 509.13,243.31 509.42,242.63 509.70,241.96 509.98,241.30 510.26,240.64 510.55,239.98 510.83,239.32 511.11,238.67 511.40,238.02 511.68,237.37 511.96,236.73 512.25,236.09 512.53,235.45 512.81,234.81 513.10,234.18 513.38,233.55 513.66,232.93 513.94,232.30 514.23,231.68 514.51,231.06 514.79,230.45 515.08,229.84 515.36,229.22 515.64,228.62 515.93,228.01 516.21,227.41 516.49,226.81 516.78,226.21 517.06,225.61 517.34,225.02 517.63,224.43 517.91,223.84 518.19,223.25 518.47,222.67 518.76,222.08 519.04,221.50 519.32,220.93 519.61,220.35 519.89,219.78 520.17,219.20 520.46,218.64 520.74,218.07 521.02,217.50 521.31,216.94 521.59,216.38 521.87,215.83 522.16,215.27 522.44,214.72 522.72,214.17 523.00,213.62 523.29,213.07 523.57,212.53 523.85,211.99 524.14,211.45 524.42,210.92 524.70,210.38 524.99,209.85 525.27,209.32 525.55,208.80 525.84,208.28 526.12,207.76 526.40,207.24 526.68,206.73 526.97,206.22 527.25,205.71 527.53,205.20 527.82,204.70 528.10,204.20 528.38,203.71 528.67,203.22 528.95,202.73 529.23,202.24 529.52,201.76 529.80,201.28 530.08,200.81 530.37,200.34 530.65,199.87 530.93,199.40 531.21,198.94 531.50,198.48 531.78,198.03 532.06,197.58 532.35,197.14 532.63,196.69 532.91,196.25 533.20,195.82 533.48,195.39 533.76,194.96 534.05,194.54 534.33,194.12 534.61,193.71 534.90,193.30 535.18,192.89 535.46,192.49 535.74,192.09 536.03,191.70 536.31,191.31 536.59,190.93 536.88,190.55 537.16,190.17 537.44,189.80 537.73,189.43 538.01,189.07 538.29,188.71 538.58,188.35 538.86,188.00 539.14,187.66 539.43,187.31 539.71,186.98 539.99,186.64 540.27,186.31 540.56,185.99 540.84,185.67 541.12,185.35 541.41,185.04 541.69,184.74 541.97,184.43 542.26,184.14 542.54,183.84 542.82,183.55 543.11,183.27 543.39,182.98 543.67,182.71 543.95,182.43 544.24,182.17 544.52,181.90 544.80,181.64 545.09,181.39 545.37,181.13 545.65,180.89 545.94,180.64 546.22,180.40 546.50,180.17 546.79,179.93 547.07,179.70 547.35,179.48 547.64,179.26 547.92,179.04 548.20,178.83 548.48,178.62 548.77,178.42 549.05,178.21 549.33,178.02 549.62,177.82 549.90,177.63 550.18,177.44 550.47,177.26 550.75,177.08 551.03,176.90 551.32,176.73 551.60,176.56 551.88,176.39 552.17,176.23 552.45,176.07 552.73,175.91 553.01,175.76 553.30,175.61 553.58,175.46 553.86,175.31 554.15,175.17 554.43,175.03 554.71,174.90 555.00,174.76 555.28,174.63 555.56,174.50 555.85,174.38 556.13,174.26 556.41,174.14 556.69,174.02 556.98,173.90 557.26,173.79 557.54,173.68 557.83,173.57 558.11,173.47 558.39,173.37 558.68,173.27 558.96,173.17 559.24,173.07 559.53,172.98 559.81,172.89 560.09,172.80 560.38,172.71 560.66,172.63 560.94,172.54 561.22,172.46 561.51,172.38 561.79,172.30 562.07,172.23 562.36,172.15 562.64,172.08 562.92,172.01 563.21,171.94 563.49,171.88 563.77,171.81 564.06,171.75 564.34,171.68 564.62,171.62 564.91,171.56 565.19,171.51 565.47,171.45 565.75,171.40 566.04,171.34 566.32,171.29 566.60,171.24 566.89,171.19 567.17,171.14 567.45,171.10 567.74,171.05 568.02,171.01 568.30,170.96 568.59,170.92 568.87,170.88 569.15,170.84 569.43,170.80 569.72,170.76 570.00,170.73 570.28,170.69 570.57,170.65 570.85,170.62 571.13,170.59 571.42,170.55 571.70,170.52 571.98,170.49 572.27,170.46 572.55,170.43 572.83,170.41 573.12,170.38 573.40,170.35 573.68,170.33 573.96,170.30 574.25,170.28 574.53,170.25 574.81,170.23 575.10,170.21 575.38,170.19 575.66,170.17 575.95,170.15 576.23,170.13 576.51,170.11 576.80,170.09 577.08,170.07 577.36,170.05 577.65,170.03 577.93,170.02 578.21,170.00 578.49,169.99 578.78,169.97 579.06,169.96 579.34,169.94 579.63,169.93 579.91,169.91 580.19,169.90 580.48,169.89 580.76,169.88 581.04,169.86 581.33,169.85 581.61,169.84 581.89,169.83 582.17,169.82 582.46,169.81 582.74,169.80 583.02,169.79 583.31,169.78 583.59,169.77 583.87,169.76 584.16,169.75 584.44,169.75 584.72,169.74 585.01,169.73 585.29,169.72 585.57,169.72 585.86,169.71 586.14,169.70 586.42,169.69 586.70,169.69 586.99,169.68 587.27,169.68 587.55,169.67 587.84,169.66 588.12,169.66 588.40,169.65 588.69,169.65 588.97,169.64 589.25,169.64 589.54,169.63 589.82,169.63 590.10,169.63 590.39,169.62 590.67,169.62 590.95,169.61 591.23,169.61 591.52,169.61 591.80,169.60 592.08,169.60 592.37,169.60 592.65,169.59 592.93,169.59 593.22,169.59 593.50,169.58 593.78,169.58 594.07,169.58 594.35,169.57 594.63,169.57 594.91,169.57 595.20,169.57 595.48,169.56 595.76,169.56 596.05,169.56 596.33,169.56 596.61,169.56 596.90,169.55 597.18,169.55 597.46,169.55 597.75,169.55 598.03,169.55 598.31,169.55 598.60,169.54 598.88,169.54 599.16,169.54 599.44,169.54 599.73,169.54 600.01,169.54 600.29,169.54 600.58,169.53 600.86,169.53 601.14,169.53 601.43,169.53 601.71,169.53 601.99,169.53 602.28,169.53 602.56,169.53 602.84,169.53 603.13,169.52 603.41,169.52 603.69,169.52 603.97,169.52 604.26,169.52 604.54,169.52 604.82,169.52 605.11,169.52 605.39,169.52 605.67,169.52 605.96,169.52 606.24,169.52 606.52,169.52 606.81,169.52 607.09,169.51 607.37,169.51 607.65,169.51 607.94,169.51 608.22,169.51 608.50,169.51 608.79,169.51 609.07,169.51 609.35,169.51 609.64,169.51 609.92,169.51 610.20,169.51 610.49,169.51 610.77,169.51 611.05,169.51 611.34,169.51 611.62,169.51 611.90,169.51 612.18,169.51 612.47,169.51 612.75,169.51 613.03,169.51 613.32,169.51 613.60,169.51 613.88,169.51 614.17,169.51 614.45,169.51 614.73,169.51 615.02,169.51 615.30,169.51 615.58,169.50 615.87,169.50 616.15,169.50 616.43,169.50 616.71,169.50 617.00,169.50 617.28,169.50 617.56,169.50 617.85,169.50 618.13,169.50 618.41,169.50 618.70,169.50 618.98,169.50 619.26,169.50 619.55,169.50 619.83,169.50 620.11,169.50 620.40,169.50 620.68,169.50 620.96,169.50 621.24,169.50 621.53,169.50 621.81,169.50 622.09,169.50 622.38,169.50 622.66,169.50 622.94,169.50 623.23,169.50 623.51,169.50 623.79,169.50 624.08,169.50 624.36,169.50 624.64,169.50 624.92,169.50 625.21,169.50 625.49,169.50 625.77,169.50 626.06,169.50 626.34,169.50 626.62,169.50 626.91,169.50 627.19,169.50 627.47,169.50 627.76,169.50 628.04,169.50 628.32,169.50 628.61,169.50 628.89,169.50 629.17,169.50 629.45,169.50 629.74,169.50 630.02,169.50 630.30,169.50 630.59,169.50 630.87,169.50 631.15,169.50 631.44,169.50 631.72,169.50 632.00,169.50 632.29,169.50 632.57,169.50 632.85,169.50 633.14,169.50 633.42,169.50 633.70,169.50 633.98,169.50 634.27,169.50 634.55,169.50 634.83,169.50 635.12,169.50 635.40,169.50 635.68,169.50 635.97,169.50 636.25,169.50 636.53,169.50 636.82,169.50 637.10,169.50 637.38,169.50 637.66,169.50 637.95,169.50 638.23,169.50 638.51,169.50 638.80,169.50 639.08,169.50 639.36,169.50 639.65,169.50 639.93,169.50 640.21,169.50 640.50,169.50 640.78,169.50 641.06,169.50 641.35,169.50 641.63,169.50 641.91,169.50 642.19,169.50 642.48,169.50 642.76,169.50 643.04,169.50 643.33,169.50 643.61,169.50 643.89,169.50 644.18,169.50 644.46,169.50 644.74,169.50 645.03,169.50 645.31,169.50 645.59,169.50 645.88,169.50 646.16,169.50 646.44,169.50 646.72,169.50 647.01,169.50 647.29,169.50 647.57,169.50 647.86,169.50 648.14,169.50 648.42,169.50 648.71,169.50 648.99,169.50 649.27,169.50 649.56,169.50 649.84,169.50 650.12,169.50 650.40,169.50 650.69,169.50 650.97,169.50 651.25,169.50 651.54,169.50 651.82,169.50 652.10,169.50 652.39,169.50 652.67,169.50 652.95,169.50 653.24,169.50 653.52,169.50 653.80,169.50 654.09,169.50 654.37,169.50 654.65,169.50 654.93,169.50 655.22,169.50 655.50,169.50 655.78,169.50" fill="none" stroke="#2424ff" stroke-width="1.0"/>
<path d="M485.66,291.56h2.9l-1.45,2.5z" fill="#0a0aff"/>
<path d="M489.40,286.71h2.9l-1.45,2.5z" fill="#0a0aff"/>
<path d="M493.14,279.09h2.9l-1.45,2.5z" fill="#0a0aff"/>
<path d="M496.88,269.82h2.9l-1.45,2.5z" fill="#0a0aff"/>
<path d="M500.62,259.99h2.9l-1.45,2.5z" fill="#0a0aff"/>
<path d="M504.36,250.34h2.9l-1.45,2.5z" fill="#0a0aff"/>
<path d="M508.10,241.21h2.9l-1.45,2.5z" fill="#0a0aff"/>
<path d="M511.84,232.65h2.9l-1.45,2.5z" fill="#0a0aff"/>
<path d="M515.58,224.57h2.9l-1.45,2.5z" fill="#0a0aff"/>
<path d="M519.32,216.91h2.9l-1.45,2.5z" fill="#0a0aff"/>
<path d="M523.06,209.65h2.9l-1.45,2.5z" fill="#0a0aff"/>
<path d="M526.80,202.84h2.9l-1.45,2.5z" fill="#0a0aff"/>
<path d="M530.54,196.60h2.9l-1.45,2.5z" fill="#0a0aff"/>
<path d="M534.28,191.01h2.9l-1.45,2.5z" fill="#0a0aff"/>
<path d="M538.02,186.16h2.9l-1.45,2.5z" fill="#0a0aff"/>
<path d="M541.76,182.06h2.9l-1.45,2.5z" fill="#0a0aff"/>
<path d="M545.50,178.70h2.9l-1.45,2.5z" fill="#0a0aff"/>
<path d="M549.24,176.02h2.9l-1.45,2.5z" fill="#0a0aff"/>
<path d="M552.98,173.93h2.9l-1.45,2.5z" fill="#0a0aff"/>
<path d="M556.72,172.35h2.9l-1.45,2.5z" fill="#0a0aff"/>
<path d="M560.46,171.17h2.9l-1.45,2.5z" fill="#0a0aff"/>
<path d="M564.20,170.32h2.9l-1.45,2.5z" fill="#0a0aff"/>
<path d="M567.94,169.71h2.9l-1.45,2.5z" fill="#0a0aff"/>
<path d="M571.68,169.28h2.9l-1.45,2.5z" fill="#0a0aff"/>
<path d="M575.42,168.98h2.9l-1.45,2.5z" fill="#0a0aff"/>
<path d="M579.16,168.78h2.9l-1.45,2.5z" fill="#0a0aff"/>
<path d="M582.90,168.65h2.9l-1.45,2.5z" fill="#0a0aff"/>
<path d="M586.64,168.56h2.9l-1.45,2.5z" fill="#0a0aff"/>
<path d="M590.38,168.50h2.9l-1.45,2.5z" fill="#0a0aff"/>
<path d="M594.12,168.46h2.9l-1.45,2.5z" fill="#0a0aff"/>
<path d="M597.86,168.44h2.9l-1.45,2.5z" fill="#0a0aff"/>
<path d="M601.60,168.43h2.9l-1.45,2.5z" fill="#0a0aff"/>
<path d="M605.34,168.42h2.9l-1.45,2.5z" fill="#0a0aff"/>
<path d="M609.08,168.41h2.9l-1.45,2.5z" fill="#0a0aff"/>
<path d="M612.82,168.41h2.9l-1.45,2.5z" fill="#0a0aff"/>
<path d="M616.56,168.40h2.9l-1.45,2.5z" fill="#0a0aff"/>
<path d="M620.30,168.40h2.9l-1.45,2.5z" fill="#0a0aff"/>
<path d="M624.04,168.40h2.9l-1.45,2.5z" fill="#0a0aff"/>
<path d="M627.78,168.40h2.9l-1.45,2.5z" fill="#0a0aff"/>
<path d="M631.52,168.40h2.9l-1.45,2.5z" fill="#0a0aff"/>
<path d="M635.26,168.40h2.9l-1.45,2.5z" fill="#0a0aff"/>
<path d="M639.00,168.40h2.9l-1.45,2.5z" fill="#0a0aff"/>
<path d="M642.74,168.40h2.9l-1.45,2.5z" fill="#0a0aff"/>
<path d="M646.48,168.40h2.9l-1.45,2.5z" fill="#0a0aff"/>
<path d="M650.22,168.40h2.9l-1.45,2.5z" fill="#0a0aff"/>
<path d="M653.96,168.40h2.9l-1.45,2.5z" fill="#0a0aff"/>
<line x1="481.0" y1="163.5" x2="668.5" y2="163.5" stroke="#8a8a8a" stroke-width="1"/>
<line x1="481.5" y1="163.0" x2="481.5" y2="295.0" stroke="#505050" stroke-width="1"/>
<line x1="481.0" y1="294.5" x2="668.5" y2="294.5" stroke="#505050" stroke-width="1"/>
<line x1="668.5" y1="163.0" x2="668.5" y2="295.0" stroke="#4040ff" stroke-width="1"/>
<path d="M481.5,294.50h2.2 M481.5,281.40h1.4 M481.5,268.30h2.2 M481.5,255.20h1.4 M481.5,242.10h2.2 M481.5,229.00h1.4 M481.5,215.90h2.2 M481.5,202.80h1.4 M481.5,189.70h2.2 M481.5,176.60h1.4 M481.5,163.50h2.2" stroke="#333" stroke-width="0.7"/>
<text transform="translate(479.10,296.35) scale(1.0,1)" font-size="6.0" fill="#333" text-anchor="end" stroke="#333" stroke-width="0.08">0.00</text>
<text transform="translate(479.10,270.15) scale(1.0,1)" font-size="6.0" fill="#333" text-anchor="end" stroke="#333" stroke-width="0.08">0.02</text>
<text transform="translate(479.10,243.95) scale(1.0,1)" font-size="6.0" fill="#333" text-anchor="end" stroke="#333" stroke-width="0.08">0.04</text>
<text transform="translate(479.10,217.75) scale(1.0,1)" font-size="6.0" fill="#333" text-anchor="end" stroke="#333" stroke-width="0.08">0.06</text>
<text transform="translate(479.10,191.55) scale(1.0,1)" font-size="6.0" fill="#333" text-anchor="end" stroke="#333" stroke-width="0.08">0.08</text>
<text transform="translate(479.10,165.35) scale(1.0,1)" font-size="6.0" fill="#333" text-anchor="end" stroke="#333" stroke-width="0.08">0.10</text>
<path d="M481.50,294.5v-2.5 M500.20,294.5v-1.5 M518.90,294.5v-2.5 M537.60,294.5v-1.5 M556.30,294.5v-2.5 M575.00,294.5v-1.5 M593.70,294.5v-2.5 M612.40,294.5v-1.5 M631.10,294.5v-2.5 M649.80,294.5v-1.5 M668.50,294.5v-2.5" stroke="#333" stroke-width="0.7"/>
<text transform="translate(481.50,301.20) scale(1.0,1)" font-size="5.9" fill="#333" text-anchor="middle" stroke="#333" stroke-width="0.08">0</text>
<text transform="translate(518.90,301.20) scale(1.0,1)" font-size="5.9" fill="#333" text-anchor="middle" stroke="#333" stroke-width="0.08">1</text>
<text transform="translate(556.30,301.20) scale(1.0,1)" font-size="5.9" fill="#333" text-anchor="middle" stroke="#333" stroke-width="0.08">2</text>
<text transform="translate(593.70,301.20) scale(1.0,1)" font-size="5.9" fill="#333" text-anchor="middle" stroke="#333" stroke-width="0.08">3</text>
<text transform="translate(631.10,301.20) scale(1.0,1)" font-size="5.9" fill="#333" text-anchor="middle" stroke="#333" stroke-width="0.08">4</text>
<text transform="translate(668.50,301.20) scale(1.0,1)" font-size="5.9" fill="#333" text-anchor="middle" stroke="#333" stroke-width="0.08">5</text>
<path d="M668.5,294.50h-2.2 M668.5,282.00h-1.4 M668.5,269.50h-2.2 M668.5,257.00h-1.4 M668.5,244.50h-2.2 M668.5,232.00h-1.4 M668.5,219.50h-2.2 M668.5,207.00h-1.4 M668.5,194.50h-2.2 M668.5,182.00h-1.4 M668.5,169.50h-2.2" stroke="#2222ff" stroke-width="0.7"/>
<text transform="translate(671.10,296.25) scale(1.0,1)" font-size="5.5" fill="#2a2aff" text-anchor="start" stroke="#2a2aff" stroke-width="0.08">0</text>
<text transform="translate(671.10,271.25) scale(1.0,1)" font-size="5.5" fill="#2a2aff" text-anchor="start" stroke="#2a2aff" stroke-width="0.08">20</text>
<text transform="translate(671.10,246.25) scale(1.0,1)" font-size="5.5" fill="#2a2aff" text-anchor="start" stroke="#2a2aff" stroke-width="0.08">40</text>
<text transform="translate(671.10,221.25) scale(1.0,1)" font-size="5.5" fill="#2a2aff" text-anchor="start" stroke="#2a2aff" stroke-width="0.08">60</text>
<text transform="translate(671.10,196.25) scale(1.0,1)" font-size="5.5" fill="#2a2aff" text-anchor="start" stroke="#2a2aff" stroke-width="0.08">80</text>
<text transform="translate(671.10,171.25) scale(1.0,1)" font-size="5.5" fill="#2a2aff" text-anchor="start" stroke="#2a2aff" stroke-width="0.08">100</text>
<text transform="translate(466.40,228.50) rotate(-90) scale(0.97,1)" font-size="7" fill="#1a1a1a" text-anchor="middle" stroke="#1a1a1a" stroke-width="0.16">Relative frequency (/%)</text>
<text transform="translate(683.40,228.00) rotate(-90) scale(1.0,1)" font-size="7" fill="#2020ff" text-anchor="middle" stroke="#2020ff" stroke-width="0.16">Cumulative frequency (%)</text>
<text transform="translate(575.00,307.10) scale(0.92,1)" font-size="7.4" fill="#1a1a1a" text-anchor="middle" stroke="#1a1a1a" stroke-width="0.14">Kernel average misorientation (°)</text>
<text transform="translate(483.00,176.80) scale(0.98,1)" font-size="13.5" fill="#151515" text-anchor="start" stroke="#151515" stroke-width="0.1">(f)</text>
<text transform="translate(502.30,175.60) scale(0.89,1)" font-size="7.1" fill="#222" text-anchor="start" stroke="#222" stroke-width="0.12">KAM<tspan font-size="4.4" dy="1.2">mean</tspan><tspan dy="-1.2">=1.0 °</tspan></text>
<text transform="translate(595.70,189.60) scale(0.9,1)" font-size="8.2" fill="#222" text-anchor="start" stroke="#222" stroke-width="0.15">KAM<tspan font-size="5.6" dy="2">90</tspan><tspan dy="-2">=1.71 °</tspan></text>
<text transform="translate(596.80,227.70) scale(0.9,1)" font-size="8.2" fill="#222" text-anchor="start" stroke="#222" stroke-width="0.15">KAM<tspan font-size="5.6" dy="2">50</tspan><tspan dy="-2">=0.88 °</tspan></text>
<text transform="translate(598.60,278.10) scale(0.9,1)" font-size="8.2" fill="#222" text-anchor="start" stroke="#222" stroke-width="0.15">KAM<tspan font-size="5.6" dy="2">10</tspan><tspan dy="-2">=0.31 °</tspan></text></g>
</svg></body></html>
